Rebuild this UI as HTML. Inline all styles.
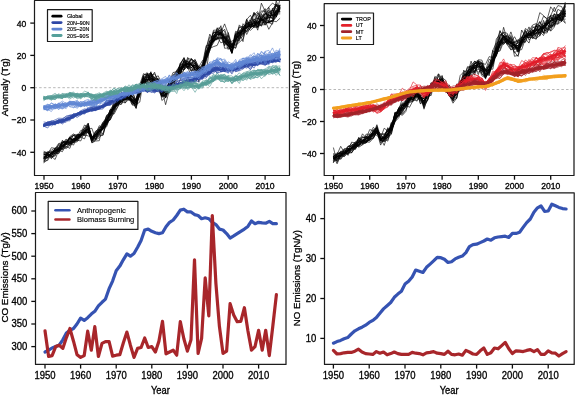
<!DOCTYPE html>
<html><head><meta charset="utf-8"><style>
html,body{margin:0;padding:0;background:#fff;width:575px;height:399px;overflow:hidden}
svg{display:block}
text{font-family:"Liberation Sans", sans-serif}
</style></head><body>
<svg width="575" height="399" viewBox="0 0 575 399" font-family='"Liberation Sans", sans-serif'>
<rect width="575" height="399" fill="#fff"/>
<defs><filter id="bl" x="0" y="0" width="575" height="399" filterUnits="userSpaceOnUse"><feGaussianBlur stdDeviation="0.4"/></filter></defs>
<g filter="url(#bl)">
<line x1="34.5" y1="87.7" x2="289.5" y2="87.7" stroke="#b8b8b8" stroke-width="1" stroke-dasharray="2.5,2.15"/>
<path d="M44.0,157.5 L47.7,155.5 L51.4,153.3 L55.1,151.3 L58.7,149.1 L62.4,146.1 L66.1,143.7 L69.8,141.6 L73.5,139.7 L77.2,137.9 L80.8,135.7 L84.5,132.0 L88.2,129.1 L91.9,139.1 L95.6,136.2 L99.3,131.8 L103.0,128.0 L106.6,120.7 L110.3,114.0 L114.0,107.6 L117.7,103.2 L121.4,100.2 L125.1,97.5 L128.8,96.0 L132.4,99.7 L136.1,102.7 L139.8,90.6 L143.5,80.0 L147.2,79.5 L150.9,79.1 L154.6,79.9 L158.2,82.7 L161.9,92.8 L165.6,94.7 L169.3,86.0 L173.0,81.4 L176.7,76.7 L180.3,70.2 L184.0,66.0 L187.7,63.9 L191.4,65.2 L195.1,67.6 L198.8,70.3 L202.5,70.1 L206.1,57.5 L209.8,45.6 L213.5,38.9 L217.2,34.4 L220.9,34.4 L224.6,37.6 L228.2,42.6 L231.9,47.9 L235.6,40.0 L239.3,33.8 L243.0,30.5 L246.7,27.7 L250.4,25.0 L254.0,23.5 L257.7,22.0 L261.4,20.5 L265.1,19.0 L268.8,17.6 L272.5,15.1 L276.2,12.0 L279.8,9.0" fill="none" stroke="#000" stroke-width="1.0" stroke-linejoin="round" stroke-linecap="round" opacity="1.0"/>
<path d="M44.0,158.3 L47.7,157.6 L51.4,154.0 L55.1,150.7 L58.7,149.2 L62.4,148.8 L66.1,142.7 L69.8,141.8 L73.5,142.4 L77.2,134.6 L80.8,134.6 L84.5,134.2 L88.2,127.4 L91.9,136.7 L95.6,133.9 L99.3,125.7 L103.0,129.0 L106.6,125.5 L110.3,118.0 L114.0,107.0 L117.7,100.6 L121.4,95.7 L125.1,99.6 L128.8,99.8 L132.4,100.5 L136.1,104.2 L139.8,88.5 L143.5,76.7 L147.2,77.5 L150.9,78.1 L154.6,80.3 L158.2,83.5 L161.9,90.0 L165.6,97.9 L169.3,86.2 L173.0,86.3 L176.7,78.4 L180.3,66.9 L184.0,70.0 L187.7,65.9 L191.4,67.6 L195.1,72.5 L198.8,69.5 L202.5,71.4 L206.1,56.6 L209.8,49.0 L213.5,38.5 L217.2,39.4 L220.9,32.3 L224.6,36.6 L228.2,41.1 L231.9,52.3 L235.6,34.7 L239.3,31.9 L243.0,33.5 L246.7,31.5 L250.4,28.1 L254.0,13.4 L257.7,15.6 L261.4,21.9 L265.1,21.1 L268.8,23.0 L272.5,20.4 L276.2,9.8 L279.8,8.7" fill="none" stroke="#000" stroke-width="0.7" stroke-linejoin="round" stroke-linecap="round" opacity="0.9"/>
<path d="M44.0,161.2 L47.7,160.5 L51.4,153.9 L55.1,150.7 L58.7,148.8 L62.4,148.2 L66.1,140.9 L69.8,143.4 L73.5,143.0 L77.2,136.9 L80.8,137.0 L84.5,134.5 L88.2,125.3 L91.9,139.4 L95.6,134.4 L99.3,129.9 L103.0,128.1 L106.6,122.0 L110.3,109.8 L114.0,108.5 L117.7,103.6 L121.4,91.8 L125.1,103.0 L128.8,99.4 L132.4,101.7 L136.1,102.5 L139.8,87.0 L143.5,77.1 L147.2,84.0 L150.9,72.7 L154.6,84.0 L158.2,83.7 L161.9,93.8 L165.6,98.1 L169.3,90.6 L173.0,78.7 L176.7,76.7 L180.3,73.2 L184.0,64.2 L187.7,64.3 L191.4,67.5 L195.1,65.0 L198.8,68.6 L202.5,72.6 L206.1,55.5 L209.8,48.4 L213.5,36.4 L217.2,34.3 L220.9,33.2 L224.6,37.7 L228.2,40.2 L231.9,48.6 L235.6,40.7 L239.3,26.8 L243.0,29.3 L246.7,28.1 L250.4,20.0 L254.0,27.0 L257.7,19.4 L261.4,13.9 L265.1,18.2 L268.8,7.3 L272.5,16.2 L276.2,14.8 L279.8,7.5" fill="none" stroke="#000" stroke-width="0.7" stroke-linejoin="round" stroke-linecap="round" opacity="0.9"/>
<path d="M44.0,156.8 L47.7,155.0 L51.4,158.6 L55.1,152.6 L58.7,148.6 L62.4,149.3 L66.1,147.7 L69.8,144.1 L73.5,139.3 L77.2,138.9 L80.8,134.7 L84.5,131.4 L88.2,130.8 L91.9,142.6 L95.6,140.1 L99.3,130.3 L103.0,134.8 L106.6,122.0 L110.3,119.9 L114.0,107.8 L117.7,105.0 L121.4,101.4 L125.1,95.9 L128.8,87.5 L132.4,98.2 L136.1,100.1 L139.8,89.2 L143.5,82.6 L147.2,77.3 L150.9,81.6 L154.6,79.2 L158.2,83.2 L161.9,89.1 L165.6,92.4 L169.3,83.5 L173.0,80.6 L176.7,74.8 L180.3,71.2 L184.0,66.6 L187.7,61.8 L191.4,65.4 L195.1,65.1 L198.8,66.6 L202.5,73.5 L206.1,57.4 L209.8,48.4 L213.5,46.6 L217.2,45.4 L220.9,36.8 L224.6,43.4 L228.2,45.1 L231.9,53.5 L235.6,38.6 L239.3,31.4 L243.0,32.0 L246.7,25.4 L250.4,24.7 L254.0,23.9 L257.7,22.7 L261.4,18.3 L265.1,24.4 L268.8,21.6 L272.5,20.1 L276.2,11.3 L279.8,8.2" fill="none" stroke="#000" stroke-width="0.7" stroke-linejoin="round" stroke-linecap="round" opacity="0.9"/>
<path d="M44.0,162.2 L47.7,153.6 L51.4,152.3 L55.1,151.8 L58.7,153.2 L62.4,146.6 L66.1,142.2 L69.8,137.7 L73.5,140.8 L77.2,139.3 L80.8,136.5 L84.5,131.8 L88.2,123.5 L91.9,139.7 L95.6,138.5 L99.3,130.6 L103.0,126.7 L106.6,126.9 L110.3,115.6 L114.0,106.6 L117.7,105.1 L121.4,101.7 L125.1,96.9 L128.8,98.1 L132.4,100.3 L136.1,108.3 L139.8,93.4 L143.5,79.4 L147.2,84.9 L150.9,83.0 L154.6,84.2 L158.2,86.1 L161.9,95.7 L165.6,95.6 L169.3,91.3 L173.0,80.5 L176.7,77.6 L180.3,75.7 L184.0,59.6 L187.7,67.8 L191.4,75.2 L195.1,72.1 L198.8,75.5 L202.5,73.8 L206.1,55.5 L209.8,48.4 L213.5,42.9 L217.2,34.8 L220.9,32.9 L224.6,38.2 L228.2,46.0 L231.9,47.9 L235.6,45.4 L239.3,42.3 L243.0,39.0 L246.7,26.6 L250.4,25.1 L254.0,27.4 L257.7,24.7 L261.4,25.6 L265.1,20.0 L268.8,21.3 L272.5,21.1 L276.2,16.6 L279.8,5.6" fill="none" stroke="#000" stroke-width="0.7" stroke-linejoin="round" stroke-linecap="round" opacity="0.9"/>
<path d="M44.0,157.8 L47.7,154.1 L51.4,147.7 L55.1,148.4 L58.7,148.5 L62.4,143.2 L66.1,140.3 L69.8,139.4 L73.5,140.4 L77.2,134.2 L80.8,134.7 L84.5,128.6 L88.2,126.9 L91.9,136.4 L95.6,136.8 L99.3,135.3 L103.0,126.9 L106.6,119.5 L110.3,114.3 L114.0,103.5 L117.7,100.1 L121.4,97.4 L125.1,90.3 L128.8,91.8 L132.4,98.8 L136.1,102.9 L139.8,90.9 L143.5,87.3 L147.2,76.7 L150.9,78.4 L154.6,78.9 L158.2,85.3 L161.9,88.8 L165.6,87.2 L169.3,84.9 L173.0,77.5 L176.7,72.3 L180.3,64.5 L184.0,57.4 L187.7,68.4 L191.4,67.6 L195.1,62.6 L198.8,74.2 L202.5,66.8 L206.1,54.9 L209.8,45.4 L213.5,37.2 L217.2,34.3 L220.9,33.2 L224.6,29.2 L228.2,40.4 L231.9,45.0 L235.6,37.7 L239.3,35.4 L243.0,29.8 L246.7,26.6 L250.4,26.6 L254.0,25.2 L257.7,22.9 L261.4,3.2 L265.1,11.3 L268.8,18.3 L272.5,13.4 L276.2,6.4 L279.8,8.1" fill="none" stroke="#000" stroke-width="0.7" stroke-linejoin="round" stroke-linecap="round" opacity="0.9"/>
<path d="M44.0,162.6 L47.7,159.2 L51.4,152.4 L55.1,153.9 L58.7,150.2 L62.4,145.0 L66.1,148.6 L69.8,145.6 L73.5,142.1 L77.2,140.3 L80.8,140.9 L84.5,131.8 L88.2,129.0 L91.9,141.1 L95.6,139.3 L99.3,135.8 L103.0,135.4 L106.6,121.8 L110.3,112.3 L114.0,114.2 L117.7,107.1 L121.4,97.3 L125.1,100.5 L128.8,98.5 L132.4,105.2 L136.1,105.3 L139.8,88.6 L143.5,76.3 L147.2,85.6 L150.9,77.4 L154.6,84.4 L158.2,86.6 L161.9,96.5 L165.6,88.4 L169.3,92.8 L173.0,86.1 L176.7,81.7 L180.3,66.8 L184.0,66.8 L187.7,65.5 L191.4,70.2 L195.1,69.7 L198.8,76.5 L202.5,70.9 L206.1,73.7 L209.8,45.4 L213.5,41.2 L217.2,38.6 L220.9,36.8 L224.6,46.1 L228.2,32.5 L231.9,45.1 L235.6,48.3 L239.3,38.1 L243.0,23.7 L246.7,28.4 L250.4,25.8 L254.0,27.1 L257.7,27.8 L261.4,23.5 L265.1,22.4 L268.8,21.8 L272.5,21.3 L276.2,13.4 L279.8,11.4" fill="none" stroke="#000" stroke-width="0.7" stroke-linejoin="round" stroke-linecap="round" opacity="0.9"/>
<path d="M44.0,153.0 L47.7,153.4 L51.4,158.4 L55.1,153.5 L58.7,148.9 L62.4,148.6 L66.1,142.8 L69.8,138.3 L73.5,139.8 L77.2,139.9 L80.8,135.2 L84.5,133.6 L88.2,127.9 L91.9,140.6 L95.6,136.6 L99.3,131.6 L103.0,128.1 L106.6,121.5 L110.3,114.4 L114.0,106.4 L117.7,102.9 L121.4,97.6 L125.1,95.9 L128.8,97.6 L132.4,95.7 L136.1,101.4 L139.8,86.8 L143.5,79.1 L147.2,76.0 L150.9,74.2 L154.6,77.7 L158.2,75.8 L161.9,84.1 L165.6,90.1 L169.3,86.4 L173.0,77.8 L176.7,72.4 L180.3,65.5 L184.0,69.7 L187.7,57.4 L191.4,64.7 L195.1,69.4 L198.8,67.9 L202.5,67.4 L206.1,54.5 L209.8,45.0 L213.5,42.1 L217.2,33.6 L220.9,32.4 L224.6,36.9 L228.2,41.7 L231.9,48.2 L235.6,31.3 L239.3,32.8 L243.0,35.5 L246.7,22.9 L250.4,27.6 L254.0,20.8 L257.7,30.2 L261.4,15.8 L265.1,14.5 L268.8,10.1 L272.5,16.0 L276.2,4.1 L279.8,11.8" fill="none" stroke="#000" stroke-width="0.7" stroke-linejoin="round" stroke-linecap="round" opacity="0.9"/>
<path d="M44.0,160.5 L47.7,154.8 L51.4,155.8 L55.1,153.1 L58.7,153.7 L62.4,146.4 L66.1,147.2 L69.8,143.0 L73.5,142.5 L77.2,141.8 L80.8,137.1 L84.5,138.9 L88.2,130.1 L91.9,140.8 L95.6,134.1 L99.3,132.0 L103.0,129.6 L106.6,124.4 L110.3,115.8 L114.0,107.1 L117.7,104.8 L121.4,99.0 L125.1,99.6 L128.8,97.4 L132.4,102.5 L136.1,104.5 L139.8,102.1 L143.5,78.9 L147.2,80.0 L150.9,79.2 L154.6,82.5 L158.2,89.6 L161.9,97.4 L165.6,94.4 L169.3,86.3 L173.0,85.5 L176.7,86.3 L180.3,79.5 L184.0,69.0 L187.7,66.6 L191.4,64.3 L195.1,70.6 L198.8,74.3 L202.5,70.7 L206.1,53.9 L209.8,44.9 L213.5,40.6 L217.2,37.0 L220.9,42.9 L224.6,41.2 L228.2,45.3 L231.9,50.7 L235.6,33.9 L239.3,39.6 L243.0,31.4 L246.7,26.9 L250.4,23.8 L254.0,19.2 L257.7,26.9 L261.4,17.8 L265.1,25.1 L268.8,21.6 L272.5,20.6 L276.2,21.8 L279.8,18.5" fill="none" stroke="#000" stroke-width="0.7" stroke-linejoin="round" stroke-linecap="round" opacity="0.9"/>
<path d="M44.0,154.2 L47.7,157.1 L51.4,153.5 L55.1,152.9 L58.7,143.8 L62.4,145.5 L66.1,143.1 L69.8,137.6 L73.5,135.4 L77.2,137.7 L80.8,135.2 L84.5,135.3 L88.2,135.8 L91.9,138.4 L95.6,131.6 L99.3,128.4 L103.0,122.1 L106.6,117.7 L110.3,113.4 L114.0,108.2 L117.7,101.9 L121.4,102.2 L125.1,96.3 L128.8,96.0 L132.4,101.6 L136.1,100.9 L139.8,96.4 L143.5,77.5 L147.2,74.7 L150.9,82.4 L154.6,81.1 L158.2,79.2 L161.9,89.2 L165.6,94.3 L169.3,81.8 L173.0,76.2 L176.7,77.1 L180.3,63.1 L184.0,58.4 L187.7,63.8 L191.4,59.2 L195.1,61.8 L198.8,70.1 L202.5,67.4 L206.1,53.3 L209.8,40.4 L213.5,32.7 L217.2,32.9 L220.9,25.7 L224.6,41.9 L228.2,39.9 L231.9,47.0 L235.6,48.0 L239.3,34.4 L243.0,28.6 L246.7,27.3 L250.4,25.1 L254.0,21.4 L257.7,22.1 L261.4,26.3 L265.1,14.1 L268.8,12.5 L272.5,9.7 L276.2,4.3 L279.8,11.1" fill="none" stroke="#000" stroke-width="0.7" stroke-linejoin="round" stroke-linecap="round" opacity="0.9"/>
<path d="M44.0,154.6 L47.7,154.6 L51.4,155.3 L55.1,148.6 L58.7,143.5 L62.4,142.7 L66.1,144.2 L69.8,137.1 L73.5,140.4 L77.2,135.8 L80.8,134.1 L84.5,127.7 L88.2,123.2 L91.9,142.2 L95.6,134.9 L99.3,130.1 L103.0,128.1 L106.6,119.7 L110.3,114.7 L114.0,109.8 L117.7,104.4 L121.4,100.2 L125.1,95.0 L128.8,94.2 L132.4,96.4 L136.1,103.0 L139.8,95.0 L143.5,74.9 L147.2,74.2 L150.9,76.0 L154.6,80.8 L158.2,88.7 L161.9,90.4 L165.6,93.7 L169.3,83.4 L173.0,76.0 L176.7,70.4 L180.3,64.8 L184.0,58.2 L187.7,67.5 L191.4,62.8 L195.1,59.3 L198.8,69.2 L202.5,63.8 L206.1,45.7 L209.8,45.4 L213.5,30.2 L217.2,30.1 L220.9,36.8 L224.6,38.6 L228.2,43.7 L231.9,46.8 L235.6,34.2 L239.3,33.0 L243.0,29.2 L246.7,23.8 L250.4,24.3 L254.0,25.1 L257.7,26.9 L261.4,13.5 L265.1,8.6 L268.8,16.9 L272.5,18.5 L276.2,1.0 L279.8,9.6" fill="none" stroke="#000" stroke-width="0.7" stroke-linejoin="round" stroke-linecap="round" opacity="0.9"/>
<path d="M44.0,158.7 L47.7,157.7 L51.4,154.2 L55.1,148.7 L58.7,152.0 L62.4,143.0 L66.1,142.5 L69.8,140.3 L73.5,138.6 L77.2,139.9 L80.8,134.8 L84.5,130.5 L88.2,129.7 L91.9,140.7 L95.6,134.4 L99.3,132.1 L103.0,126.2 L106.6,116.0 L110.3,112.4 L114.0,105.0 L117.7,105.1 L121.4,104.3 L125.1,96.9 L128.8,95.0 L132.4,102.1 L136.1,103.0 L139.8,89.9 L143.5,79.2 L147.2,74.3 L150.9,77.6 L154.6,80.8 L158.2,81.4 L161.9,88.8 L165.6,93.0 L169.3,83.0 L173.0,81.9 L176.7,77.6 L180.3,68.4 L184.0,63.3 L187.7,61.5 L191.4,64.3 L195.1,66.1 L198.8,73.8 L202.5,69.9 L206.1,59.2 L209.8,48.0 L213.5,35.4 L217.2,33.3 L220.9,32.7 L224.6,41.4 L228.2,44.9 L231.9,47.5 L235.6,40.4 L239.3,35.7 L243.0,28.4 L246.7,27.0 L250.4,30.3 L254.0,27.1 L257.7,20.3 L261.4,24.9 L265.1,24.7 L268.8,11.4 L272.5,15.3 L276.2,10.8 L279.8,9.5" fill="none" stroke="#000" stroke-width="0.7" stroke-linejoin="round" stroke-linecap="round" opacity="0.9"/>
<path d="M44.0,152.6 L47.7,152.2 L51.4,150.2 L55.1,148.1 L58.7,147.3 L62.4,145.4 L66.1,141.3 L69.8,139.9 L73.5,135.1 L77.2,134.8 L80.8,135.2 L84.5,130.8 L88.2,123.7 L91.9,138.3 L95.6,134.1 L99.3,131.4 L103.0,125.3 L106.6,118.6 L110.3,109.7 L114.0,104.2 L117.7,102.7 L121.4,98.1 L125.1,90.0 L128.8,100.4 L132.4,91.3 L136.1,101.2 L139.8,84.4 L143.5,73.6 L147.2,75.9 L150.9,77.5 L154.6,72.2 L158.2,82.9 L161.9,91.0 L165.6,91.5 L169.3,82.9 L173.0,79.0 L176.7,73.1 L180.3,70.2 L184.0,60.2 L187.7,61.7 L191.4,64.2 L195.1,61.5 L198.8,70.6 L202.5,67.5 L206.1,55.2 L209.8,46.4 L213.5,38.8 L217.2,28.3 L220.9,27.9 L224.6,37.6 L228.2,35.6 L231.9,51.9 L235.6,35.1 L239.3,27.3 L243.0,26.3 L246.7,25.2 L250.4,21.6 L254.0,12.1 L257.7,19.0 L261.4,10.9 L265.1,11.4 L268.8,7.1 L272.5,3.1 L276.2,5.8 L279.8,6.0" fill="none" stroke="#000" stroke-width="0.7" stroke-linejoin="round" stroke-linecap="round" opacity="0.9"/>
<path d="M44.0,158.1 L47.7,152.8 L51.4,157.0 L55.1,155.1 L58.7,150.3 L62.4,146.9 L66.1,143.7 L69.8,144.8 L73.5,138.4 L77.2,138.0 L80.8,134.6 L84.5,134.0 L88.2,131.2 L91.9,136.7 L95.6,139.3 L99.3,132.4 L103.0,127.1 L106.6,120.7 L110.3,109.4 L114.0,109.2 L117.7,103.6 L121.4,102.2 L125.1,99.4 L128.8,97.4 L132.4,102.7 L136.1,104.6 L139.8,95.2 L143.5,81.8 L147.2,82.6 L150.9,82.2 L154.6,85.6 L158.2,86.7 L161.9,96.5 L165.6,94.6 L169.3,88.5 L173.0,79.8 L176.7,77.8 L180.3,73.2 L184.0,69.9 L187.7,60.3 L191.4,65.0 L195.1,68.3 L198.8,73.7 L202.5,71.6 L206.1,59.4 L209.8,50.7 L213.5,40.4 L217.2,38.1 L220.9,38.7 L224.6,37.5 L228.2,43.2 L231.9,52.7 L235.6,32.8 L239.3,32.8 L243.0,41.6 L246.7,19.8 L250.4,26.3 L254.0,25.5 L257.7,18.7 L261.4,20.3 L265.1,18.9 L268.8,15.5 L272.5,15.0 L276.2,14.6 L279.8,6.2" fill="none" stroke="#000" stroke-width="0.7" stroke-linejoin="round" stroke-linecap="round" opacity="0.9"/>
<path d="M44.0,156.8 L47.7,157.8 L51.4,152.6 L55.1,150.9 L58.7,149.0 L62.4,146.5 L66.1,144.7 L69.8,142.6 L73.5,139.9 L77.2,141.1 L80.8,136.0 L84.5,131.6 L88.2,128.0 L91.9,140.4 L95.6,136.6 L99.3,131.6 L103.0,129.3 L106.6,116.3 L110.3,111.1 L114.0,107.6 L117.7,101.5 L121.4,97.9 L125.1,99.4 L128.8,90.5 L132.4,104.0 L136.1,102.9 L139.8,93.3 L143.5,82.3 L147.2,73.1 L150.9,82.6 L154.6,81.1 L158.2,82.7 L161.9,96.1 L165.6,93.5 L169.3,85.8 L173.0,83.2 L176.7,77.0 L180.3,74.6 L184.0,64.1 L187.7,64.6 L191.4,64.6 L195.1,66.4 L198.8,67.8 L202.5,68.1 L206.1,55.7 L209.8,48.4 L213.5,37.9 L217.2,38.0 L220.9,37.9 L224.6,37.1 L228.2,46.9 L231.9,49.4 L235.6,41.5 L239.3,38.2 L243.0,33.4 L246.7,22.5 L250.4,22.5 L254.0,18.6 L257.7,23.3 L261.4,19.4 L265.1,21.9 L268.8,14.4 L272.5,18.9 L276.2,10.3 L279.8,12.4" fill="none" stroke="#000" stroke-width="0.7" stroke-linejoin="round" stroke-linecap="round" opacity="0.9"/>
<path d="M44.0,154.6 L47.7,153.8 L51.4,155.9 L55.1,149.2 L58.7,152.1 L62.4,143.8 L66.1,139.0 L69.8,142.6 L73.5,141.0 L77.2,138.5 L80.8,134.8 L84.5,134.0 L88.2,129.1 L91.9,138.4 L95.6,133.8 L99.3,130.6 L103.0,127.7 L106.6,123.9 L110.3,118.4 L114.0,111.8 L117.7,106.7 L121.4,98.7 L125.1,99.7 L128.8,95.9 L132.4,99.6 L136.1,101.0 L139.8,92.4 L143.5,77.4 L147.2,80.7 L150.9,75.2 L154.6,87.2 L158.2,78.9 L161.9,100.5 L165.6,97.3 L169.3,86.5 L173.0,78.8 L176.7,76.2 L180.3,72.8 L184.0,61.2 L187.7,69.0 L191.4,63.5 L195.1,70.5 L198.8,72.4 L202.5,63.6 L206.1,54.3 L209.8,40.9 L213.5,40.9 L217.2,27.8 L220.9,33.2 L224.6,44.8 L228.2,41.8 L231.9,52.7 L235.6,36.5 L239.3,37.1 L243.0,28.0 L246.7,23.1 L250.4,24.8 L254.0,19.9 L257.7,18.1 L261.4,19.9 L265.1,18.2 L268.8,17.8 L272.5,17.3 L276.2,13.8 L279.8,13.9" fill="none" stroke="#000" stroke-width="0.7" stroke-linejoin="round" stroke-linecap="round" opacity="0.9"/>
<path d="M44.0,154.8 L47.7,152.8 L51.4,151.6 L55.1,150.7 L58.7,147.3 L62.4,141.2 L66.1,142.4 L69.8,141.1 L73.5,139.1 L77.2,136.6 L80.8,132.6 L84.5,135.5 L88.2,131.4 L91.9,139.4 L95.6,136.2 L99.3,127.6 L103.0,126.6 L106.6,123.8 L110.3,110.2 L114.0,109.8 L117.7,101.4 L121.4,95.8 L125.1,99.5 L128.8,97.4 L132.4,96.4 L136.1,103.1 L139.8,92.1 L143.5,78.0 L147.2,82.3 L150.9,73.2 L154.6,80.9 L158.2,78.7 L161.9,90.7 L165.6,89.8 L169.3,86.0 L173.0,81.7 L176.7,79.6 L180.3,63.2 L184.0,66.1 L187.7,63.5 L191.4,67.6 L195.1,65.3 L198.8,73.0 L202.5,65.0 L206.1,48.7 L209.8,34.1 L213.5,41.8 L217.2,31.3 L220.9,33.1 L224.6,42.6 L228.2,45.5 L231.9,52.7 L235.6,35.7 L239.3,33.0 L243.0,26.4 L246.7,34.5 L250.4,27.4 L254.0,25.2 L257.7,26.8 L261.4,18.3 L265.1,21.8 L268.8,22.4 L272.5,8.1 L276.2,17.0 L279.8,8.8" fill="none" stroke="#000" stroke-width="0.7" stroke-linejoin="round" stroke-linecap="round" opacity="0.9"/>
<path d="M44.0,158.0 L47.7,154.4 L51.4,156.3 L55.1,150.6 L58.7,148.9 L62.4,142.1 L66.1,141.8 L69.8,142.4 L73.5,141.6 L77.2,139.4 L80.8,133.2 L84.5,125.0 L88.2,127.0 L91.9,138.9 L95.6,134.3 L99.3,134.7 L103.0,123.4 L106.6,124.5 L110.3,111.9 L114.0,106.1 L117.7,100.5 L121.4,98.5 L125.1,93.3 L128.8,92.6 L132.4,101.1 L136.1,98.6 L139.8,86.5 L143.5,75.6 L147.2,72.6 L150.9,80.2 L154.6,85.3 L158.2,81.8 L161.9,92.7 L165.6,92.4 L169.3,92.6 L173.0,83.6 L176.7,77.5 L180.3,64.5 L184.0,65.2 L187.7,58.7 L191.4,59.1 L195.1,63.5 L198.8,67.0 L202.5,60.5 L206.1,59.5 L209.8,50.5 L213.5,35.9 L217.2,32.2 L220.9,33.6 L224.6,38.0 L228.2,42.7 L231.9,41.1 L235.6,39.6 L239.3,35.9 L243.0,29.6 L246.7,25.5 L250.4,19.2 L254.0,15.0 L257.7,11.6 L261.4,20.3 L265.1,20.3 L268.8,13.4 L272.5,10.1 L276.2,17.0 L279.8,7.9" fill="none" stroke="#000" stroke-width="0.7" stroke-linejoin="round" stroke-linecap="round" opacity="0.9"/>
<path d="M44.0,160.7 L47.7,157.1 L51.4,153.2 L55.1,151.8 L58.7,147.6 L62.4,145.7 L66.1,146.2 L69.8,148.4 L73.5,138.8 L77.2,135.6 L80.8,136.3 L84.5,131.7 L88.2,129.2 L91.9,128.3 L95.6,139.2 L99.3,133.8 L103.0,128.0 L106.6,119.2 L110.3,115.9 L114.0,111.0 L117.7,98.5 L121.4,97.5 L125.1,99.5 L128.8,98.9 L132.4,101.8 L136.1,108.4 L139.8,88.1 L143.5,80.4 L147.2,76.4 L150.9,72.9 L154.6,77.3 L158.2,82.6 L161.9,95.0 L165.6,95.2 L169.3,81.8 L173.0,74.8 L176.7,74.9 L180.3,68.5 L184.0,67.8 L187.7,66.4 L191.4,71.6 L195.1,67.1 L198.8,69.4 L202.5,71.5 L206.1,62.4 L209.8,45.7 L213.5,31.7 L217.2,32.5 L220.9,29.2 L224.6,31.3 L228.2,43.2 L231.9,53.4 L235.6,39.8 L239.3,24.9 L243.0,28.6 L246.7,32.0 L250.4,28.2 L254.0,25.7 L257.7,23.4 L261.4,19.5 L265.1,20.6 L268.8,29.3 L272.5,22.8 L276.2,12.5 L279.8,6.1" fill="none" stroke="#000" stroke-width="0.7" stroke-linejoin="round" stroke-linecap="round" opacity="0.9"/>
<path d="M44.0,155.5 L47.7,153.6 L51.4,156.3 L55.1,159.5 L58.7,150.4 L62.4,149.6 L66.1,142.7 L69.8,137.9 L73.5,141.8 L77.2,139.6 L80.8,136.4 L84.5,130.6 L88.2,129.0 L91.9,142.9 L95.6,141.0 L99.3,140.7 L103.0,122.6 L106.6,120.7 L110.3,119.8 L114.0,112.4 L117.7,102.9 L121.4,104.1 L125.1,97.3 L128.8,96.1 L132.4,101.9 L136.1,105.4 L139.8,87.0 L143.5,83.2 L147.2,79.2 L150.9,80.1 L154.6,83.0 L158.2,80.0 L161.9,89.7 L165.6,104.7 L169.3,90.7 L173.0,80.7 L176.7,76.6 L180.3,72.2 L184.0,65.9 L187.7,63.3 L191.4,65.4 L195.1,68.9 L198.8,81.9 L202.5,65.8 L206.1,58.1 L209.8,45.4 L213.5,40.5 L217.2,39.6 L220.9,35.0 L224.6,38.9 L228.2,49.5 L231.9,43.5 L235.6,45.0 L239.3,38.7 L243.0,36.4 L246.7,19.6 L250.4,15.3 L254.0,21.7 L257.7,26.7 L261.4,19.8 L265.1,10.7 L268.8,22.6 L272.5,24.2 L276.2,8.5 L279.8,7.8" fill="none" stroke="#000" stroke-width="0.7" stroke-linejoin="round" stroke-linecap="round" opacity="0.9"/>
<path d="M44.0,153.5 L47.7,155.1 L51.4,155.1 L55.1,153.3 L58.7,149.5 L62.4,145.4 L66.1,143.2 L69.8,136.6 L73.5,133.9 L77.2,136.2 L80.8,130.4 L84.5,129.8 L88.2,132.7 L91.9,139.9 L95.6,134.3 L99.3,132.2 L103.0,126.5 L106.6,115.2 L110.3,114.3 L114.0,107.6 L117.7,101.4 L121.4,96.5 L125.1,97.6 L128.8,95.1 L132.4,96.4 L136.1,101.2 L139.8,92.7 L143.5,82.2 L147.2,78.2 L150.9,75.8 L154.6,73.8 L158.2,80.1 L161.9,93.8 L165.6,90.2 L169.3,81.3 L173.0,77.9 L176.7,73.2 L180.3,68.3 L184.0,61.0 L187.7,67.2 L191.4,58.8 L195.1,62.0 L198.8,67.3 L202.5,69.1 L206.1,53.1 L209.8,41.1 L213.5,37.5 L217.2,29.5 L220.9,31.2 L224.6,43.0 L228.2,35.5 L231.9,45.2 L235.6,40.4 L239.3,33.0 L243.0,34.1 L246.7,27.7 L250.4,22.1 L254.0,26.0 L257.7,12.9 L261.4,19.1 L265.1,13.1 L268.8,16.6 L272.5,10.5 L276.2,3.7 L279.8,7.6" fill="none" stroke="#000" stroke-width="0.7" stroke-linejoin="round" stroke-linecap="round" opacity="0.9"/>
<path d="M44.0,156.8 L47.7,157.0 L51.4,152.9 L55.1,151.9 L58.7,150.2 L62.4,151.7 L66.1,144.7 L69.8,143.4 L73.5,145.1 L77.2,137.4 L80.8,134.3 L84.5,131.3 L88.2,126.0 L91.9,140.2 L95.6,140.1 L99.3,137.6 L103.0,133.0 L106.6,123.4 L110.3,114.9 L114.0,100.1 L117.7,101.5 L121.4,102.1 L125.1,98.1 L128.8,98.8 L132.4,100.3 L136.1,107.2 L139.8,91.1 L143.5,84.2 L147.2,81.3 L150.9,71.7 L154.6,86.1 L158.2,80.2 L161.9,95.6 L165.6,96.2 L169.3,80.3 L173.0,80.8 L176.7,75.9 L180.3,69.3 L184.0,61.8 L187.7,64.2 L191.4,62.6 L195.1,63.7 L198.8,69.5 L202.5,66.6 L206.1,60.0 L209.8,43.4 L213.5,40.6 L217.2,38.5 L220.9,29.6 L224.6,48.3 L228.2,47.9 L231.9,49.8 L235.6,39.9 L239.3,41.0 L243.0,28.6 L246.7,31.3 L250.4,23.4 L254.0,26.3 L257.7,23.3 L261.4,22.5 L265.1,22.8 L268.8,22.4 L272.5,21.5 L276.2,17.2 L279.8,5.4" fill="none" stroke="#000" stroke-width="0.7" stroke-linejoin="round" stroke-linecap="round" opacity="0.9"/>
<path d="M44.0,159.5 L47.7,151.5 L51.4,153.9 L55.1,148.7 L58.7,145.5 L62.4,144.5 L66.1,144.3 L69.8,137.7 L73.5,135.5 L77.2,137.8 L80.8,134.3 L84.5,128.4 L88.2,125.6 L91.9,137.6 L95.6,134.8 L99.3,129.2 L103.0,129.6 L106.6,118.9 L110.3,115.4 L114.0,107.3 L117.7,102.4 L121.4,99.8 L125.1,89.6 L128.8,99.0 L132.4,99.4 L136.1,99.3 L139.8,87.5 L143.5,81.2 L147.2,80.8 L150.9,76.3 L154.6,77.6 L158.2,83.9 L161.9,92.6 L165.6,97.2 L169.3,82.3 L173.0,72.5 L176.7,71.8 L180.3,73.3 L184.0,64.0 L187.7,64.3 L191.4,58.6 L195.1,70.8 L198.8,69.7 L202.5,68.3 L206.1,53.1 L209.8,48.7 L213.5,35.8 L217.2,31.1 L220.9,32.4 L224.6,23.9 L228.2,33.7 L231.9,47.9 L235.6,43.7 L239.3,34.9 L243.0,30.3 L246.7,18.9 L250.4,27.9 L254.0,21.3 L257.7,23.7 L261.4,17.4 L265.1,18.8 L268.8,20.8 L272.5,10.2 L276.2,13.2 L279.8,4.9" fill="none" stroke="#000" stroke-width="0.7" stroke-linejoin="round" stroke-linecap="round" opacity="0.9"/>
<path d="M44.0,151.4 L47.7,153.0 L51.4,151.7 L55.1,149.7 L58.7,151.6 L62.4,140.2 L66.1,144.4 L69.8,143.0 L73.5,134.9 L77.2,136.6 L80.8,134.8 L84.5,132.0 L88.2,129.7 L91.9,139.2 L95.6,132.3 L99.3,130.2 L103.0,123.9 L106.6,120.4 L110.3,113.5 L114.0,105.8 L117.7,99.2 L121.4,100.5 L125.1,95.8 L128.8,95.2 L132.4,92.7 L136.1,101.2 L139.8,87.0 L143.5,80.5 L147.2,85.6 L150.9,80.7 L154.6,78.3 L158.2,78.8 L161.9,87.5 L165.6,94.7 L169.3,88.3 L173.0,90.0 L176.7,70.4 L180.3,68.1 L184.0,67.8 L187.7,64.0 L191.4,63.3 L195.1,59.9 L198.8,66.5 L202.5,69.5 L206.1,48.4 L209.8,37.1 L213.5,36.7 L217.2,36.2 L220.9,34.1 L224.6,36.1 L228.2,38.8 L231.9,46.3 L235.6,40.7 L239.3,31.4 L243.0,26.8 L246.7,27.1 L250.4,22.2 L254.0,13.2 L257.7,25.2 L261.4,16.0 L265.1,17.8 L268.8,14.0 L272.5,13.1 L276.2,5.5 L279.8,6.3" fill="none" stroke="#000" stroke-width="0.7" stroke-linejoin="round" stroke-linecap="round" opacity="0.9"/>
<path d="M44.0,157.8 L47.7,155.2 L51.4,157.1 L55.1,156.0 L58.7,149.0 L62.4,142.4 L66.1,141.6 L69.8,145.8 L73.5,140.7 L77.2,136.2 L80.8,134.5 L84.5,131.5 L88.2,132.8 L91.9,138.9 L95.6,131.0 L99.3,129.5 L103.0,122.8 L106.6,118.9 L110.3,114.0 L114.0,105.3 L117.7,102.4 L121.4,101.3 L125.1,103.0 L128.8,95.5 L132.4,104.6 L136.1,102.1 L139.8,85.6 L143.5,85.8 L147.2,74.3 L150.9,73.0 L154.6,79.4 L158.2,86.0 L161.9,89.4 L165.6,91.0 L169.3,83.3 L173.0,82.6 L176.7,73.9 L180.3,70.9 L184.0,64.6 L187.7,63.0 L191.4,71.0 L195.1,64.3 L198.8,70.2 L202.5,67.0 L206.1,51.4 L209.8,46.2 L213.5,32.6 L217.2,32.2 L220.9,34.4 L224.6,34.0 L228.2,46.1 L231.9,46.2 L235.6,39.2 L239.3,30.1 L243.0,31.3 L246.7,30.2 L250.4,26.6 L254.0,21.7 L257.7,27.4 L261.4,20.3 L265.1,13.7 L268.8,15.3 L272.5,16.2 L276.2,14.6 L279.8,-0.2" fill="none" stroke="#000" stroke-width="0.7" stroke-linejoin="round" stroke-linecap="round" opacity="0.9"/>
<path d="M44.0,125.0 L47.7,124.3 L51.4,123.6 L55.1,122.8 L58.7,121.9 L62.4,121.0 L66.1,119.7 L69.8,118.0 L73.5,116.3 L77.2,114.5 L80.8,112.7 L84.5,111.6 L88.2,110.6 L91.9,109.8 L95.6,108.9 L99.3,107.8 L103.0,106.3 L106.6,104.3 L110.3,102.3 L114.0,100.6 L117.7,99.1 L121.4,97.6 L125.1,95.8 L128.8,93.8 L132.4,92.3 L136.1,91.0 L139.8,89.7 L143.5,89.1 L147.2,89.2 L150.9,89.3 L154.6,89.5 L158.2,89.6 L161.9,89.4 L165.6,88.5 L169.3,87.6 L173.0,86.7 L176.7,85.2 L180.3,83.8 L184.0,82.3 L187.7,81.1 L191.4,80.1 L195.1,79.1 L198.8,78.1 L202.5,76.1 L206.1,74.1 L209.8,72.1 L213.5,70.0 L217.2,68.6 L220.9,69.0 L224.6,69.3 L228.2,69.7 L231.9,69.8 L235.6,68.4 L239.3,67.1 L243.0,65.7 L246.7,64.7 L250.4,64.2 L254.0,63.6 L257.7,63.0 L261.4,62.4 L265.1,61.8 L268.8,61.2 L272.5,60.7 L276.2,60.1 L279.8,59.5" fill="none" stroke="#3049a6" stroke-width="2.2" stroke-linejoin="round" stroke-linecap="round" opacity="1.0"/>
<path d="M44.0,126.3 L47.7,122.2 L51.4,121.8 L55.1,124.2 L58.7,121.5 L62.4,119.0 L66.1,118.5 L69.8,119.1 L73.5,115.5 L77.2,115.1 L80.8,113.5 L84.5,110.0 L88.2,109.9 L91.9,108.5 L95.6,110.0 L99.3,107.3 L103.0,105.3 L106.6,103.6 L110.3,101.4 L114.0,100.8 L117.7,99.3 L121.4,97.9 L125.1,96.5 L128.8,92.9 L132.4,91.6 L136.1,91.4 L139.8,91.8 L143.5,89.1 L147.2,90.1 L150.9,90.0 L154.6,91.1 L158.2,88.2 L161.9,87.4 L165.6,87.3 L169.3,85.7 L173.0,87.0 L176.7,82.1 L180.3,80.0 L184.0,81.2 L187.7,82.9 L191.4,80.4 L195.1,76.8 L198.8,79.0 L202.5,73.1 L206.1,73.6 L209.8,70.6 L213.5,67.8 L217.2,66.9 L220.9,68.2 L224.6,66.8 L228.2,68.8 L231.9,70.1 L235.6,67.9 L239.3,67.9 L243.0,63.4 L246.7,62.4 L250.4,63.0 L254.0,62.7 L257.7,61.5 L261.4,58.9 L265.1,64.2 L268.8,62.3 L272.5,60.6 L276.2,56.3 L279.8,60.2" fill="none" stroke="#3049a6" stroke-width="0.7" stroke-linejoin="round" stroke-linecap="round" opacity="0.9"/>
<path d="M44.0,122.0 L47.7,122.7 L51.4,120.9 L55.1,121.7 L58.7,119.9 L62.4,119.6 L66.1,119.2 L69.8,115.3 L73.5,114.9 L77.2,113.1 L80.8,111.9 L84.5,111.5 L88.2,108.1 L91.9,107.8 L95.6,107.3 L99.3,106.9 L103.0,104.5 L106.6,100.5 L110.3,101.0 L114.0,100.1 L117.7,96.2 L121.4,95.8 L125.1,92.5 L128.8,94.0 L132.4,91.7 L136.1,89.2 L139.8,89.3 L143.5,90.0 L147.2,88.0 L150.9,84.2 L154.6,88.0 L158.2,89.9 L161.9,88.3 L165.6,86.1 L169.3,89.3 L173.0,85.4 L176.7,85.6 L180.3,84.1 L184.0,80.4 L187.7,80.9 L191.4,81.0 L195.1,77.9 L198.8,76.1 L202.5,73.6 L206.1,71.9 L209.8,71.8 L213.5,64.6 L217.2,68.6 L220.9,68.1 L224.6,66.6 L228.2,65.7 L231.9,68.7 L235.6,68.3 L239.3,65.2 L243.0,62.0 L246.7,62.7 L250.4,61.3 L254.0,60.4 L257.7,56.7 L261.4,63.1 L265.1,57.8 L268.8,60.7 L272.5,56.6 L276.2,55.8 L279.8,56.7" fill="none" stroke="#3049a6" stroke-width="0.7" stroke-linejoin="round" stroke-linecap="round" opacity="0.9"/>
<path d="M44.0,125.2 L47.7,125.3 L51.4,122.4 L55.1,123.2 L58.7,120.9 L62.4,121.7 L66.1,120.0 L69.8,119.9 L73.5,115.8 L77.2,113.5 L80.8,113.2 L84.5,111.8 L88.2,111.3 L91.9,109.8 L95.6,106.8 L99.3,107.0 L103.0,106.3 L106.6,103.8 L110.3,102.0 L114.0,102.2 L117.7,100.0 L121.4,99.5 L125.1,94.2 L128.8,91.4 L132.4,90.7 L136.1,90.3 L139.8,89.9 L143.5,89.3 L147.2,90.4 L150.9,87.0 L154.6,87.8 L158.2,87.8 L161.9,86.9 L165.6,85.4 L169.3,87.9 L173.0,85.0 L176.7,85.0 L180.3,83.6 L184.0,81.9 L187.7,81.3 L191.4,82.3 L195.1,79.8 L198.8,77.2 L202.5,76.8 L206.1,73.3 L209.8,69.5 L213.5,67.0 L217.2,71.0 L220.9,69.0 L224.6,68.8 L228.2,68.4 L231.9,68.7 L235.6,68.1 L239.3,66.9 L243.0,65.4 L246.7,65.3 L250.4,62.0 L254.0,64.4 L257.7,62.0 L261.4,61.0 L265.1,61.1 L268.8,61.5 L272.5,59.3 L276.2,57.3 L279.8,55.9" fill="none" stroke="#3049a6" stroke-width="0.7" stroke-linejoin="round" stroke-linecap="round" opacity="0.9"/>
<path d="M44.0,125.8 L47.7,125.1 L51.4,124.0 L55.1,122.9 L58.7,123.5 L62.4,120.6 L66.1,120.5 L69.8,117.2 L73.5,117.5 L77.2,114.7 L80.8,111.2 L84.5,112.0 L88.2,110.8 L91.9,108.1 L95.6,110.4 L99.3,106.6 L103.0,107.4 L106.6,104.5 L110.3,103.7 L114.0,100.3 L117.7,98.5 L121.4,98.1 L125.1,94.5 L128.8,93.1 L132.4,90.7 L136.1,92.0 L139.8,88.7 L143.5,88.9 L147.2,91.5 L150.9,90.7 L154.6,89.9 L158.2,87.0 L161.9,89.2 L165.6,87.3 L169.3,84.7 L173.0,89.0 L176.7,84.3 L180.3,86.3 L184.0,82.2 L187.7,82.9 L191.4,80.3 L195.1,80.4 L198.8,78.5 L202.5,75.1 L206.1,73.2 L209.8,73.2 L213.5,69.9 L217.2,69.8 L220.9,69.9 L224.6,68.8 L228.2,68.8 L231.9,67.1 L235.6,70.2 L239.3,67.4 L243.0,65.4 L246.7,66.6 L250.4,63.4 L254.0,62.0 L257.7,65.7 L261.4,62.2 L265.1,63.8 L268.8,62.7 L272.5,61.7 L276.2,60.5 L279.8,61.6" fill="none" stroke="#3049a6" stroke-width="0.7" stroke-linejoin="round" stroke-linecap="round" opacity="0.9"/>
<path d="M44.0,125.3 L47.7,121.8 L51.4,123.3 L55.1,121.5 L58.7,121.0 L62.4,119.9 L66.1,119.4 L69.8,117.8 L73.5,115.2 L77.2,115.3 L80.8,112.3 L84.5,111.4 L88.2,109.2 L91.9,109.5 L95.6,108.1 L99.3,106.7 L103.0,106.8 L106.6,102.1 L110.3,101.0 L114.0,102.1 L117.7,96.9 L121.4,95.9 L125.1,96.0 L128.8,93.7 L132.4,91.8 L136.1,92.4 L139.8,86.4 L143.5,89.7 L147.2,87.7 L150.9,89.9 L154.6,87.8 L158.2,88.8 L161.9,87.7 L165.6,88.4 L169.3,88.2 L173.0,85.7 L176.7,84.4 L180.3,84.4 L184.0,81.5 L187.7,80.3 L191.4,80.8 L195.1,79.7 L198.8,79.2 L202.5,76.0 L206.1,71.8 L209.8,71.3 L213.5,69.3 L217.2,66.5 L220.9,72.1 L224.6,66.4 L228.2,70.0 L231.9,66.7 L235.6,67.6 L239.3,68.2 L243.0,64.4 L246.7,65.6 L250.4,69.4 L254.0,63.9 L257.7,61.4 L261.4,61.0 L265.1,60.3 L268.8,60.0 L272.5,59.4 L276.2,56.6 L279.8,58.9" fill="none" stroke="#3049a6" stroke-width="0.7" stroke-linejoin="round" stroke-linecap="round" opacity="0.9"/>
<path d="M44.0,125.5 L47.7,124.6 L51.4,124.1 L55.1,123.1 L58.7,121.7 L62.4,120.1 L66.1,119.1 L69.8,116.9 L73.5,114.5 L77.2,113.6 L80.8,112.3 L84.5,113.4 L88.2,111.5 L91.9,110.8 L95.6,109.4 L99.3,107.4 L103.0,104.8 L106.6,102.5 L110.3,102.0 L114.0,99.4 L117.7,98.7 L121.4,95.8 L125.1,97.5 L128.8,91.1 L132.4,94.0 L136.1,90.9 L139.8,89.3 L143.5,87.7 L147.2,91.9 L150.9,89.6 L154.6,86.1 L158.2,88.0 L161.9,91.7 L165.6,87.9 L169.3,88.0 L173.0,86.3 L176.7,83.9 L180.3,85.9 L184.0,82.3 L187.7,78.1 L191.4,80.0 L195.1,77.5 L198.8,78.4 L202.5,74.7 L206.1,76.3 L209.8,71.3 L213.5,67.8 L217.2,70.3 L220.9,70.5 L224.6,69.7 L228.2,70.9 L231.9,67.6 L235.6,70.8 L239.3,68.8 L243.0,66.5 L246.7,68.2 L250.4,65.2 L254.0,63.2 L257.7,62.9 L261.4,63.6 L265.1,62.5 L268.8,63.8 L272.5,57.0 L276.2,61.1 L279.8,59.3" fill="none" stroke="#3049a6" stroke-width="0.7" stroke-linejoin="round" stroke-linecap="round" opacity="0.9"/>
<path d="M44.0,125.6 L47.7,123.5 L51.4,122.3 L55.1,122.3 L58.7,123.4 L62.4,120.1 L66.1,119.4 L69.8,118.3 L73.5,116.2 L77.2,114.0 L80.8,111.6 L84.5,112.6 L88.2,111.1 L91.9,110.1 L95.6,107.8 L99.3,108.0 L103.0,106.6 L106.6,103.4 L110.3,101.3 L114.0,97.9 L117.7,98.4 L121.4,96.0 L125.1,93.9 L128.8,93.7 L132.4,93.0 L136.1,91.1 L139.8,90.2 L143.5,88.0 L147.2,85.5 L150.9,88.3 L154.6,90.8 L158.2,91.8 L161.9,87.8 L165.6,89.3 L169.3,88.3 L173.0,85.9 L176.7,83.1 L180.3,84.6 L184.0,82.5 L187.7,80.2 L191.4,78.8 L195.1,78.0 L198.8,75.1 L202.5,78.9 L206.1,72.0 L209.8,69.5 L213.5,70.1 L217.2,68.0 L220.9,68.1 L224.6,68.1 L228.2,68.0 L231.9,68.4 L235.6,64.4 L239.3,66.2 L243.0,63.9 L246.7,63.2 L250.4,64.4 L254.0,62.6 L257.7,60.9 L261.4,61.2 L265.1,61.1 L268.8,60.4 L272.5,58.4 L276.2,60.7 L279.8,56.1" fill="none" stroke="#3049a6" stroke-width="0.7" stroke-linejoin="round" stroke-linecap="round" opacity="0.9"/>
<path d="M44.0,123.7 L47.7,122.5 L51.4,124.0 L55.1,124.2 L58.7,122.4 L62.4,122.7 L66.1,119.8 L69.8,119.2 L73.5,113.5 L77.2,114.6 L80.8,112.9 L84.5,114.2 L88.2,109.2 L91.9,110.4 L95.6,108.4 L99.3,107.4 L103.0,107.5 L106.6,105.6 L110.3,101.9 L114.0,100.9 L117.7,98.5 L121.4,100.0 L125.1,95.9 L128.8,94.1 L132.4,94.5 L136.1,92.4 L139.8,91.3 L143.5,87.9 L147.2,91.7 L150.9,91.7 L154.6,92.3 L158.2,89.7 L161.9,89.4 L165.6,87.6 L169.3,88.3 L173.0,87.7 L176.7,84.8 L180.3,84.7 L184.0,82.4 L187.7,84.3 L191.4,81.5 L195.1,78.0 L198.8,78.7 L202.5,75.3 L206.1,73.8 L209.8,72.3 L213.5,69.0 L217.2,73.2 L220.9,69.3 L224.6,69.2 L228.2,69.1 L231.9,72.6 L235.6,68.2 L239.3,69.7 L243.0,66.6 L246.7,64.5 L250.4,64.9 L254.0,64.4 L257.7,61.8 L261.4,63.2 L265.1,61.1 L268.8,60.1 L272.5,61.8 L276.2,61.0 L279.8,61.4" fill="none" stroke="#3049a6" stroke-width="0.7" stroke-linejoin="round" stroke-linecap="round" opacity="0.9"/>
<path d="M44.0,126.4 L47.7,124.3 L51.4,123.4 L55.1,121.4 L58.7,121.5 L62.4,119.7 L66.1,119.5 L69.8,118.0 L73.5,116.3 L77.2,114.3 L80.8,112.8 L84.5,110.6 L88.2,111.7 L91.9,108.9 L95.6,108.3 L99.3,108.8 L103.0,106.3 L106.6,104.9 L110.3,104.9 L114.0,103.3 L117.7,97.1 L121.4,96.4 L125.1,96.6 L128.8,92.8 L132.4,91.6 L136.1,92.8 L139.8,89.1 L143.5,89.9 L147.2,90.4 L150.9,88.9 L154.6,85.4 L158.2,89.1 L161.9,91.0 L165.6,88.2 L169.3,88.3 L173.0,86.7 L176.7,87.1 L180.3,82.8 L184.0,81.8 L187.7,79.9 L191.4,80.9 L195.1,78.0 L198.8,79.8 L202.5,75.2 L206.1,76.5 L209.8,74.6 L213.5,69.0 L217.2,70.5 L220.9,68.7 L224.6,67.6 L228.2,69.4 L231.9,71.2 L235.6,70.2 L239.3,65.5 L243.0,64.9 L246.7,63.6 L250.4,64.2 L254.0,68.2 L257.7,61.7 L261.4,63.9 L265.1,64.5 L268.8,60.9 L272.5,62.8 L276.2,60.5 L279.8,61.8" fill="none" stroke="#3049a6" stroke-width="0.7" stroke-linejoin="round" stroke-linecap="round" opacity="0.9"/>
<path d="M44.0,125.0 L47.7,124.1 L51.4,125.9 L55.1,123.8 L58.7,122.7 L62.4,122.5 L66.1,120.7 L69.8,120.9 L73.5,115.6 L77.2,117.4 L80.8,114.8 L84.5,112.4 L88.2,108.0 L91.9,110.8 L95.6,109.7 L99.3,108.4 L103.0,106.4 L106.6,105.5 L110.3,104.2 L114.0,103.2 L117.7,101.7 L121.4,96.8 L125.1,97.1 L128.8,95.1 L132.4,91.4 L136.1,89.9 L139.8,88.7 L143.5,90.1 L147.2,91.3 L150.9,88.5 L154.6,90.4 L158.2,91.7 L161.9,92.0 L165.6,88.5 L169.3,85.3 L173.0,87.4 L176.7,85.3 L180.3,83.9 L184.0,84.8 L187.7,83.8 L191.4,83.9 L195.1,80.7 L198.8,81.9 L202.5,77.2 L206.1,73.9 L209.8,74.3 L213.5,69.7 L217.2,72.9 L220.9,71.9 L224.6,70.6 L228.2,68.7 L231.9,67.2 L235.6,71.3 L239.3,70.8 L243.0,69.1 L246.7,65.8 L250.4,69.8 L254.0,64.6 L257.7,64.8 L261.4,64.2 L265.1,65.1 L268.8,62.8 L272.5,59.1 L276.2,60.3 L279.8,59.5" fill="none" stroke="#3049a6" stroke-width="0.7" stroke-linejoin="round" stroke-linecap="round" opacity="0.9"/>
<path d="M44.0,125.1 L47.7,124.8 L51.4,123.0 L55.1,122.8 L58.7,119.7 L62.4,121.7 L66.1,119.3 L69.8,118.6 L73.5,116.5 L77.2,115.0 L80.8,115.1 L84.5,112.5 L88.2,110.5 L91.9,110.5 L95.6,109.6 L99.3,109.4 L103.0,108.9 L106.6,104.5 L110.3,105.2 L114.0,98.4 L117.7,97.2 L121.4,95.5 L125.1,97.1 L128.8,93.1 L132.4,90.6 L136.1,92.7 L139.8,87.0 L143.5,88.6 L147.2,87.9 L150.9,90.6 L154.6,90.9 L158.2,88.7 L161.9,91.0 L165.6,90.3 L169.3,90.4 L173.0,87.7 L176.7,85.4 L180.3,82.6 L184.0,82.9 L187.7,83.0 L191.4,80.0 L195.1,81.5 L198.8,77.5 L202.5,77.7 L206.1,78.1 L209.8,72.7 L213.5,71.3 L217.2,68.4 L220.9,67.2 L224.6,71.4 L228.2,70.9 L231.9,70.1 L235.6,69.5 L239.3,68.2 L243.0,68.1 L246.7,65.8 L250.4,64.4 L254.0,63.2 L257.7,61.4 L261.4,61.7 L265.1,61.9 L268.8,62.6 L272.5,60.3 L276.2,57.9 L279.8,58.3" fill="none" stroke="#3049a6" stroke-width="0.7" stroke-linejoin="round" stroke-linecap="round" opacity="0.9"/>
<path d="M44.0,125.8 L47.7,122.8 L51.4,121.3 L55.1,119.9 L58.7,118.2 L62.4,118.4 L66.1,117.0 L69.8,115.4 L73.5,114.3 L77.2,113.2 L80.8,111.6 L84.5,110.2 L88.2,108.3 L91.9,106.9 L95.6,106.2 L99.3,108.2 L103.0,107.8 L106.6,100.3 L110.3,101.1 L114.0,100.2 L117.7,94.9 L121.4,95.9 L125.1,92.7 L128.8,90.0 L132.4,91.0 L136.1,89.6 L139.8,87.5 L143.5,85.7 L147.2,86.3 L150.9,87.2 L154.6,84.9 L158.2,87.9 L161.9,87.4 L165.6,86.9 L169.3,86.8 L173.0,84.4 L176.7,84.6 L180.3,80.9 L184.0,78.0 L187.7,77.7 L191.4,77.6 L195.1,77.5 L198.8,74.6 L202.5,74.1 L206.1,72.2 L209.8,70.3 L213.5,67.3 L217.2,67.0 L220.9,68.8 L224.6,65.9 L228.2,70.9 L231.9,68.5 L235.6,67.4 L239.3,63.8 L243.0,60.9 L246.7,61.9 L250.4,62.1 L254.0,59.4 L257.7,62.6 L261.4,58.9 L265.1,62.9 L268.8,57.4 L272.5,58.5 L276.2,57.3 L279.8,57.7" fill="none" stroke="#3049a6" stroke-width="0.7" stroke-linejoin="round" stroke-linecap="round" opacity="0.9"/>
<path d="M44.0,125.8 L47.7,125.7 L51.4,124.2 L55.1,124.3 L58.7,121.5 L62.4,122.9 L66.1,119.9 L69.8,117.6 L73.5,117.0 L77.2,114.5 L80.8,112.9 L84.5,111.1 L88.2,111.2 L91.9,109.5 L95.6,109.4 L99.3,108.8 L103.0,105.6 L106.6,103.8 L110.3,102.9 L114.0,100.7 L117.7,97.6 L121.4,98.7 L125.1,97.8 L128.8,93.1 L132.4,94.7 L136.1,92.0 L139.8,92.8 L143.5,88.5 L147.2,89.2 L150.9,88.4 L154.6,91.0 L158.2,89.6 L161.9,92.6 L165.6,88.9 L169.3,86.1 L173.0,86.7 L176.7,89.0 L180.3,85.7 L184.0,82.0 L187.7,82.9 L191.4,80.8 L195.1,82.6 L198.8,77.5 L202.5,78.3 L206.1,73.9 L209.8,72.4 L213.5,71.5 L217.2,67.8 L220.9,71.6 L224.6,70.8 L228.2,68.0 L231.9,71.0 L235.6,69.7 L239.3,66.1 L243.0,65.2 L246.7,63.8 L250.4,65.0 L254.0,65.0 L257.7,63.4 L261.4,58.3 L265.1,64.7 L268.8,63.6 L272.5,61.6 L276.2,60.2 L279.8,59.6" fill="none" stroke="#3049a6" stroke-width="0.7" stroke-linejoin="round" stroke-linecap="round" opacity="0.9"/>
<path d="M44.0,124.5 L47.7,121.9 L51.4,121.3 L55.1,121.4 L58.7,119.8 L62.4,119.2 L66.1,116.0 L69.8,115.2 L73.5,115.9 L77.2,113.6 L80.8,110.7 L84.5,108.9 L88.2,109.4 L91.9,107.1 L95.6,106.6 L99.3,105.8 L103.0,105.2 L106.6,101.1 L110.3,99.7 L114.0,97.8 L117.7,94.4 L121.4,94.8 L125.1,92.8 L128.8,91.5 L132.4,90.1 L136.1,93.3 L139.8,87.4 L143.5,85.9 L147.2,87.5 L150.9,88.3 L154.6,90.0 L158.2,89.0 L161.9,86.2 L165.6,84.9 L169.3,85.1 L173.0,83.6 L176.7,81.4 L180.3,80.3 L184.0,78.9 L187.7,77.6 L191.4,77.0 L195.1,77.1 L198.8,76.2 L202.5,71.2 L206.1,69.3 L209.8,66.3 L213.5,68.1 L217.2,64.4 L220.9,67.3 L224.6,65.8 L228.2,65.5 L231.9,67.3 L235.6,64.4 L239.3,67.4 L243.0,62.9 L246.7,60.7 L250.4,59.0 L254.0,62.3 L257.7,58.8 L261.4,63.2 L265.1,58.9 L268.8,57.8 L272.5,56.5 L276.2,52.8 L279.8,51.7" fill="none" stroke="#3049a6" stroke-width="0.7" stroke-linejoin="round" stroke-linecap="round" opacity="0.9"/>
<path d="M44.0,125.5 L47.7,123.0 L51.4,123.2 L55.1,122.5 L58.7,120.9 L62.4,121.9 L66.1,122.3 L69.8,118.4 L73.5,115.6 L77.2,114.7 L80.8,113.5 L84.5,111.2 L88.2,110.6 L91.9,107.3 L95.6,109.0 L99.3,108.0 L103.0,105.1 L106.6,105.1 L110.3,105.2 L114.0,98.3 L117.7,98.0 L121.4,98.4 L125.1,96.5 L128.8,92.9 L132.4,94.5 L136.1,91.2 L139.8,89.1 L143.5,90.8 L147.2,88.0 L150.9,92.4 L154.6,91.6 L158.2,90.8 L161.9,87.5 L165.6,89.0 L169.3,88.4 L173.0,85.8 L176.7,83.7 L180.3,83.0 L184.0,81.8 L187.7,84.6 L191.4,82.6 L195.1,80.8 L198.8,76.7 L202.5,78.8 L206.1,70.5 L209.8,73.0 L213.5,69.7 L217.2,70.2 L220.9,64.8 L224.6,69.3 L228.2,72.4 L231.9,70.2 L235.6,69.7 L239.3,67.2 L243.0,65.8 L246.7,65.0 L250.4,67.7 L254.0,64.2 L257.7,62.4 L261.4,62.1 L265.1,61.9 L268.8,60.6 L272.5,62.4 L276.2,60.5 L279.8,61.4" fill="none" stroke="#3049a6" stroke-width="0.7" stroke-linejoin="round" stroke-linecap="round" opacity="0.9"/>
<path d="M44.0,123.5 L47.7,122.6 L51.4,123.3 L55.1,124.3 L58.7,119.9 L62.4,120.3 L66.1,119.3 L69.8,118.9 L73.5,116.8 L77.2,116.0 L80.8,112.8 L84.5,111.0 L88.2,110.7 L91.9,109.7 L95.6,108.1 L99.3,107.7 L103.0,106.1 L106.6,103.4 L110.3,101.7 L114.0,100.1 L117.7,101.2 L121.4,97.8 L125.1,95.2 L128.8,93.6 L132.4,91.0 L136.1,89.6 L139.8,89.7 L143.5,88.0 L147.2,92.5 L150.9,89.8 L154.6,93.0 L158.2,90.3 L161.9,88.2 L165.6,88.8 L169.3,87.8 L173.0,87.1 L176.7,86.7 L180.3,84.8 L184.0,83.7 L187.7,82.0 L191.4,79.4 L195.1,80.7 L198.8,78.4 L202.5,73.2 L206.1,72.8 L209.8,73.2 L213.5,67.4 L217.2,68.9 L220.9,69.1 L224.6,70.1 L228.2,69.4 L231.9,68.7 L235.6,69.0 L239.3,70.3 L243.0,66.3 L246.7,67.1 L250.4,65.2 L254.0,63.2 L257.7,65.0 L261.4,61.9 L265.1,64.1 L268.8,60.7 L272.5,60.0 L276.2,60.2 L279.8,60.4" fill="none" stroke="#3049a6" stroke-width="0.7" stroke-linejoin="round" stroke-linecap="round" opacity="0.9"/>
<path d="M44.0,124.0 L47.7,124.8 L51.4,123.0 L55.1,125.1 L58.7,121.6 L62.4,120.4 L66.1,119.1 L69.8,117.6 L73.5,114.8 L77.2,115.4 L80.8,112.1 L84.5,110.9 L88.2,112.4 L91.9,108.5 L95.6,108.5 L99.3,106.3 L103.0,107.3 L106.6,101.1 L110.3,100.9 L114.0,99.5 L117.7,99.7 L121.4,96.3 L125.1,95.0 L128.8,93.5 L132.4,90.1 L136.1,91.6 L139.8,88.9 L143.5,88.4 L147.2,90.2 L150.9,90.3 L154.6,87.6 L158.2,88.6 L161.9,88.8 L165.6,89.6 L169.3,89.3 L173.0,85.2 L176.7,87.5 L180.3,83.4 L184.0,82.3 L187.7,83.9 L191.4,79.4 L195.1,79.0 L198.8,79.9 L202.5,75.6 L206.1,73.3 L209.8,72.3 L213.5,70.6 L217.2,66.9 L220.9,67.2 L224.6,70.1 L228.2,70.8 L231.9,70.2 L235.6,69.0 L239.3,67.7 L243.0,63.5 L246.7,64.0 L250.4,64.5 L254.0,65.6 L257.7,61.7 L261.4,62.5 L265.1,59.7 L268.8,60.7 L272.5,61.2 L276.2,59.9 L279.8,62.0" fill="none" stroke="#3049a6" stroke-width="0.7" stroke-linejoin="round" stroke-linecap="round" opacity="0.9"/>
<path d="M44.0,126.3 L47.7,128.0 L51.4,123.0 L55.1,122.9 L58.7,121.9 L62.4,124.0 L66.1,120.8 L69.8,119.2 L73.5,117.7 L77.2,114.6 L80.8,114.5 L84.5,111.2 L88.2,111.1 L91.9,109.0 L95.6,110.5 L99.3,109.2 L103.0,105.8 L106.6,105.8 L110.3,103.6 L114.0,100.3 L117.7,98.8 L121.4,96.7 L125.1,96.3 L128.8,94.1 L132.4,92.9 L136.1,91.9 L139.8,87.9 L143.5,88.1 L147.2,92.5 L150.9,90.0 L154.6,91.9 L158.2,90.4 L161.9,88.2 L165.6,90.8 L169.3,87.5 L173.0,87.7 L176.7,85.9 L180.3,83.9 L184.0,79.2 L187.7,80.7 L191.4,79.5 L195.1,81.2 L198.8,78.9 L202.5,75.2 L206.1,72.6 L209.8,73.2 L213.5,73.3 L217.2,68.4 L220.9,71.7 L224.6,71.3 L228.2,70.1 L231.9,68.9 L235.6,71.7 L239.3,70.1 L243.0,62.3 L246.7,66.5 L250.4,63.5 L254.0,65.8 L257.7,64.5 L261.4,62.4 L265.1,65.3 L268.8,62.8 L272.5,59.5 L276.2,61.5 L279.8,59.2" fill="none" stroke="#3049a6" stroke-width="0.7" stroke-linejoin="round" stroke-linecap="round" opacity="0.9"/>
<path d="M44.0,125.0 L47.7,124.5 L51.4,123.2 L55.1,121.5 L58.7,120.5 L62.4,122.2 L66.1,117.7 L69.8,117.2 L73.5,114.3 L77.2,114.5 L80.8,114.1 L84.5,112.3 L88.2,110.1 L91.9,111.2 L95.6,110.3 L99.3,108.6 L103.0,106.9 L106.6,104.6 L110.3,101.6 L114.0,101.0 L117.7,98.6 L121.4,98.5 L125.1,96.2 L128.8,93.0 L132.4,93.0 L136.1,89.9 L139.8,90.2 L143.5,91.2 L147.2,87.0 L150.9,89.6 L154.6,90.7 L158.2,88.6 L161.9,88.2 L165.6,89.9 L169.3,87.0 L173.0,86.6 L176.7,86.4 L180.3,83.9 L184.0,81.4 L187.7,79.7 L191.4,80.3 L195.1,78.5 L198.8,78.6 L202.5,78.1 L206.1,73.0 L209.8,71.7 L213.5,71.7 L217.2,71.6 L220.9,66.9 L224.6,71.7 L228.2,72.5 L231.9,66.2 L235.6,71.1 L239.3,67.7 L243.0,68.5 L246.7,65.7 L250.4,66.4 L254.0,64.1 L257.7,64.6 L261.4,60.6 L265.1,62.4 L268.8,60.9 L272.5,61.5 L276.2,62.5 L279.8,58.5" fill="none" stroke="#3049a6" stroke-width="0.7" stroke-linejoin="round" stroke-linecap="round" opacity="0.9"/>
<path d="M44.0,126.4 L47.7,125.2 L51.4,123.6 L55.1,122.8 L58.7,121.7 L62.4,121.6 L66.1,118.1 L69.8,118.2 L73.5,118.2 L77.2,112.9 L80.8,112.7 L84.5,113.5 L88.2,111.0 L91.9,109.9 L95.6,110.6 L99.3,107.6 L103.0,107.6 L106.6,105.3 L110.3,104.4 L114.0,99.4 L117.7,101.0 L121.4,96.4 L125.1,96.8 L128.8,93.1 L132.4,90.9 L136.1,90.6 L139.8,92.0 L143.5,87.4 L147.2,90.1 L150.9,88.5 L154.6,89.1 L158.2,88.2 L161.9,88.9 L165.6,89.1 L169.3,87.4 L173.0,86.8 L176.7,83.4 L180.3,82.8 L184.0,81.0 L187.7,80.4 L191.4,79.6 L195.1,80.2 L198.8,77.3 L202.5,75.6 L206.1,76.5 L209.8,72.8 L213.5,68.0 L217.2,67.7 L220.9,69.1 L224.6,69.1 L228.2,70.0 L231.9,70.2 L235.6,69.4 L239.3,65.6 L243.0,67.4 L246.7,64.9 L250.4,62.5 L254.0,66.0 L257.7,61.2 L261.4,61.1 L265.1,64.1 L268.8,61.6 L272.5,62.0 L276.2,60.0 L279.8,61.3" fill="none" stroke="#3049a6" stroke-width="0.7" stroke-linejoin="round" stroke-linecap="round" opacity="0.9"/>
<path d="M44.0,126.0 L47.7,124.8 L51.4,124.2 L55.1,122.6 L58.7,121.7 L62.4,120.8 L66.1,119.3 L69.8,116.7 L73.5,115.6 L77.2,113.7 L80.8,111.3 L84.5,110.9 L88.2,109.2 L91.9,111.2 L95.6,109.3 L99.3,107.3 L103.0,106.4 L106.6,105.0 L110.3,103.3 L114.0,101.8 L117.7,99.9 L121.4,97.9 L125.1,97.7 L128.8,92.9 L132.4,93.2 L136.1,93.5 L139.8,89.0 L143.5,89.5 L147.2,88.7 L150.9,88.9 L154.6,87.4 L158.2,89.2 L161.9,88.0 L165.6,88.3 L169.3,86.9 L173.0,87.0 L176.7,83.4 L180.3,83.2 L184.0,83.3 L187.7,77.3 L191.4,81.7 L195.1,80.9 L198.8,79.0 L202.5,79.4 L206.1,74.2 L209.8,73.4 L213.5,68.6 L217.2,67.3 L220.9,69.0 L224.6,71.3 L228.2,69.8 L231.9,68.0 L235.6,68.3 L239.3,66.2 L243.0,63.6 L246.7,61.6 L250.4,62.2 L254.0,65.3 L257.7,65.0 L261.4,59.2 L265.1,63.6 L268.8,60.8 L272.5,61.1 L276.2,59.3 L279.8,59.8" fill="none" stroke="#3049a6" stroke-width="0.7" stroke-linejoin="round" stroke-linecap="round" opacity="0.9"/>
<path d="M44.0,126.4 L47.7,125.2 L51.4,124.2 L55.1,124.1 L58.7,121.7 L62.4,121.1 L66.1,118.3 L69.8,118.7 L73.5,117.9 L77.2,115.3 L80.8,114.0 L84.5,112.6 L88.2,110.9 L91.9,109.8 L95.6,107.4 L99.3,106.7 L103.0,106.5 L106.6,103.8 L110.3,101.3 L114.0,100.4 L117.7,99.2 L121.4,96.6 L125.1,96.8 L128.8,93.1 L132.4,92.6 L136.1,92.6 L139.8,91.2 L143.5,91.2 L147.2,91.8 L150.9,88.4 L154.6,87.2 L158.2,89.3 L161.9,88.5 L165.6,90.2 L169.3,87.1 L173.0,88.0 L176.7,83.3 L180.3,85.2 L184.0,80.6 L187.7,83.2 L191.4,80.3 L195.1,77.7 L198.8,79.2 L202.5,76.7 L206.1,74.3 L209.8,74.8 L213.5,69.4 L217.2,68.0 L220.9,71.2 L224.6,70.2 L228.2,69.3 L231.9,74.1 L235.6,67.6 L239.3,68.9 L243.0,67.4 L246.7,65.0 L250.4,65.1 L254.0,64.8 L257.7,64.8 L261.4,61.6 L265.1,62.3 L268.8,62.0 L272.5,60.2 L276.2,61.6 L279.8,59.5" fill="none" stroke="#3049a6" stroke-width="0.7" stroke-linejoin="round" stroke-linecap="round" opacity="0.9"/>
<path d="M44.0,107.5 L47.7,107.0 L51.4,106.6 L55.1,106.2 L58.7,105.8 L62.4,105.5 L66.1,104.7 L69.8,103.6 L73.5,103.8 L77.2,104.0 L80.8,104.2 L84.5,103.7 L88.2,103.1 L91.9,102.7 L95.6,102.2 L99.3,101.0 L103.0,99.8 L106.6,98.3 L110.3,96.9 L114.0,95.9 L117.7,95.1 L121.4,94.4 L125.1,93.4 L128.8,92.4 L132.4,91.2 L136.1,90.0 L139.8,88.7 L143.5,87.5 L147.2,86.4 L150.9,85.3 L154.6,84.2 L158.2,83.1 L161.9,81.9 L165.6,80.8 L169.3,79.7 L173.0,78.6 L176.7,77.5 L180.3,76.4 L184.0,75.9 L187.7,75.3 L191.4,74.7 L195.1,74.1 L198.8,73.5 L202.5,71.2 L206.1,68.8 L209.8,66.3 L213.5,63.9 L217.2,62.3 L220.9,63.5 L224.6,64.8 L228.2,66.0 L231.9,66.7 L235.6,65.1 L239.3,63.5 L243.0,61.9 L246.7,60.7 L250.4,59.9 L254.0,59.2 L257.7,58.5 L261.4,57.9 L265.1,57.3 L268.8,56.7 L272.5,56.0 L276.2,55.3 L279.8,54.5" fill="none" stroke="#6288d4" stroke-width="1.8" stroke-linejoin="round" stroke-linecap="round" opacity="1.0"/>
<path d="M44.0,108.8 L47.7,107.3 L51.4,105.5 L55.1,106.8 L58.7,103.2 L62.4,105.6 L66.1,108.7 L69.8,103.0 L73.5,104.7 L77.2,102.8 L80.8,106.1 L84.5,104.1 L88.2,104.2 L91.9,102.8 L95.6,102.4 L99.3,102.3 L103.0,100.5 L106.6,97.2 L110.3,96.7 L114.0,95.8 L117.7,96.8 L121.4,93.5 L125.1,90.4 L128.8,93.5 L132.4,91.7 L136.1,91.2 L139.8,86.9 L143.5,90.6 L147.2,87.0 L150.9,86.0 L154.6,83.7 L158.2,84.4 L161.9,81.2 L165.6,82.8 L169.3,75.2 L173.0,78.4 L176.7,79.2 L180.3,74.2 L184.0,74.9 L187.7,72.8 L191.4,72.2 L195.1,73.7 L198.8,76.3 L202.5,73.3 L206.1,69.4 L209.8,68.6 L213.5,63.5 L217.2,62.0 L220.9,64.4 L224.6,65.8 L228.2,66.4 L231.9,68.8 L235.6,61.5 L239.3,66.3 L243.0,66.0 L246.7,60.6 L250.4,61.6 L254.0,60.3 L257.7,60.5 L261.4,58.3 L265.1,59.8 L268.8,55.0 L272.5,53.3 L276.2,54.5 L279.8,54.0" fill="none" stroke="#6288d4" stroke-width="0.7" stroke-linejoin="round" stroke-linecap="round" opacity="0.9"/>
<path d="M44.0,107.9 L47.7,108.7 L51.4,106.5 L55.1,108.6 L58.7,107.0 L62.4,104.8 L66.1,106.7 L69.8,103.8 L73.5,103.9 L77.2,107.1 L80.8,105.4 L84.5,102.3 L88.2,102.9 L91.9,105.9 L95.6,103.9 L99.3,102.0 L103.0,98.9 L106.6,96.9 L110.3,98.4 L114.0,95.3 L117.7,93.6 L121.4,93.4 L125.1,93.7 L128.8,90.4 L132.4,94.1 L136.1,92.2 L139.8,87.0 L143.5,88.1 L147.2,86.8 L150.9,84.9 L154.6,86.8 L158.2,85.5 L161.9,82.9 L165.6,83.1 L169.3,82.1 L173.0,77.5 L176.7,75.7 L180.3,76.5 L184.0,75.7 L187.7,71.6 L191.4,78.6 L195.1,76.4 L198.8,75.2 L202.5,70.5 L206.1,67.6 L209.8,69.3 L213.5,63.4 L217.2,58.9 L220.9,64.5 L224.6,63.4 L228.2,67.5 L231.9,62.8 L235.6,64.5 L239.3,64.3 L243.0,64.1 L246.7,61.2 L250.4,61.0 L254.0,60.4 L257.7,57.0 L261.4,55.7 L265.1,56.5 L268.8,59.3 L272.5,54.9 L276.2,59.2 L279.8,52.0" fill="none" stroke="#6288d4" stroke-width="0.7" stroke-linejoin="round" stroke-linecap="round" opacity="0.9"/>
<path d="M44.0,108.7 L47.7,110.3 L51.4,106.8 L55.1,106.5 L58.7,102.9 L62.4,105.3 L66.1,102.6 L69.8,106.6 L73.5,104.5 L77.2,105.5 L80.8,104.4 L84.5,105.0 L88.2,103.5 L91.9,103.9 L95.6,104.2 L99.3,103.1 L103.0,101.0 L106.6,95.7 L110.3,95.7 L114.0,96.1 L117.7,95.7 L121.4,94.3 L125.1,91.5 L128.8,93.3 L132.4,92.3 L136.1,91.5 L139.8,91.6 L143.5,86.3 L147.2,89.5 L150.9,85.7 L154.6,87.1 L158.2,87.8 L161.9,84.9 L165.6,84.3 L169.3,81.3 L173.0,76.0 L176.7,79.9 L180.3,75.4 L184.0,73.1 L187.7,73.3 L191.4,76.1 L195.1,74.1 L198.8,69.1 L202.5,66.9 L206.1,66.0 L209.8,67.2 L213.5,66.5 L217.2,61.9 L220.9,66.2 L224.6,64.7 L228.2,64.7 L231.9,69.6 L235.6,67.4 L239.3,66.8 L243.0,64.6 L246.7,63.3 L250.4,62.7 L254.0,56.4 L257.7,59.6 L261.4,59.4 L265.1,60.2 L268.8,60.2 L272.5,56.5 L276.2,53.2 L279.8,52.3" fill="none" stroke="#6288d4" stroke-width="0.7" stroke-linejoin="round" stroke-linecap="round" opacity="0.9"/>
<path d="M44.0,108.3 L47.7,106.2 L51.4,108.2 L55.1,105.2 L58.7,109.9 L62.4,102.9 L66.1,106.5 L69.8,103.0 L73.5,105.8 L77.2,108.3 L80.8,104.8 L84.5,103.9 L88.2,105.2 L91.9,104.9 L95.6,106.4 L99.3,105.6 L103.0,99.4 L106.6,101.4 L110.3,98.7 L114.0,99.9 L117.7,95.7 L121.4,95.6 L125.1,94.2 L128.8,91.4 L132.4,93.0 L136.1,90.7 L139.8,88.0 L143.5,90.0 L147.2,86.1 L150.9,91.5 L154.6,87.8 L158.2,84.7 L161.9,80.5 L165.6,79.2 L169.3,83.3 L173.0,81.6 L176.7,78.2 L180.3,75.5 L184.0,75.3 L187.7,79.0 L191.4,75.5 L195.1,71.7 L198.8,72.8 L202.5,71.7 L206.1,73.4 L209.8,63.9 L213.5,65.2 L217.2,65.0 L220.9,65.0 L224.6,61.5 L228.2,70.7 L231.9,66.2 L235.6,65.3 L239.3,62.5 L243.0,62.2 L246.7,61.4 L250.4,57.3 L254.0,58.6 L257.7,59.1 L261.4,61.5 L265.1,56.4 L268.8,58.5 L272.5,60.3 L276.2,55.2 L279.8,60.9" fill="none" stroke="#6288d4" stroke-width="0.7" stroke-linejoin="round" stroke-linecap="round" opacity="0.9"/>
<path d="M44.0,106.2 L47.7,107.2 L51.4,103.4 L55.1,104.9 L58.7,104.1 L62.4,104.5 L66.1,104.7 L69.8,104.7 L73.5,102.1 L77.2,104.2 L80.8,105.8 L84.5,103.3 L88.2,105.3 L91.9,104.5 L95.6,103.3 L99.3,100.5 L103.0,100.2 L106.6,98.8 L110.3,97.2 L114.0,97.0 L117.7,97.5 L121.4,94.1 L125.1,92.8 L128.8,91.7 L132.4,94.9 L136.1,91.9 L139.8,90.5 L143.5,89.3 L147.2,86.6 L150.9,87.0 L154.6,85.8 L158.2,81.5 L161.9,83.3 L165.6,82.8 L169.3,82.3 L173.0,77.1 L176.7,72.4 L180.3,77.2 L184.0,77.4 L187.7,75.1 L191.4,73.5 L195.1,77.2 L198.8,75.7 L202.5,71.7 L206.1,68.2 L209.8,62.2 L213.5,66.8 L217.2,60.3 L220.9,62.9 L224.6,66.9 L228.2,69.1 L231.9,67.7 L235.6,65.3 L239.3,65.1 L243.0,64.2 L246.7,58.7 L250.4,61.1 L254.0,57.8 L257.7,64.5 L261.4,57.3 L265.1,54.3 L268.8,59.7 L272.5,56.9 L276.2,56.8 L279.8,56.6" fill="none" stroke="#6288d4" stroke-width="0.7" stroke-linejoin="round" stroke-linecap="round" opacity="0.9"/>
<path d="M44.0,107.0 L47.7,105.3 L51.4,105.6 L55.1,104.8 L58.7,106.1 L62.4,104.8 L66.1,103.9 L69.8,101.9 L73.5,104.1 L77.2,101.5 L80.8,104.1 L84.5,100.7 L88.2,99.5 L91.9,101.5 L95.6,101.1 L99.3,99.5 L103.0,98.0 L106.6,97.0 L110.3,99.3 L114.0,90.6 L117.7,94.6 L121.4,93.7 L125.1,91.9 L128.8,90.8 L132.4,87.4 L136.1,87.1 L139.8,90.3 L143.5,85.3 L147.2,85.7 L150.9,85.4 L154.6,83.6 L158.2,82.8 L161.9,80.2 L165.6,81.0 L169.3,79.6 L173.0,75.1 L176.7,76.4 L180.3,74.9 L184.0,74.5 L187.7,74.3 L191.4,74.7 L195.1,70.9 L198.8,73.0 L202.5,68.5 L206.1,67.3 L209.8,71.0 L213.5,60.0 L217.2,62.0 L220.9,58.3 L224.6,65.1 L228.2,64.6 L231.9,64.9 L235.6,65.7 L239.3,65.4 L243.0,65.2 L246.7,58.1 L250.4,58.8 L254.0,56.2 L257.7,58.0 L261.4,55.7 L265.1,56.0 L268.8,57.4 L272.5,56.7 L276.2,54.5 L279.8,52.6" fill="none" stroke="#6288d4" stroke-width="0.7" stroke-linejoin="round" stroke-linecap="round" opacity="0.9"/>
<path d="M44.0,108.4 L47.7,111.0 L51.4,106.6 L55.1,107.4 L58.7,104.3 L62.4,105.6 L66.1,105.0 L69.8,102.8 L73.5,103.0 L77.2,105.5 L80.8,106.6 L84.5,105.5 L88.2,104.6 L91.9,103.9 L95.6,102.1 L99.3,101.4 L103.0,100.5 L106.6,101.5 L110.3,98.4 L114.0,95.5 L117.7,96.8 L121.4,94.6 L125.1,94.4 L128.8,91.5 L132.4,95.0 L136.1,91.7 L139.8,89.6 L143.5,86.4 L147.2,86.8 L150.9,86.9 L154.6,84.6 L158.2,84.4 L161.9,81.6 L165.6,80.9 L169.3,83.2 L173.0,78.2 L176.7,77.1 L180.3,76.9 L184.0,75.8 L187.7,75.2 L191.4,73.3 L195.1,75.1 L198.8,75.0 L202.5,74.4 L206.1,68.6 L209.8,65.7 L213.5,64.7 L217.2,63.2 L220.9,64.6 L224.6,64.0 L228.2,65.3 L231.9,69.3 L235.6,65.3 L239.3,64.0 L243.0,62.9 L246.7,61.2 L250.4,60.6 L254.0,59.0 L257.7,59.2 L261.4,61.2 L265.1,58.4 L268.8,54.9 L272.5,59.0 L276.2,55.7 L279.8,56.6" fill="none" stroke="#6288d4" stroke-width="0.7" stroke-linejoin="round" stroke-linecap="round" opacity="0.9"/>
<path d="M44.0,106.3 L47.7,106.3 L51.4,106.0 L55.1,108.0 L58.7,104.7 L62.4,105.8 L66.1,105.6 L69.8,102.6 L73.5,103.3 L77.2,102.8 L80.8,107.2 L84.5,103.7 L88.2,102.5 L91.9,102.6 L95.6,103.4 L99.3,100.6 L103.0,101.7 L106.6,97.5 L110.3,98.2 L114.0,99.0 L117.7,96.5 L121.4,95.3 L125.1,94.1 L128.8,96.6 L132.4,91.4 L136.1,91.1 L139.8,91.1 L143.5,89.1 L147.2,84.8 L150.9,83.8 L154.6,85.4 L158.2,83.6 L161.9,84.3 L165.6,80.4 L169.3,83.2 L173.0,78.7 L176.7,76.3 L180.3,76.8 L184.0,72.5 L187.7,75.0 L191.4,75.5 L195.1,71.9 L198.8,74.1 L202.5,71.9 L206.1,69.6 L209.8,67.5 L213.5,63.4 L217.2,61.7 L220.9,65.0 L224.6,63.9 L228.2,67.3 L231.9,69.9 L235.6,64.4 L239.3,61.7 L243.0,60.5 L246.7,60.8 L250.4,60.5 L254.0,60.2 L257.7,58.0 L261.4,61.1 L265.1,57.8 L268.8,54.2 L272.5,56.0 L276.2,51.9 L279.8,58.7" fill="none" stroke="#6288d4" stroke-width="0.7" stroke-linejoin="round" stroke-linecap="round" opacity="0.9"/>
<path d="M44.0,109.2 L47.7,109.6 L51.4,106.5 L55.1,107.9 L58.7,106.8 L62.4,105.0 L66.1,104.4 L69.8,101.9 L73.5,106.0 L77.2,102.9 L80.8,105.2 L84.5,102.5 L88.2,103.3 L91.9,100.5 L95.6,100.4 L99.3,100.3 L103.0,96.1 L106.6,98.0 L110.3,97.3 L114.0,95.0 L117.7,96.3 L121.4,95.5 L125.1,90.2 L128.8,91.1 L132.4,94.2 L136.1,91.5 L139.8,88.6 L143.5,89.6 L147.2,85.7 L150.9,86.2 L154.6,87.0 L158.2,85.4 L161.9,82.1 L165.6,79.9 L169.3,82.3 L173.0,79.5 L176.7,81.6 L180.3,74.1 L184.0,77.1 L187.7,76.5 L191.4,75.6 L195.1,74.9 L198.8,71.6 L202.5,67.2 L206.1,72.0 L209.8,68.2 L213.5,63.0 L217.2,62.9 L220.9,65.5 L224.6,60.1 L228.2,66.3 L231.9,70.6 L235.6,64.3 L239.3,63.7 L243.0,64.2 L246.7,58.5 L250.4,59.0 L254.0,59.4 L257.7,61.4 L261.4,59.5 L265.1,55.0 L268.8,57.8 L272.5,56.0 L276.2,54.6 L279.8,53.3" fill="none" stroke="#6288d4" stroke-width="0.7" stroke-linejoin="round" stroke-linecap="round" opacity="0.9"/>
<path d="M44.0,108.3 L47.7,104.0 L51.4,106.9 L55.1,105.6 L58.7,106.3 L62.4,108.1 L66.1,105.8 L69.8,101.6 L73.5,101.7 L77.2,103.5 L80.8,101.5 L84.5,107.0 L88.2,100.3 L91.9,103.9 L95.6,101.9 L99.3,100.2 L103.0,99.8 L106.6,99.8 L110.3,94.5 L114.0,97.2 L117.7,95.6 L121.4,94.0 L125.1,93.2 L128.8,91.2 L132.4,90.2 L136.1,90.0 L139.8,87.9 L143.5,88.5 L147.2,84.9 L150.9,90.3 L154.6,84.1 L158.2,82.4 L161.9,79.6 L165.6,79.1 L169.3,82.5 L173.0,81.3 L176.7,78.0 L180.3,77.6 L184.0,79.0 L187.7,75.3 L191.4,73.8 L195.1,77.2 L198.8,73.7 L202.5,69.5 L206.1,71.3 L209.8,70.3 L213.5,63.3 L217.2,64.0 L220.9,65.0 L224.6,66.6 L228.2,65.9 L231.9,63.5 L235.6,66.6 L239.3,61.0 L243.0,62.5 L246.7,63.1 L250.4,59.3 L254.0,56.7 L257.7,59.8 L261.4,58.5 L265.1,58.3 L268.8,52.2 L272.5,54.5 L276.2,57.2 L279.8,55.1" fill="none" stroke="#6288d4" stroke-width="0.7" stroke-linejoin="round" stroke-linecap="round" opacity="0.9"/>
<path d="M44.0,107.6 L47.7,109.4 L51.4,111.5 L55.1,106.3 L58.7,107.8 L62.4,103.5 L66.1,104.5 L69.8,102.8 L73.5,104.3 L77.2,104.4 L80.8,106.5 L84.5,104.3 L88.2,101.4 L91.9,102.3 L95.6,104.2 L99.3,103.2 L103.0,103.1 L106.6,101.7 L110.3,94.0 L114.0,100.5 L117.7,96.5 L121.4,95.2 L125.1,94.0 L128.8,94.8 L132.4,93.0 L136.1,86.5 L139.8,89.8 L143.5,91.6 L147.2,85.5 L150.9,86.9 L154.6,86.4 L158.2,82.8 L161.9,81.8 L165.6,82.1 L169.3,80.0 L173.0,78.6 L176.7,77.4 L180.3,77.0 L184.0,74.4 L187.7,76.3 L191.4,75.3 L195.1,74.7 L198.8,72.8 L202.5,72.2 L206.1,69.0 L209.8,66.0 L213.5,64.1 L217.2,64.9 L220.9,63.4 L224.6,63.8 L228.2,69.7 L231.9,64.3 L235.6,66.9 L239.3,63.4 L243.0,63.4 L246.7,61.7 L250.4,62.8 L254.0,61.4 L257.7,56.4 L261.4,61.4 L265.1,51.6 L268.8,57.6 L272.5,53.8 L276.2,54.8 L279.8,55.6" fill="none" stroke="#6288d4" stroke-width="0.7" stroke-linejoin="round" stroke-linecap="round" opacity="0.9"/>
<path d="M44.0,106.6 L47.7,106.1 L51.4,108.0 L55.1,106.5 L58.7,107.1 L62.4,108.6 L66.1,106.0 L69.8,104.3 L73.5,107.8 L77.2,106.5 L80.8,104.5 L84.5,105.7 L88.2,104.0 L91.9,103.6 L95.6,106.8 L99.3,101.6 L103.0,97.4 L106.6,97.1 L110.3,96.6 L114.0,95.6 L117.7,98.4 L121.4,95.1 L125.1,96.2 L128.8,93.0 L132.4,94.9 L136.1,92.7 L139.8,88.8 L143.5,87.4 L147.2,86.6 L150.9,89.2 L154.6,81.4 L158.2,86.1 L161.9,84.9 L165.6,85.3 L169.3,79.9 L173.0,79.4 L176.7,76.9 L180.3,79.3 L184.0,75.3 L187.7,78.8 L191.4,78.4 L195.1,74.4 L198.8,78.8 L202.5,73.8 L206.1,72.7 L209.8,67.2 L213.5,65.8 L217.2,65.1 L220.9,64.9 L224.6,66.6 L228.2,66.4 L231.9,71.0 L235.6,63.1 L239.3,63.2 L243.0,63.2 L246.7,59.9 L250.4,62.7 L254.0,63.3 L257.7,62.7 L261.4,55.6 L265.1,60.5 L268.8,55.7 L272.5,57.6 L276.2,60.0 L279.8,55.7" fill="none" stroke="#6288d4" stroke-width="0.7" stroke-linejoin="round" stroke-linecap="round" opacity="0.9"/>
<path d="M44.0,108.4 L47.7,106.9 L51.4,107.7 L55.1,105.5 L58.7,106.1 L62.4,103.3 L66.1,105.3 L69.8,100.8 L73.5,104.9 L77.2,100.9 L80.8,103.3 L84.5,102.9 L88.2,103.7 L91.9,100.6 L95.6,106.5 L99.3,99.2 L103.0,95.7 L106.6,99.0 L110.3,95.7 L114.0,94.7 L117.7,95.2 L121.4,92.5 L125.1,94.1 L128.8,94.0 L132.4,89.0 L136.1,90.3 L139.8,88.0 L143.5,85.8 L147.2,85.7 L150.9,84.5 L154.6,84.1 L158.2,83.3 L161.9,80.0 L165.6,82.8 L169.3,82.6 L173.0,79.2 L176.7,77.1 L180.3,75.2 L184.0,77.0 L187.7,74.4 L191.4,72.0 L195.1,73.5 L198.8,69.7 L202.5,70.8 L206.1,68.7 L209.8,68.2 L213.5,65.0 L217.2,59.7 L220.9,63.1 L224.6,64.3 L228.2,66.6 L231.9,65.4 L235.6,64.7 L239.3,63.9 L243.0,63.2 L246.7,59.7 L250.4,56.3 L254.0,52.7 L257.7,60.5 L261.4,62.6 L265.1,55.9 L268.8,58.7 L272.5,58.9 L276.2,53.4 L279.8,50.0" fill="none" stroke="#6288d4" stroke-width="0.7" stroke-linejoin="round" stroke-linecap="round" opacity="0.9"/>
<path d="M44.0,106.4 L47.7,108.9 L51.4,106.3 L55.1,107.6 L58.7,107.1 L62.4,104.5 L66.1,102.9 L69.8,106.8 L73.5,107.5 L77.2,104.4 L80.8,105.0 L84.5,103.3 L88.2,102.3 L91.9,100.8 L95.6,99.8 L99.3,100.6 L103.0,99.8 L106.6,98.9 L110.3,96.6 L114.0,98.5 L117.7,97.6 L121.4,94.8 L125.1,94.5 L128.8,91.5 L132.4,87.6 L136.1,88.1 L139.8,90.1 L143.5,88.8 L147.2,86.2 L150.9,84.9 L154.6,85.6 L158.2,83.5 L161.9,82.7 L165.6,82.0 L169.3,74.9 L173.0,80.6 L176.7,79.2 L180.3,76.0 L184.0,73.6 L187.7,73.7 L191.4,75.0 L195.1,77.2 L198.8,76.0 L202.5,70.6 L206.1,69.2 L209.8,61.9 L213.5,62.0 L217.2,65.7 L220.9,69.0 L224.6,62.0 L228.2,63.6 L231.9,67.3 L235.6,64.9 L239.3,65.5 L243.0,60.9 L246.7,62.2 L250.4,62.8 L254.0,61.9 L257.7,53.6 L261.4,56.0 L265.1,60.8 L268.8,59.3 L272.5,55.1 L276.2,54.5 L279.8,50.5" fill="none" stroke="#6288d4" stroke-width="0.7" stroke-linejoin="round" stroke-linecap="round" opacity="0.9"/>
<path d="M44.0,107.4 L47.7,107.7 L51.4,109.0 L55.1,105.9 L58.7,107.9 L62.4,104.0 L66.1,104.4 L69.8,104.2 L73.5,102.6 L77.2,102.7 L80.8,106.2 L84.5,104.6 L88.2,103.3 L91.9,105.5 L95.6,103.9 L99.3,101.8 L103.0,98.5 L106.6,97.3 L110.3,96.2 L114.0,93.0 L117.7,94.2 L121.4,93.0 L125.1,95.5 L128.8,93.4 L132.4,94.3 L136.1,90.0 L139.8,90.1 L143.5,88.8 L147.2,85.2 L150.9,87.0 L154.6,85.7 L158.2,82.3 L161.9,81.6 L165.6,78.7 L169.3,78.0 L173.0,78.2 L176.7,79.1 L180.3,76.6 L184.0,74.1 L187.7,76.0 L191.4,74.5 L195.1,74.8 L198.8,75.8 L202.5,72.1 L206.1,65.4 L209.8,64.2 L213.5,64.5 L217.2,63.1 L220.9,64.0 L224.6,64.8 L228.2,65.4 L231.9,64.6 L235.6,59.4 L239.3,67.3 L243.0,60.2 L246.7,59.3 L250.4,59.9 L254.0,60.8 L257.7,55.5 L261.4,52.7 L265.1,53.7 L268.8,59.0 L272.5,59.0 L276.2,52.1 L279.8,51.9" fill="none" stroke="#6288d4" stroke-width="0.7" stroke-linejoin="round" stroke-linecap="round" opacity="0.9"/>
<path d="M44.0,109.7 L47.7,109.4 L51.4,109.0 L55.1,108.8 L58.7,105.8 L62.4,105.4 L66.1,106.6 L69.8,105.4 L73.5,102.3 L77.2,105.4 L80.8,105.7 L84.5,102.8 L88.2,108.7 L91.9,104.4 L95.6,100.8 L99.3,101.4 L103.0,101.7 L106.6,97.5 L110.3,98.2 L114.0,99.5 L117.7,96.7 L121.4,94.8 L125.1,94.9 L128.8,93.3 L132.4,93.8 L136.1,93.4 L139.8,92.7 L143.5,90.2 L147.2,89.0 L150.9,84.1 L154.6,81.4 L158.2,83.5 L161.9,85.7 L165.6,80.9 L169.3,77.9 L173.0,76.9 L176.7,79.7 L180.3,76.1 L184.0,79.4 L187.7,74.0 L191.4,78.1 L195.1,76.7 L198.8,74.0 L202.5,72.8 L206.1,71.4 L209.8,69.1 L213.5,67.0 L217.2,63.5 L220.9,67.2 L224.6,65.7 L228.2,66.1 L231.9,68.0 L235.6,70.8 L239.3,69.6 L243.0,64.1 L246.7,60.7 L250.4,62.1 L254.0,60.8 L257.7,60.1 L261.4,59.7 L265.1,61.4 L268.8,65.1 L272.5,56.1 L276.2,58.7 L279.8,59.0" fill="none" stroke="#6288d4" stroke-width="0.7" stroke-linejoin="round" stroke-linecap="round" opacity="0.9"/>
<path d="M44.0,106.3 L47.7,106.6 L51.4,106.9 L55.1,104.7 L58.7,104.1 L62.4,106.8 L66.1,105.1 L69.8,104.3 L73.5,104.1 L77.2,104.1 L80.8,105.1 L84.5,104.4 L88.2,104.5 L91.9,104.5 L95.6,98.8 L99.3,102.9 L103.0,100.0 L106.6,97.9 L110.3,92.8 L114.0,94.8 L117.7,96.4 L121.4,94.8 L125.1,91.2 L128.8,94.6 L132.4,91.8 L136.1,95.6 L139.8,89.1 L143.5,89.5 L147.2,86.9 L150.9,86.6 L154.6,82.7 L158.2,82.0 L161.9,83.0 L165.6,82.8 L169.3,78.8 L173.0,76.6 L176.7,74.7 L180.3,76.8 L184.0,74.8 L187.7,75.1 L191.4,72.0 L195.1,77.3 L198.8,76.5 L202.5,72.1 L206.1,71.4 L209.8,64.5 L213.5,64.4 L217.2,67.1 L220.9,63.3 L224.6,63.1 L228.2,68.3 L231.9,66.1 L235.6,68.6 L239.3,60.8 L243.0,62.4 L246.7,65.7 L250.4,60.5 L254.0,61.9 L257.7,54.8 L261.4,55.5 L265.1,60.1 L268.8,55.2 L272.5,57.5 L276.2,56.2 L279.8,54.3" fill="none" stroke="#6288d4" stroke-width="0.7" stroke-linejoin="round" stroke-linecap="round" opacity="0.9"/>
<path d="M44.0,105.7 L47.7,106.1 L51.4,102.8 L55.1,105.2 L58.7,105.6 L62.4,102.5 L66.1,105.9 L69.8,103.8 L73.5,103.0 L77.2,103.6 L80.8,102.6 L84.5,101.9 L88.2,101.5 L91.9,101.7 L95.6,98.6 L99.3,98.0 L103.0,99.4 L106.6,96.1 L110.3,96.0 L114.0,97.2 L117.7,93.6 L121.4,93.2 L125.1,93.0 L128.8,90.4 L132.4,91.1 L136.1,88.8 L139.8,87.4 L143.5,86.3 L147.2,85.3 L150.9,84.1 L154.6,81.3 L158.2,80.3 L161.9,81.9 L165.6,83.4 L169.3,79.0 L173.0,76.1 L176.7,77.9 L180.3,77.8 L184.0,72.7 L187.7,71.9 L191.4,72.6 L195.1,73.0 L198.8,71.3 L202.5,68.6 L206.1,65.8 L209.8,64.6 L213.5,64.9 L217.2,57.8 L220.9,58.7 L224.6,67.6 L228.2,61.8 L231.9,63.9 L235.6,68.1 L239.3,59.8 L243.0,58.2 L246.7,59.0 L250.4,54.6 L254.0,58.4 L257.7,59.4 L261.4,51.1 L265.1,55.3 L268.8,54.2 L272.5,47.9 L276.2,56.7 L279.8,48.6" fill="none" stroke="#6288d4" stroke-width="0.7" stroke-linejoin="round" stroke-linecap="round" opacity="0.9"/>
<path d="M44.0,109.3 L47.7,110.1 L51.4,107.0 L55.1,108.7 L58.7,108.0 L62.4,108.9 L66.1,107.3 L69.8,103.3 L73.5,103.7 L77.2,105.4 L80.8,104.8 L84.5,105.6 L88.2,105.0 L91.9,106.9 L95.6,104.9 L99.3,102.3 L103.0,100.3 L106.6,99.0 L110.3,99.4 L114.0,97.2 L117.7,97.3 L121.4,98.6 L125.1,94.7 L128.8,96.0 L132.4,92.4 L136.1,93.3 L139.8,92.6 L143.5,91.2 L147.2,87.6 L150.9,87.2 L154.6,88.6 L158.2,84.5 L161.9,83.8 L165.6,83.7 L169.3,80.5 L173.0,79.4 L176.7,77.1 L180.3,76.8 L184.0,81.9 L187.7,76.7 L191.4,75.4 L195.1,74.9 L198.8,78.8 L202.5,68.4 L206.1,68.7 L209.8,66.8 L213.5,64.3 L217.2,63.5 L220.9,66.1 L224.6,67.3 L228.2,73.5 L231.9,66.6 L235.6,67.9 L239.3,62.9 L243.0,60.5 L246.7,62.9 L250.4,60.7 L254.0,62.1 L257.7,61.0 L261.4,61.4 L265.1,58.4 L268.8,60.4 L272.5,57.1 L276.2,52.0 L279.8,54.0" fill="none" stroke="#6288d4" stroke-width="0.7" stroke-linejoin="round" stroke-linecap="round" opacity="0.9"/>
<path d="M44.0,107.2 L47.7,106.4 L51.4,105.8 L55.1,104.1 L58.7,107.2 L62.4,103.6 L66.1,105.0 L69.8,102.9 L73.5,101.4 L77.2,102.2 L80.8,105.7 L84.5,105.7 L88.2,105.7 L91.9,103.1 L95.6,100.9 L99.3,98.8 L103.0,100.5 L106.6,98.4 L110.3,97.0 L114.0,93.7 L117.7,96.5 L121.4,95.8 L125.1,94.5 L128.8,90.6 L132.4,89.4 L136.1,86.5 L139.8,88.9 L143.5,86.8 L147.2,89.2 L150.9,89.0 L154.6,83.6 L158.2,82.3 L161.9,79.8 L165.6,81.9 L169.3,78.2 L173.0,79.2 L176.7,78.3 L180.3,74.9 L184.0,75.3 L187.7,75.6 L191.4,71.8 L195.1,71.2 L198.8,75.2 L202.5,70.6 L206.1,69.6 L209.8,66.7 L213.5,63.5 L217.2,61.5 L220.9,63.9 L224.6,64.3 L228.2,66.8 L231.9,65.8 L235.6,62.7 L239.3,68.6 L243.0,58.5 L246.7,57.7 L250.4,60.9 L254.0,59.2 L257.7,53.2 L261.4,56.9 L265.1,56.4 L268.8,59.0 L272.5,53.0 L276.2,55.4 L279.8,53.3" fill="none" stroke="#6288d4" stroke-width="0.7" stroke-linejoin="round" stroke-linecap="round" opacity="0.9"/>
<path d="M44.0,106.3 L47.7,106.5 L51.4,109.1 L55.1,103.6 L58.7,106.7 L62.4,107.5 L66.1,104.6 L69.8,101.9 L73.5,101.8 L77.2,100.3 L80.8,104.4 L84.5,102.9 L88.2,103.3 L91.9,98.2 L95.6,102.1 L99.3,100.7 L103.0,98.1 L106.6,98.3 L110.3,95.9 L114.0,94.1 L117.7,93.8 L121.4,93.6 L125.1,91.2 L128.8,92.2 L132.4,90.9 L136.1,90.2 L139.8,87.2 L143.5,88.1 L147.2,85.9 L150.9,87.3 L154.6,81.9 L158.2,81.6 L161.9,80.9 L165.6,79.6 L169.3,76.2 L173.0,78.6 L176.7,79.3 L180.3,76.9 L184.0,75.6 L187.7,74.6 L191.4,75.6 L195.1,74.8 L198.8,76.4 L202.5,72.2 L206.1,66.6 L209.8,64.8 L213.5,60.9 L217.2,60.0 L220.9,65.6 L224.6,64.4 L228.2,64.5 L231.9,65.6 L235.6,62.9 L239.3,62.4 L243.0,57.9 L246.7,63.7 L250.4,61.0 L254.0,56.2 L257.7,58.1 L261.4,54.3 L265.1,64.4 L268.8,54.3 L272.5,54.7 L276.2,55.9 L279.8,54.2" fill="none" stroke="#6288d4" stroke-width="0.7" stroke-linejoin="round" stroke-linecap="round" opacity="0.9"/>
<path d="M44.0,105.9 L47.7,104.4 L51.4,105.7 L55.1,106.1 L58.7,103.6 L62.4,101.1 L66.1,103.4 L69.8,101.3 L73.5,101.5 L77.2,104.3 L80.8,101.6 L84.5,101.6 L88.2,103.9 L91.9,101.5 L95.6,99.9 L99.3,99.6 L103.0,96.9 L106.6,95.5 L110.3,96.1 L114.0,95.5 L117.7,93.3 L121.4,93.6 L125.1,90.4 L128.8,89.3 L132.4,89.0 L136.1,90.2 L139.8,86.2 L143.5,88.1 L147.2,83.4 L150.9,82.7 L154.6,81.6 L158.2,80.2 L161.9,78.7 L165.6,76.4 L169.3,82.8 L173.0,78.1 L176.7,73.0 L180.3,76.7 L184.0,72.2 L187.7,77.0 L191.4,73.7 L195.1,71.0 L198.8,72.1 L202.5,67.8 L206.1,65.4 L209.8,65.1 L213.5,61.6 L217.2,58.9 L220.9,60.0 L224.6,59.0 L228.2,64.1 L231.9,66.8 L235.6,63.7 L239.3,61.3 L243.0,61.8 L246.7,56.8 L250.4,58.2 L254.0,55.3 L257.7,63.6 L261.4,57.1 L265.1,51.4 L268.8,50.4 L272.5,55.4 L276.2,50.1 L279.8,52.0" fill="none" stroke="#6288d4" stroke-width="0.7" stroke-linejoin="round" stroke-linecap="round" opacity="0.9"/>
<path d="M44.0,98.5 L47.7,98.0 L51.4,97.6 L55.1,97.1 L58.7,96.5 L62.4,96.0 L66.1,95.5 L69.8,95.0 L73.5,94.7 L77.2,95.5 L80.8,96.2 L84.5,95.1 L88.2,94.2 L91.9,96.1 L95.6,97.2 L99.3,96.0 L103.0,94.8 L106.6,93.7 L110.3,92.9 L114.0,92.2 L117.7,91.4 L121.4,90.4 L125.1,89.3 L128.8,88.5 L132.4,87.7 L136.1,87.0 L139.8,86.2 L143.5,85.9 L147.2,86.1 L150.9,86.3 L154.6,86.4 L158.2,86.7 L161.9,87.5 L165.6,88.3 L169.3,88.8 L173.0,87.9 L176.7,87.0 L180.3,86.1 L184.0,85.2 L187.7,85.3 L191.4,85.7 L195.1,86.1 L198.8,86.5 L202.5,84.8 L206.1,83.0 L209.8,81.2 L213.5,79.4 L217.2,77.8 L220.9,77.2 L224.6,77.8 L228.2,79.0 L231.9,79.8 L235.6,78.6 L239.3,77.5 L243.0,76.3 L246.7,75.4 L250.4,74.6 L254.0,73.9 L257.7,73.2 L261.4,72.6 L265.1,72.1 L268.8,71.5 L272.5,70.8 L276.2,70.1 L279.8,69.4" fill="none" stroke="#589e98" stroke-width="1.8" stroke-linejoin="round" stroke-linecap="round" opacity="1.0"/>
<path d="M44.0,98.6 L47.7,96.4 L51.4,98.7 L55.1,97.0 L58.7,97.4 L62.4,96.8 L66.1,95.8 L69.8,95.3 L73.5,95.3 L77.2,97.1 L80.8,94.6 L84.5,97.2 L88.2,94.3 L91.9,98.5 L95.6,100.3 L99.3,97.1 L103.0,96.1 L106.6,93.5 L110.3,94.0 L114.0,92.2 L117.7,91.4 L121.4,90.6 L125.1,90.3 L128.8,90.3 L132.4,88.0 L136.1,87.9 L139.8,84.3 L143.5,86.7 L147.2,90.4 L150.9,88.1 L154.6,88.8 L158.2,87.8 L161.9,87.1 L165.6,88.5 L169.3,92.8 L173.0,88.5 L176.7,89.7 L180.3,88.9 L184.0,82.3 L187.7,88.1 L191.4,86.9 L195.1,92.3 L198.8,86.0 L202.5,85.1 L206.1,84.3 L209.8,81.6 L213.5,81.4 L217.2,78.2 L220.9,77.4 L224.6,79.5 L228.2,78.0 L231.9,80.1 L235.6,81.7 L239.3,75.6 L243.0,76.6 L246.7,72.9 L250.4,77.5 L254.0,72.0 L257.7,72.7 L261.4,73.7 L265.1,74.5 L268.8,72.3 L272.5,71.1 L276.2,75.4 L279.8,71.6" fill="none" stroke="#589e98" stroke-width="0.7" stroke-linejoin="round" stroke-linecap="round" opacity="0.9"/>
<path d="M44.0,98.1 L47.7,96.7 L51.4,98.9 L55.1,99.6 L58.7,96.9 L62.4,94.8 L66.1,96.1 L69.8,97.2 L73.5,95.1 L77.2,93.2 L80.8,95.6 L84.5,95.6 L88.2,96.9 L91.9,96.7 L95.6,97.4 L99.3,96.7 L103.0,96.7 L106.6,94.5 L110.3,94.1 L114.0,90.7 L117.7,93.5 L121.4,90.3 L125.1,89.5 L128.8,89.3 L132.4,90.7 L136.1,84.2 L139.8,85.8 L143.5,86.3 L147.2,84.5 L150.9,87.1 L154.6,84.6 L158.2,89.0 L161.9,87.3 L165.6,88.4 L169.3,90.5 L173.0,89.5 L176.7,87.8 L180.3,86.5 L184.0,84.6 L187.7,89.7 L191.4,86.8 L195.1,88.5 L198.8,86.5 L202.5,82.3 L206.1,85.8 L209.8,82.2 L213.5,79.5 L217.2,78.3 L220.9,77.7 L224.6,78.9 L228.2,78.6 L231.9,78.6 L235.6,80.3 L239.3,77.7 L243.0,75.3 L246.7,76.1 L250.4,76.7 L254.0,77.2 L257.7,77.6 L261.4,75.0 L265.1,76.3 L268.8,71.5 L272.5,72.1 L276.2,70.0 L279.8,75.0" fill="none" stroke="#589e98" stroke-width="0.7" stroke-linejoin="round" stroke-linecap="round" opacity="0.9"/>
<path d="M44.0,100.0 L47.7,97.7 L51.4,99.0 L55.1,97.1 L58.7,96.5 L62.4,95.9 L66.1,96.3 L69.8,97.2 L73.5,96.5 L77.2,96.1 L80.8,99.0 L84.5,94.9 L88.2,94.3 L91.9,96.0 L95.6,98.7 L99.3,97.9 L103.0,93.6 L106.6,94.0 L110.3,94.8 L114.0,94.3 L117.7,93.4 L121.4,90.9 L125.1,91.3 L128.8,91.9 L132.4,90.7 L136.1,89.1 L139.8,86.7 L143.5,85.3 L147.2,85.6 L150.9,84.9 L154.6,88.1 L158.2,86.8 L161.9,89.6 L165.6,90.4 L169.3,88.4 L173.0,88.7 L176.7,86.1 L180.3,86.6 L184.0,84.4 L187.7,82.4 L191.4,84.1 L195.1,85.4 L198.8,86.4 L202.5,85.2 L206.1,83.9 L209.8,86.5 L213.5,80.2 L217.2,77.9 L220.9,79.4 L224.6,77.4 L228.2,78.2 L231.9,83.2 L235.6,80.5 L239.3,80.0 L243.0,76.2 L246.7,75.7 L250.4,79.1 L254.0,72.0 L257.7,76.4 L261.4,71.4 L265.1,73.9 L268.8,73.6 L272.5,70.6 L276.2,67.9 L279.8,69.6" fill="none" stroke="#589e98" stroke-width="0.7" stroke-linejoin="round" stroke-linecap="round" opacity="0.9"/>
<path d="M44.0,98.7 L47.7,99.1 L51.4,96.5 L55.1,97.1 L58.7,95.4 L62.4,97.5 L66.1,96.6 L69.8,97.6 L73.5,93.4 L77.2,96.0 L80.8,94.5 L84.5,94.3 L88.2,95.1 L91.9,98.0 L95.6,93.9 L99.3,97.3 L103.0,94.5 L106.6,93.8 L110.3,92.0 L114.0,87.8 L117.7,92.1 L121.4,89.5 L125.1,86.8 L128.8,88.2 L132.4,89.6 L136.1,88.5 L139.8,85.6 L143.5,84.7 L147.2,88.2 L150.9,86.3 L154.6,87.2 L158.2,86.4 L161.9,88.9 L165.6,90.4 L169.3,88.4 L173.0,84.8 L176.7,86.0 L180.3,85.4 L184.0,86.2 L187.7,84.5 L191.4,85.4 L195.1,86.2 L198.8,86.4 L202.5,83.3 L206.1,82.5 L209.8,81.2 L213.5,79.8 L217.2,78.5 L220.9,81.7 L224.6,77.3 L228.2,77.5 L231.9,80.0 L235.6,80.4 L239.3,78.2 L243.0,77.2 L246.7,76.0 L250.4,72.5 L254.0,73.2 L257.7,69.3 L261.4,70.1 L265.1,72.2 L268.8,70.4 L272.5,68.7 L276.2,65.2 L279.8,70.6" fill="none" stroke="#589e98" stroke-width="0.7" stroke-linejoin="round" stroke-linecap="round" opacity="0.9"/>
<path d="M44.0,96.9 L47.7,96.8 L51.4,95.7 L55.1,93.3 L58.7,96.2 L62.4,95.2 L66.1,95.7 L69.8,93.6 L73.5,94.6 L77.2,96.5 L80.8,96.9 L84.5,94.6 L88.2,94.0 L91.9,94.0 L95.6,95.6 L99.3,94.2 L103.0,93.8 L106.6,92.2 L110.3,93.9 L114.0,91.0 L117.7,92.0 L121.4,90.9 L125.1,88.8 L128.8,89.3 L132.4,87.9 L136.1,84.0 L139.8,87.3 L143.5,86.2 L147.2,85.7 L150.9,86.0 L154.6,88.2 L158.2,84.1 L161.9,86.4 L165.6,88.0 L169.3,90.9 L173.0,88.1 L176.7,87.7 L180.3,83.2 L184.0,80.2 L187.7,86.0 L191.4,80.8 L195.1,84.6 L198.8,87.3 L202.5,88.2 L206.1,82.1 L209.8,82.2 L213.5,77.5 L217.2,76.7 L220.9,78.3 L224.6,77.0 L228.2,79.6 L231.9,82.8 L235.6,77.8 L239.3,75.9 L243.0,73.5 L246.7,74.7 L250.4,75.8 L254.0,73.2 L257.7,73.9 L261.4,75.2 L265.1,69.7 L268.8,72.7 L272.5,66.6 L276.2,69.0 L279.8,68.4" fill="none" stroke="#589e98" stroke-width="0.7" stroke-linejoin="round" stroke-linecap="round" opacity="0.9"/>
<path d="M44.0,97.0 L47.7,98.5 L51.4,97.0 L55.1,96.9 L58.7,93.7 L62.4,95.9 L66.1,94.9 L69.8,93.1 L73.5,92.1 L77.2,95.1 L80.8,97.2 L84.5,93.8 L88.2,94.8 L91.9,94.9 L95.6,96.5 L99.3,93.8 L103.0,94.8 L106.6,93.7 L110.3,91.8 L114.0,92.7 L117.7,91.5 L121.4,90.4 L125.1,87.2 L128.8,87.9 L132.4,87.7 L136.1,86.0 L139.8,86.0 L143.5,84.9 L147.2,88.1 L150.9,84.6 L154.6,85.1 L158.2,88.1 L161.9,86.5 L165.6,86.6 L169.3,87.1 L173.0,88.7 L176.7,89.8 L180.3,85.9 L184.0,86.6 L187.7,83.2 L191.4,84.0 L195.1,86.1 L198.8,88.6 L202.5,82.6 L206.1,83.7 L209.8,76.3 L213.5,81.6 L217.2,76.0 L220.9,77.3 L224.6,76.5 L228.2,77.6 L231.9,77.6 L235.6,76.8 L239.3,72.8 L243.0,76.7 L246.7,72.7 L250.4,71.9 L254.0,70.4 L257.7,73.9 L261.4,74.2 L265.1,70.7 L268.8,70.4 L272.5,70.2 L276.2,72.2 L279.8,70.2" fill="none" stroke="#589e98" stroke-width="0.7" stroke-linejoin="round" stroke-linecap="round" opacity="0.9"/>
<path d="M44.0,97.7 L47.7,97.8 L51.4,96.3 L55.1,94.8 L58.7,95.1 L62.4,97.3 L66.1,94.8 L69.8,95.3 L73.5,95.1 L77.2,96.7 L80.8,93.5 L84.5,94.2 L88.2,92.3 L91.9,96.0 L95.6,95.5 L99.3,97.2 L103.0,93.1 L106.6,91.2 L110.3,92.7 L114.0,90.5 L117.7,91.2 L121.4,87.6 L125.1,89.3 L128.8,89.3 L132.4,89.6 L136.1,84.2 L139.8,89.1 L143.5,85.9 L147.2,84.1 L150.9,82.6 L154.6,88.0 L158.2,84.6 L161.9,86.3 L165.6,87.0 L169.3,88.6 L173.0,87.9 L176.7,85.6 L180.3,84.1 L184.0,85.6 L187.7,79.5 L191.4,85.9 L195.1,79.9 L198.8,87.5 L202.5,82.9 L206.1,82.4 L209.8,78.1 L213.5,77.0 L217.2,75.5 L220.9,76.7 L224.6,79.3 L228.2,75.8 L231.9,75.9 L235.6,79.3 L239.3,77.9 L243.0,74.1 L246.7,73.0 L250.4,76.0 L254.0,70.7 L257.7,70.4 L261.4,69.7 L265.1,72.3 L268.8,72.3 L272.5,65.4 L276.2,66.4 L279.8,66.0" fill="none" stroke="#589e98" stroke-width="0.7" stroke-linejoin="round" stroke-linecap="round" opacity="0.9"/>
<path d="M44.0,99.1 L47.7,97.1 L51.4,97.3 L55.1,97.2 L58.7,96.8 L62.4,98.4 L66.1,95.7 L69.8,93.6 L73.5,94.3 L77.2,94.3 L80.8,96.3 L84.5,96.8 L88.2,96.5 L91.9,99.0 L95.6,98.7 L99.3,94.6 L103.0,96.1 L106.6,93.8 L110.3,92.7 L114.0,93.1 L117.7,93.3 L121.4,89.3 L125.1,91.2 L128.8,90.1 L132.4,90.0 L136.1,87.8 L139.8,86.0 L143.5,87.8 L147.2,89.4 L150.9,90.4 L154.6,88.3 L158.2,89.0 L161.9,88.0 L165.6,92.6 L169.3,91.5 L173.0,91.4 L176.7,90.8 L180.3,88.0 L184.0,88.1 L187.7,88.5 L191.4,86.4 L195.1,86.9 L198.8,85.0 L202.5,82.5 L206.1,84.9 L209.8,83.8 L213.5,79.4 L217.2,75.9 L220.9,79.1 L224.6,78.4 L228.2,79.1 L231.9,82.8 L235.6,79.8 L239.3,77.1 L243.0,80.3 L246.7,78.6 L250.4,77.3 L254.0,76.6 L257.7,77.7 L261.4,72.9 L265.1,70.4 L268.8,71.9 L272.5,74.2 L276.2,72.7 L279.8,70.2" fill="none" stroke="#589e98" stroke-width="0.7" stroke-linejoin="round" stroke-linecap="round" opacity="0.9"/>
<path d="M44.0,96.5 L47.7,98.4 L51.4,97.6 L55.1,96.8 L58.7,97.1 L62.4,98.7 L66.1,94.9 L69.8,96.8 L73.5,94.8 L77.2,96.2 L80.8,97.4 L84.5,96.4 L88.2,96.7 L91.9,98.8 L95.6,96.2 L99.3,94.2 L103.0,95.3 L106.6,94.9 L110.3,91.9 L114.0,91.2 L117.7,90.6 L121.4,90.8 L125.1,89.7 L128.8,89.3 L132.4,88.8 L136.1,84.7 L139.8,87.9 L143.5,85.1 L147.2,85.8 L150.9,86.2 L154.6,86.8 L158.2,85.0 L161.9,84.8 L165.6,88.7 L169.3,87.3 L173.0,84.9 L176.7,84.9 L180.3,86.9 L184.0,84.0 L187.7,84.2 L191.4,88.0 L195.1,88.4 L198.8,85.0 L202.5,83.5 L206.1,80.4 L209.8,83.4 L213.5,77.9 L217.2,73.4 L220.9,77.5 L224.6,77.7 L228.2,75.7 L231.9,79.5 L235.6,76.2 L239.3,79.5 L243.0,76.2 L246.7,80.3 L250.4,72.8 L254.0,75.0 L257.7,72.5 L261.4,75.6 L265.1,70.7 L268.8,72.2 L272.5,71.1 L276.2,70.6 L279.8,69.4" fill="none" stroke="#589e98" stroke-width="0.7" stroke-linejoin="round" stroke-linecap="round" opacity="0.9"/>
<path d="M44.0,97.8 L47.7,96.5 L51.4,98.6 L55.1,95.0 L58.7,97.9 L62.4,94.7 L66.1,94.4 L69.8,96.2 L73.5,94.6 L77.2,94.6 L80.8,93.6 L84.5,93.5 L88.2,94.4 L91.9,94.9 L95.6,95.9 L99.3,97.6 L103.0,94.0 L106.6,95.0 L110.3,91.4 L114.0,88.6 L117.7,90.1 L121.4,90.2 L125.1,87.5 L128.8,87.1 L132.4,86.3 L136.1,84.2 L139.8,86.9 L143.5,85.8 L147.2,86.5 L150.9,85.0 L154.6,82.9 L158.2,87.7 L161.9,87.0 L165.6,88.1 L169.3,87.1 L173.0,87.8 L176.7,88.6 L180.3,86.2 L184.0,87.3 L187.7,82.8 L191.4,83.8 L195.1,86.2 L198.8,86.3 L202.5,80.9 L206.1,80.9 L209.8,81.1 L213.5,77.6 L217.2,78.4 L220.9,75.6 L224.6,75.0 L228.2,78.8 L231.9,77.8 L235.6,79.2 L239.3,76.2 L243.0,76.6 L246.7,75.1 L250.4,73.6 L254.0,72.9 L257.7,74.9 L261.4,73.5 L265.1,72.8 L268.8,66.9 L272.5,69.1 L276.2,72.8 L279.8,66.9" fill="none" stroke="#589e98" stroke-width="0.7" stroke-linejoin="round" stroke-linecap="round" opacity="0.9"/>
<path d="M44.0,97.8 L47.7,96.1 L51.4,95.7 L55.1,95.8 L58.7,96.2 L62.4,97.9 L66.1,96.6 L69.8,92.6 L73.5,94.2 L77.2,93.3 L80.8,96.0 L84.5,95.7 L88.2,93.2 L91.9,94.3 L95.6,96.6 L99.3,94.9 L103.0,96.3 L106.6,92.4 L110.3,92.6 L114.0,90.6 L117.7,88.4 L121.4,90.6 L125.1,85.9 L128.8,87.7 L132.4,87.5 L136.1,87.3 L139.8,83.0 L143.5,86.2 L147.2,85.1 L150.9,85.3 L154.6,85.4 L158.2,86.2 L161.9,87.8 L165.6,89.6 L169.3,86.5 L173.0,86.7 L176.7,88.2 L180.3,83.8 L184.0,84.2 L187.7,87.3 L191.4,82.5 L195.1,88.3 L198.8,85.8 L202.5,84.2 L206.1,82.3 L209.8,78.8 L213.5,78.5 L217.2,76.4 L220.9,75.3 L224.6,75.8 L228.2,79.5 L231.9,79.1 L235.6,76.3 L239.3,76.6 L243.0,72.9 L246.7,71.7 L250.4,70.6 L254.0,75.7 L257.7,70.8 L261.4,69.8 L265.1,74.8 L268.8,67.9 L272.5,70.2 L276.2,69.2 L279.8,69.0" fill="none" stroke="#589e98" stroke-width="0.7" stroke-linejoin="round" stroke-linecap="round" opacity="0.9"/>
<path d="M44.0,99.5 L47.7,98.4 L51.4,97.8 L55.1,99.0 L58.7,94.7 L62.4,97.2 L66.1,94.7 L69.8,94.0 L73.5,95.4 L77.2,95.1 L80.8,93.7 L84.5,95.9 L88.2,94.0 L91.9,96.8 L95.6,94.4 L99.3,92.8 L103.0,95.0 L106.6,94.7 L110.3,90.1 L114.0,92.2 L117.7,92.6 L121.4,90.4 L125.1,88.8 L128.8,87.4 L132.4,87.8 L136.1,86.2 L139.8,90.9 L143.5,86.1 L147.2,87.5 L150.9,85.4 L154.6,86.5 L158.2,84.8 L161.9,87.3 L165.6,87.2 L169.3,88.5 L173.0,87.3 L176.7,87.4 L180.3,85.3 L184.0,81.3 L187.7,82.5 L191.4,83.5 L195.1,83.2 L198.8,85.2 L202.5,84.2 L206.1,82.7 L209.8,79.1 L213.5,76.1 L217.2,76.7 L220.9,77.3 L224.6,76.7 L228.2,79.3 L231.9,78.8 L235.6,78.2 L239.3,78.8 L243.0,80.6 L246.7,77.2 L250.4,71.6 L254.0,70.0 L257.7,71.4 L261.4,70.5 L265.1,69.0 L268.8,70.5 L272.5,73.3 L276.2,67.6 L279.8,68.7" fill="none" stroke="#589e98" stroke-width="0.7" stroke-linejoin="round" stroke-linecap="round" opacity="0.9"/>
<path d="M44.0,96.6 L47.7,98.7 L51.4,98.8 L55.1,97.3 L58.7,97.4 L62.4,95.4 L66.1,97.5 L69.8,93.2 L73.5,94.7 L77.2,95.5 L80.8,98.4 L84.5,94.7 L88.2,92.9 L91.9,95.9 L95.6,99.0 L99.3,96.5 L103.0,93.9 L106.6,93.3 L110.3,94.0 L114.0,92.6 L117.7,94.2 L121.4,89.4 L125.1,89.1 L128.8,90.8 L132.4,85.1 L136.1,87.9 L139.8,86.9 L143.5,87.8 L147.2,85.0 L150.9,87.1 L154.6,87.6 L158.2,87.4 L161.9,88.8 L165.6,87.2 L169.3,88.0 L173.0,90.5 L176.7,87.3 L180.3,86.6 L184.0,85.4 L187.7,83.0 L191.4,87.0 L195.1,84.5 L198.8,82.8 L202.5,83.4 L206.1,79.5 L209.8,82.2 L213.5,74.7 L217.2,78.2 L220.9,78.2 L224.6,77.4 L228.2,80.7 L231.9,80.0 L235.6,76.1 L239.3,77.7 L243.0,74.6 L246.7,77.6 L250.4,73.0 L254.0,71.4 L257.7,74.2 L261.4,74.0 L265.1,71.7 L268.8,70.0 L272.5,70.4 L276.2,68.3 L279.8,75.2" fill="none" stroke="#589e98" stroke-width="0.7" stroke-linejoin="round" stroke-linecap="round" opacity="0.9"/>
<path d="M44.0,98.2 L47.7,96.7 L51.4,97.3 L55.1,96.2 L58.7,96.7 L62.4,95.8 L66.1,97.4 L69.8,94.6 L73.5,95.1 L77.2,98.1 L80.8,95.5 L84.5,95.5 L88.2,93.2 L91.9,100.3 L95.6,98.7 L99.3,96.9 L103.0,96.7 L106.6,94.3 L110.3,93.2 L114.0,93.5 L117.7,93.5 L121.4,88.5 L125.1,88.8 L128.8,88.3 L132.4,88.9 L136.1,88.0 L139.8,86.0 L143.5,86.8 L147.2,87.0 L150.9,84.5 L154.6,83.5 L158.2,85.7 L161.9,90.6 L165.6,87.0 L169.3,91.7 L173.0,88.6 L176.7,93.6 L180.3,84.5 L184.0,85.2 L187.7,82.2 L191.4,87.7 L195.1,85.2 L198.8,87.2 L202.5,84.9 L206.1,83.4 L209.8,82.7 L213.5,79.9 L217.2,78.0 L220.9,78.2 L224.6,80.4 L228.2,81.1 L231.9,80.1 L235.6,78.7 L239.3,80.4 L243.0,74.8 L246.7,76.4 L250.4,78.8 L254.0,74.9 L257.7,73.3 L261.4,69.4 L265.1,71.5 L268.8,72.5 L272.5,71.3 L276.2,69.6 L279.8,70.4" fill="none" stroke="#589e98" stroke-width="0.7" stroke-linejoin="round" stroke-linecap="round" opacity="0.9"/>
<path d="M44.0,98.1 L47.7,98.5 L51.4,99.6 L55.1,96.5 L58.7,95.8 L62.4,96.0 L66.1,96.0 L69.8,93.4 L73.5,93.9 L77.2,94.5 L80.8,95.9 L84.5,94.5 L88.2,95.3 L91.9,94.5 L95.6,94.9 L99.3,94.5 L103.0,95.2 L106.6,93.9 L110.3,90.9 L114.0,94.8 L117.7,94.0 L121.4,90.8 L125.1,89.9 L128.8,88.7 L132.4,88.9 L136.1,89.5 L139.8,86.4 L143.5,83.6 L147.2,91.4 L150.9,89.1 L154.6,86.1 L158.2,87.3 L161.9,86.4 L165.6,91.1 L169.3,89.9 L173.0,88.9 L176.7,85.1 L180.3,88.1 L184.0,83.9 L187.7,82.2 L191.4,85.1 L195.1,86.9 L198.8,84.2 L202.5,85.3 L206.1,84.9 L209.8,82.7 L213.5,79.3 L217.2,77.6 L220.9,78.7 L224.6,79.0 L228.2,81.3 L231.9,78.9 L235.6,79.5 L239.3,83.5 L243.0,75.8 L246.7,76.8 L250.4,72.4 L254.0,73.5 L257.7,75.8 L261.4,72.0 L265.1,71.0 L268.8,70.5 L272.5,69.2 L276.2,70.1 L279.8,67.7" fill="none" stroke="#589e98" stroke-width="0.7" stroke-linejoin="round" stroke-linecap="round" opacity="0.9"/>
<path d="M44.0,98.4 L47.7,95.9 L51.4,95.8 L55.1,97.0 L58.7,97.6 L62.4,96.9 L66.1,94.0 L69.8,94.5 L73.5,92.8 L77.2,96.7 L80.8,94.3 L84.5,95.9 L88.2,92.3 L91.9,96.8 L95.6,97.6 L99.3,95.8 L103.0,97.1 L106.6,91.8 L110.3,91.6 L114.0,92.5 L117.7,91.4 L121.4,88.3 L125.1,88.3 L128.8,88.7 L132.4,84.8 L136.1,86.0 L139.8,85.7 L143.5,85.8 L147.2,87.6 L150.9,85.8 L154.6,84.0 L158.2,84.5 L161.9,85.6 L165.6,86.5 L169.3,88.3 L173.0,89.5 L176.7,86.0 L180.3,88.9 L184.0,82.7 L187.7,84.1 L191.4,84.1 L195.1,86.1 L198.8,85.8 L202.5,86.9 L206.1,80.8 L209.8,82.6 L213.5,78.9 L217.2,72.8 L220.9,76.8 L224.6,74.4 L228.2,78.5 L231.9,78.7 L235.6,75.2 L239.3,77.5 L243.0,79.2 L246.7,74.5 L250.4,75.3 L254.0,72.7 L257.7,75.5 L261.4,70.4 L265.1,69.3 L268.8,66.4 L272.5,67.1 L276.2,67.3 L279.8,68.6" fill="none" stroke="#589e98" stroke-width="0.7" stroke-linejoin="round" stroke-linecap="round" opacity="0.9"/>
<path d="M44.0,97.4 L47.7,97.0 L51.4,96.7 L55.1,98.3 L58.7,94.8 L62.4,97.2 L66.1,97.5 L69.8,92.5 L73.5,95.4 L77.2,94.6 L80.8,96.1 L84.5,94.9 L88.2,93.1 L91.9,95.7 L95.6,94.6 L99.3,98.4 L103.0,93.9 L106.6,94.2 L110.3,92.2 L114.0,90.8 L117.7,92.1 L121.4,89.0 L125.1,86.9 L128.8,89.4 L132.4,91.5 L136.1,88.4 L139.8,86.2 L143.5,87.3 L147.2,85.7 L150.9,88.1 L154.6,84.5 L158.2,86.7 L161.9,90.7 L165.6,84.6 L169.3,88.5 L173.0,86.5 L176.7,87.0 L180.3,85.3 L184.0,84.7 L187.7,84.5 L191.4,84.0 L195.1,82.4 L198.8,86.7 L202.5,85.2 L206.1,81.4 L209.8,78.2 L213.5,76.8 L217.2,76.1 L220.9,78.5 L224.6,77.4 L228.2,78.2 L231.9,80.9 L235.6,80.7 L239.3,78.9 L243.0,77.1 L246.7,71.8 L250.4,72.8 L254.0,72.6 L257.7,70.1 L261.4,74.6 L265.1,73.8 L268.8,72.6 L272.5,68.5 L276.2,66.7 L279.8,70.2" fill="none" stroke="#589e98" stroke-width="0.7" stroke-linejoin="round" stroke-linecap="round" opacity="0.9"/>
<path d="M44.0,97.0 L47.7,98.8 L51.4,98.1 L55.1,97.4 L58.7,96.7 L62.4,97.0 L66.1,96.3 L69.8,99.1 L73.5,96.3 L77.2,97.6 L80.8,93.6 L84.5,96.6 L88.2,94.9 L91.9,97.7 L95.6,97.7 L99.3,96.0 L103.0,97.3 L106.6,97.8 L110.3,95.5 L114.0,93.9 L117.7,90.0 L121.4,90.1 L125.1,91.1 L128.8,91.2 L132.4,89.8 L136.1,86.2 L139.8,87.2 L143.5,84.1 L147.2,88.5 L150.9,86.3 L154.6,86.5 L158.2,88.8 L161.9,88.5 L165.6,86.5 L169.3,86.8 L173.0,87.2 L176.7,87.5 L180.3,86.8 L184.0,90.7 L187.7,85.6 L191.4,86.9 L195.1,87.0 L198.8,87.8 L202.5,81.7 L206.1,84.1 L209.8,82.4 L213.5,81.2 L217.2,77.7 L220.9,80.5 L224.6,82.5 L228.2,75.5 L231.9,84.0 L235.6,79.2 L239.3,80.1 L243.0,76.3 L246.7,77.3 L250.4,73.9 L254.0,78.7 L257.7,72.9 L261.4,78.8 L265.1,75.1 L268.8,72.0 L272.5,71.8 L276.2,71.6 L279.8,75.1" fill="none" stroke="#589e98" stroke-width="0.7" stroke-linejoin="round" stroke-linecap="round" opacity="0.9"/>
<path d="M44.0,98.8 L47.7,98.4 L51.4,96.9 L55.1,97.4 L58.7,96.3 L62.4,93.5 L66.1,93.7 L69.8,92.8 L73.5,93.6 L77.2,95.1 L80.8,94.7 L84.5,91.2 L88.2,92.5 L91.9,95.9 L95.6,96.3 L99.3,96.4 L103.0,95.1 L106.6,93.8 L110.3,90.3 L114.0,92.9 L117.7,91.0 L121.4,90.1 L125.1,91.8 L128.8,87.5 L132.4,89.5 L136.1,86.0 L139.8,86.0 L143.5,85.9 L147.2,85.3 L150.9,87.0 L154.6,84.2 L158.2,86.9 L161.9,89.4 L165.6,88.6 L169.3,87.2 L173.0,89.9 L176.7,87.2 L180.3,87.5 L184.0,84.4 L187.7,81.9 L191.4,86.3 L195.1,82.3 L198.8,89.1 L202.5,84.4 L206.1,83.0 L209.8,82.4 L213.5,80.4 L217.2,78.0 L220.9,74.3 L224.6,78.2 L228.2,79.9 L231.9,80.4 L235.6,79.8 L239.3,81.1 L243.0,77.4 L246.7,76.8 L250.4,74.5 L254.0,74.5 L257.7,75.1 L261.4,72.3 L265.1,75.5 L268.8,71.2 L272.5,70.1 L276.2,73.1 L279.8,69.7" fill="none" stroke="#589e98" stroke-width="0.7" stroke-linejoin="round" stroke-linecap="round" opacity="0.9"/>
<path d="M44.0,100.5 L47.7,97.8 L51.4,98.7 L55.1,99.4 L58.7,96.7 L62.4,93.5 L66.1,96.5 L69.8,95.1 L73.5,98.0 L77.2,96.1 L80.8,97.0 L84.5,95.6 L88.2,92.7 L91.9,97.0 L95.6,98.1 L99.3,94.3 L103.0,95.4 L106.6,97.1 L110.3,93.8 L114.0,94.2 L117.7,92.8 L121.4,91.6 L125.1,88.8 L128.8,88.0 L132.4,88.2 L136.1,87.0 L139.8,86.5 L143.5,84.9 L147.2,82.8 L150.9,85.9 L154.6,85.7 L158.2,87.8 L161.9,88.7 L165.6,90.5 L169.3,90.0 L173.0,88.5 L176.7,87.4 L180.3,87.1 L184.0,88.4 L187.7,85.6 L191.4,86.6 L195.1,85.7 L198.8,89.1 L202.5,86.3 L206.1,82.8 L209.8,81.9 L213.5,81.1 L217.2,79.5 L220.9,79.3 L224.6,82.3 L228.2,79.2 L231.9,79.4 L235.6,76.7 L239.3,76.5 L243.0,79.1 L246.7,76.4 L250.4,79.3 L254.0,78.0 L257.7,74.7 L261.4,72.7 L265.1,73.0 L268.8,70.8 L272.5,73.7 L276.2,71.5 L279.8,68.8" fill="none" stroke="#589e98" stroke-width="0.7" stroke-linejoin="round" stroke-linecap="round" opacity="0.9"/>
<path d="M44.0,97.0 L47.7,98.2 L51.4,98.6 L55.1,95.8 L58.7,95.1 L62.4,96.1 L66.1,95.8 L69.8,92.8 L73.5,95.0 L77.2,93.4 L80.8,94.2 L84.5,95.3 L88.2,93.9 L91.9,94.4 L95.6,97.6 L99.3,95.4 L103.0,95.8 L106.6,94.2 L110.3,94.7 L114.0,93.9 L117.7,88.3 L121.4,88.0 L125.1,90.7 L128.8,84.8 L132.4,87.7 L136.1,84.7 L139.8,83.6 L143.5,84.7 L147.2,82.2 L150.9,83.5 L154.6,83.0 L158.2,85.3 L161.9,85.9 L165.6,88.4 L169.3,88.0 L173.0,88.1 L176.7,86.5 L180.3,86.5 L184.0,85.7 L187.7,87.9 L191.4,84.8 L195.1,83.4 L198.8,84.2 L202.5,84.2 L206.1,84.9 L209.8,77.7 L213.5,74.4 L217.2,76.3 L220.9,74.9 L224.6,74.4 L228.2,77.4 L231.9,81.4 L235.6,75.9 L239.3,76.4 L243.0,76.5 L246.7,73.3 L250.4,73.6 L254.0,74.4 L257.7,69.8 L261.4,71.8 L265.1,71.1 L268.8,73.1 L272.5,69.6 L276.2,70.0 L279.8,69.5" fill="none" stroke="#589e98" stroke-width="0.7" stroke-linejoin="round" stroke-linecap="round" opacity="0.9"/>
<path d="M44.0,97.5 L47.7,97.7 L51.4,100.3 L55.1,97.4 L58.7,98.1 L62.4,98.6 L66.1,93.9 L69.8,96.1 L73.5,95.6 L77.2,98.9 L80.8,97.2 L84.5,93.1 L88.2,94.4 L91.9,94.6 L95.6,100.5 L99.3,98.1 L103.0,96.4 L106.6,93.4 L110.3,95.7 L114.0,94.8 L117.7,91.3 L121.4,88.3 L125.1,92.0 L128.8,91.4 L132.4,89.7 L136.1,86.5 L139.8,88.7 L143.5,83.9 L147.2,87.8 L150.9,85.6 L154.6,88.4 L158.2,90.5 L161.9,85.3 L165.6,90.5 L169.3,93.5 L173.0,87.8 L176.7,85.7 L180.3,86.7 L184.0,87.6 L187.7,87.5 L191.4,85.8 L195.1,86.2 L198.8,85.9 L202.5,84.6 L206.1,84.9 L209.8,83.6 L213.5,81.0 L217.2,76.1 L220.9,81.6 L224.6,81.1 L228.2,81.3 L231.9,77.7 L235.6,80.2 L239.3,79.5 L243.0,77.2 L246.7,74.2 L250.4,75.4 L254.0,75.5 L257.7,74.3 L261.4,73.3 L265.1,71.2 L268.8,74.6 L272.5,73.2 L276.2,71.7 L279.8,72.0" fill="none" stroke="#589e98" stroke-width="0.7" stroke-linejoin="round" stroke-linecap="round" opacity="0.9"/>
<rect x="34.5" y="0.5" width="255.0" height="175.0" fill="none" stroke="#1a1a1a" stroke-width="1.2" stroke-linejoin="round"/>
<line x1="44.0" y1="175.5" x2="44.0" y2="179.7" stroke="#111" stroke-width="1.3"/>
<text x="0" y="0" font-size="8.6" text-anchor="middle" fill="#000" stroke="#000" stroke-width="0.3" transform="translate(44.0 189.4) scale(1 1.12)">1950</text>
<line x1="80.8" y1="175.5" x2="80.8" y2="179.7" stroke="#111" stroke-width="1.3"/>
<text x="0" y="0" font-size="8.6" text-anchor="middle" fill="#000" stroke="#000" stroke-width="0.3" transform="translate(80.8 189.4) scale(1 1.12)">1960</text>
<line x1="117.7" y1="175.5" x2="117.7" y2="179.7" stroke="#111" stroke-width="1.3"/>
<text x="0" y="0" font-size="8.6" text-anchor="middle" fill="#000" stroke="#000" stroke-width="0.3" transform="translate(117.7 189.4) scale(1 1.12)">1970</text>
<line x1="154.6" y1="175.5" x2="154.6" y2="179.7" stroke="#111" stroke-width="1.3"/>
<text x="0" y="0" font-size="8.6" text-anchor="middle" fill="#000" stroke="#000" stroke-width="0.3" transform="translate(154.6 189.4) scale(1 1.12)">1980</text>
<line x1="191.4" y1="175.5" x2="191.4" y2="179.7" stroke="#111" stroke-width="1.3"/>
<text x="0" y="0" font-size="8.6" text-anchor="middle" fill="#000" stroke="#000" stroke-width="0.3" transform="translate(191.4 189.4) scale(1 1.12)">1990</text>
<line x1="228.2" y1="175.5" x2="228.2" y2="179.7" stroke="#111" stroke-width="1.3"/>
<text x="0" y="0" font-size="8.6" text-anchor="middle" fill="#000" stroke="#000" stroke-width="0.3" transform="translate(228.2 189.4) scale(1 1.12)">2000</text>
<line x1="265.1" y1="175.5" x2="265.1" y2="179.7" stroke="#111" stroke-width="1.3"/>
<text x="0" y="0" font-size="8.6" text-anchor="middle" fill="#000" stroke="#000" stroke-width="0.3" transform="translate(265.1 189.4) scale(1 1.12)">2010</text>
<line x1="30.3" y1="23.1" x2="34.5" y2="23.1" stroke="#111" stroke-width="1.3"/>
<text x="0" y="0" font-size="8.6" text-anchor="end" fill="#000" stroke="#000" stroke-width="0.3" transform="translate(26.2 26.5) scale(1 1.12)">40</text>
<line x1="30.3" y1="55.4" x2="34.5" y2="55.4" stroke="#111" stroke-width="1.3"/>
<text x="0" y="0" font-size="8.6" text-anchor="end" fill="#000" stroke="#000" stroke-width="0.3" transform="translate(26.2 58.8) scale(1 1.12)">20</text>
<line x1="30.3" y1="87.7" x2="34.5" y2="87.7" stroke="#111" stroke-width="1.3"/>
<text x="0" y="0" font-size="8.6" text-anchor="end" fill="#000" stroke="#000" stroke-width="0.3" transform="translate(26.2 91.1) scale(1 1.12)">0</text>
<line x1="30.3" y1="120.0" x2="34.5" y2="120.0" stroke="#111" stroke-width="1.3"/>
<text x="0" y="0" font-size="8.6" text-anchor="end" fill="#000" stroke="#000" stroke-width="0.3" transform="translate(26.2 123.4) scale(1 1.12)">−20</text>
<line x1="30.3" y1="152.3" x2="34.5" y2="152.3" stroke="#111" stroke-width="1.3"/>
<text x="0" y="0" font-size="8.6" text-anchor="end" fill="#000" stroke="#000" stroke-width="0.3" transform="translate(26.2 155.7) scale(1 1.12)">−40</text>
<text x="0" y="0" font-size="9.7" text-anchor="middle" fill="#000" stroke="#000" stroke-width="0.3" transform="translate(8.3 87.3) rotate(-90)">Anomaly (Tg)</text>
<rect x="47.5" y="9.7" width="44.7" height="31.8" fill="none" stroke="#1a1a1a" stroke-width="1.2" stroke-linejoin="round"/>
<line x1="52.8" y1="16.2" x2="61.1" y2="16.2" stroke="#000" stroke-width="2.8" stroke-linecap="round"/>
<text x="0" y="0" font-size="5.4" text-anchor="start" fill="#000" stroke="#000" stroke-width="0.15" transform="translate(66.9 18.2) scale(1 1.12)">Global</text>
<line x1="52.8" y1="22.6" x2="61.1" y2="22.6" stroke="#2e47a6" stroke-width="2.8" stroke-linecap="round"/>
<text x="0" y="0" font-size="5.4" text-anchor="start" fill="#000" stroke="#000" stroke-width="0.15" transform="translate(66.9 24.6) scale(1 1.12)">20N–90N</text>
<line x1="52.8" y1="29.1" x2="61.1" y2="29.1" stroke="#5d82d2" stroke-width="2.8" stroke-linecap="round"/>
<text x="0" y="0" font-size="5.4" text-anchor="start" fill="#000" stroke="#000" stroke-width="0.15" transform="translate(66.9 31.1) scale(1 1.12)">20S–20N</text>
<line x1="52.8" y1="35.5" x2="61.1" y2="35.5" stroke="#55a09a" stroke-width="2.8" stroke-linecap="round"/>
<text x="0" y="0" font-size="5.4" text-anchor="start" fill="#000" stroke="#000" stroke-width="0.15" transform="translate(66.9 37.5) scale(1 1.12)">20S–90S</text>
<line x1="324.2" y1="89.5" x2="574.0" y2="89.5" stroke="#b8b8b8" stroke-width="1" stroke-dasharray="2.5,2.15"/>
<path d="M333.5,157.9 L337.1,156.8 L340.7,154.9 L344.4,152.9 L348.0,150.8 L351.6,147.9 L355.2,145.0 L358.8,142.1 L362.5,140.7 L366.1,139.2 L369.7,137.8 L373.3,133.9 L376.9,129.8 L380.6,138.9 L384.2,137.9 L387.8,133.8 L391.4,128.0 L395.0,116.8 L398.7,111.2 L402.3,107.4 L405.9,104.1 L409.5,100.1 L413.1,95.7 L416.8,94.2 L420.4,97.5 L424.0,100.8 L427.6,94.1 L431.2,86.7 L434.9,82.9 L438.5,81.3 L442.1,82.4 L445.7,87.9 L449.3,92.7 L453.0,95.7 L456.6,90.3 L460.2,85.0 L463.8,79.5 L467.4,74.7 L471.1,70.3 L474.7,65.9 L478.3,65.7 L481.9,68.9 L485.5,72.1 L489.2,69.7 L492.8,60.1 L496.4,50.6 L500.0,41.6 L503.6,36.1 L507.3,39.8 L510.9,43.0 L514.5,46.0 L518.1,45.4 L521.7,40.7 L525.4,36.2 L529.0,34.4 L532.6,32.6 L536.2,30.8 L539.8,29.0 L543.5,26.5 L547.1,24.0 L550.7,21.4 L554.3,19.1 L557.9,17.0 L561.6,14.9 L565.2,12.8" fill="none" stroke="#000" stroke-width="1.0" stroke-linejoin="round" stroke-linecap="round" opacity="1.0"/>
<path d="M333.5,153.9 L337.1,154.3 L340.7,152.4 L344.4,150.4 L348.0,146.4 L351.6,146.2 L355.2,142.0 L358.8,139.2 L362.5,136.7 L366.1,138.5 L369.7,129.6 L373.3,130.7 L376.9,129.1 L380.6,134.6 L384.2,134.1 L387.8,134.9 L391.4,124.7 L395.0,117.1 L398.7,108.2 L402.3,102.9 L405.9,101.0 L409.5,97.2 L413.1,91.1 L416.8,88.9 L420.4,95.5 L424.0,90.4 L427.6,95.3 L431.2,85.7 L434.9,84.3 L438.5,79.4 L442.1,79.2 L445.7,84.3 L449.3,92.1 L453.0,90.2 L456.6,85.4 L460.2,83.3 L463.8,75.8 L467.4,71.9 L471.1,72.1 L474.7,63.6 L478.3,61.6 L481.9,66.7 L485.5,74.5 L489.2,68.1 L492.8,50.3 L496.4,42.9 L500.0,30.5 L503.6,38.0 L507.3,41.5 L510.9,43.2 L514.5,41.6 L518.1,39.8 L521.7,37.2 L525.4,31.5 L529.0,32.5 L532.6,27.8 L536.2,26.2 L539.8,12.6 L543.5,15.5 L547.1,19.4 L550.7,6.8 L554.3,11.7 L557.9,5.6 L561.6,6.5 L565.2,14.9" fill="none" stroke="#000" stroke-width="0.7" stroke-linejoin="round" stroke-linecap="round" opacity="0.9"/>
<path d="M333.5,159.9 L337.1,156.5 L340.7,151.0 L344.4,151.7 L348.0,153.1 L351.6,146.8 L355.2,147.3 L358.8,141.6 L362.5,141.0 L366.1,141.9 L369.7,135.2 L373.3,133.7 L376.9,131.8 L380.6,139.5 L384.2,136.2 L387.8,129.1 L391.4,130.8 L395.0,113.6 L398.7,113.4 L402.3,105.5 L405.9,103.5 L409.5,97.8 L413.1,99.1 L416.8,93.2 L420.4,97.9 L424.0,100.9 L427.6,96.5 L431.2,84.9 L434.9,79.0 L438.5,82.3 L442.1,83.4 L445.7,85.3 L449.3,90.5 L453.0,94.0 L456.6,92.5 L460.2,82.9 L463.8,72.9 L467.4,82.9 L471.1,70.4 L474.7,61.0 L478.3,66.4 L481.9,66.2 L485.5,69.7 L489.2,75.8 L492.8,56.1 L496.4,48.9 L500.0,41.1 L503.6,44.4 L507.3,39.9 L510.9,44.0 L514.5,44.3 L518.1,43.0 L521.7,42.8 L525.4,34.1 L529.0,33.9 L532.6,30.2 L536.2,30.3 L539.8,25.8 L543.5,28.3 L547.1,25.1 L550.7,20.9 L554.3,18.5 L557.9,14.6 L561.6,18.1 L565.2,4.6" fill="none" stroke="#000" stroke-width="0.7" stroke-linejoin="round" stroke-linecap="round" opacity="0.9"/>
<path d="M333.5,158.2 L337.1,157.2 L340.7,155.4 L344.4,156.5 L348.0,153.0 L351.6,147.7 L355.2,145.6 L358.8,145.7 L362.5,140.2 L366.1,140.1 L369.7,140.9 L373.3,135.6 L376.9,133.3 L380.6,139.8 L384.2,138.6 L387.8,137.3 L391.4,130.8 L395.0,119.9 L398.7,115.1 L402.3,113.4 L405.9,105.0 L409.5,107.3 L413.1,100.4 L416.8,94.6 L420.4,95.6 L424.0,108.0 L427.6,99.3 L431.2,89.8 L434.9,85.7 L438.5,81.8 L442.1,87.0 L445.7,91.5 L449.3,90.4 L453.0,93.8 L456.6,86.0 L460.2,87.9 L463.8,76.4 L467.4,72.5 L471.1,66.9 L474.7,70.8 L478.3,69.4 L481.9,70.9 L485.5,77.5 L489.2,71.5 L492.8,58.6 L496.4,54.1 L500.0,49.3 L503.6,39.0 L507.3,44.9 L510.9,50.0 L514.5,48.1 L518.1,51.8 L521.7,42.0 L525.4,38.6 L529.0,36.0 L532.6,32.6 L536.2,36.4 L539.8,30.3 L543.5,28.4 L547.1,24.7 L550.7,27.2 L554.3,23.7 L557.9,24.2 L561.6,21.1 L565.2,13.9" fill="none" stroke="#000" stroke-width="0.7" stroke-linejoin="round" stroke-linecap="round" opacity="0.9"/>
<path d="M333.5,156.5 L337.1,161.1 L340.7,153.9 L344.4,151.3 L348.0,148.4 L351.6,148.6 L355.2,147.9 L358.8,142.4 L362.5,133.8 L366.1,138.0 L369.7,137.1 L373.3,135.7 L376.9,127.5 L380.6,138.0 L384.2,137.4 L387.8,127.6 L391.4,133.7 L395.0,119.9 L398.7,115.1 L402.3,108.1 L405.9,100.1 L409.5,97.6 L413.1,92.7 L416.8,97.9 L420.4,99.1 L424.0,98.2 L427.6,92.6 L431.2,83.4 L434.9,85.3 L438.5,82.1 L442.1,78.7 L445.7,89.8 L449.3,84.9 L453.0,95.8 L456.6,90.4 L460.2,85.3 L463.8,75.3 L467.4,67.8 L471.1,66.3 L474.7,63.8 L478.3,61.3 L481.9,62.3 L485.5,72.3 L489.2,63.1 L492.8,57.7 L496.4,54.9 L500.0,45.6 L503.6,35.2 L507.3,40.1 L510.9,43.8 L514.5,42.4 L518.1,40.6 L521.7,38.6 L525.4,28.5 L529.0,31.1 L532.6,33.1 L536.2,25.3 L539.8,33.4 L543.5,28.4 L547.1,24.7 L550.7,18.3 L554.3,21.1 L557.9,14.4 L561.6,21.7 L565.2,13.4" fill="none" stroke="#000" stroke-width="0.7" stroke-linejoin="round" stroke-linecap="round" opacity="0.9"/>
<path d="M333.5,162.4 L337.1,153.8 L340.7,153.1 L344.4,154.0 L348.0,151.3 L351.6,148.5 L355.2,147.6 L358.8,140.1 L362.5,143.6 L366.1,142.1 L369.7,138.4 L373.3,132.1 L376.9,131.4 L380.6,145.1 L384.2,138.0 L387.8,141.2 L391.4,128.5 L395.0,118.4 L398.7,114.4 L402.3,112.1 L405.9,102.6 L409.5,100.3 L413.1,99.3 L416.8,96.1 L420.4,97.9 L424.0,104.7 L427.6,93.8 L431.2,84.7 L434.9,84.4 L438.5,84.6 L442.1,83.0 L445.7,91.8 L449.3,90.1 L453.0,98.8 L456.6,92.5 L460.2,90.8 L463.8,85.7 L467.4,71.9 L471.1,65.2 L474.7,75.2 L478.3,62.0 L481.9,70.5 L485.5,75.8 L489.2,74.6 L492.8,62.8 L496.4,55.0 L500.0,44.0 L503.6,42.7 L507.3,41.8 L510.9,42.0 L514.5,46.0 L518.1,48.2 L521.7,39.7 L525.4,36.3 L529.0,38.0 L532.6,30.9 L536.2,28.8 L539.8,34.6 L543.5,20.4 L547.1,29.6 L550.7,26.9 L554.3,18.4 L557.9,19.1 L561.6,21.2 L565.2,15.9" fill="none" stroke="#000" stroke-width="0.7" stroke-linejoin="round" stroke-linecap="round" opacity="0.9"/>
<path d="M333.5,156.9 L337.1,158.5 L340.7,156.1 L344.4,150.4 L348.0,151.3 L351.6,146.9 L355.2,146.2 L358.8,137.2 L362.5,142.9 L366.1,138.3 L369.7,136.9 L373.3,134.0 L376.9,130.7 L380.6,140.4 L384.2,140.2 L387.8,134.7 L391.4,129.4 L395.0,112.2 L398.7,113.4 L402.3,104.2 L405.9,102.2 L409.5,98.6 L413.1,99.3 L416.8,93.5 L420.4,94.9 L424.0,96.9 L427.6,95.9 L431.2,90.1 L434.9,85.2 L438.5,82.8 L442.1,83.3 L445.7,84.1 L449.3,86.9 L453.0,92.1 L456.6,88.1 L460.2,88.6 L463.8,83.7 L467.4,66.7 L471.1,67.1 L474.7,68.4 L478.3,63.1 L481.9,68.7 L485.5,73.5 L489.2,72.5 L492.8,62.0 L496.4,52.7 L500.0,45.3 L503.6,36.1 L507.3,36.7 L510.9,39.8 L514.5,46.9 L518.1,49.4 L521.7,30.0 L525.4,36.7 L529.0,35.6 L532.6,26.5 L536.2,29.1 L539.8,25.5 L543.5,33.2 L547.1,23.7 L550.7,31.2 L554.3,27.1 L557.9,17.9 L561.6,11.9 L565.2,16.4" fill="none" stroke="#000" stroke-width="0.7" stroke-linejoin="round" stroke-linecap="round" opacity="0.9"/>
<path d="M333.5,158.1 L337.1,155.2 L340.7,159.3 L344.4,152.6 L348.0,150.7 L351.6,147.9 L355.2,143.8 L358.8,145.7 L362.5,141.0 L366.1,142.0 L369.7,142.2 L373.3,138.2 L376.9,132.2 L380.6,138.4 L384.2,145.4 L387.8,134.3 L391.4,127.7 L395.0,117.9 L398.7,116.3 L402.3,110.7 L405.9,106.6 L409.5,99.0 L413.1,98.9 L416.8,94.2 L420.4,95.5 L424.0,109.2 L427.6,97.6 L431.2,90.6 L434.9,81.3 L438.5,81.8 L442.1,86.3 L445.7,89.2 L449.3,95.0 L453.0,95.7 L456.6,89.7 L460.2,87.1 L463.8,70.0 L467.4,79.2 L471.1,73.1 L474.7,65.1 L478.3,67.4 L481.9,75.8 L485.5,77.8 L489.2,69.4 L492.8,69.2 L496.4,50.7 L500.0,43.1 L503.6,41.9 L507.3,41.7 L510.9,49.6 L514.5,46.3 L518.1,49.7 L521.7,39.0 L525.4,35.6 L529.0,32.7 L532.6,39.0 L536.2,34.1 L539.8,26.8 L543.5,27.8 L547.1,29.7 L550.7,20.7 L554.3,13.6 L557.9,19.9 L561.6,20.5 L565.2,10.8" fill="none" stroke="#000" stroke-width="0.7" stroke-linejoin="round" stroke-linecap="round" opacity="0.9"/>
<path d="M333.5,158.9 L337.1,156.8 L340.7,156.1 L344.4,152.2 L348.0,150.5 L351.6,145.6 L355.2,149.6 L358.8,143.8 L362.5,141.7 L366.1,134.2 L369.7,134.2 L373.3,134.3 L376.9,130.8 L380.6,137.9 L384.2,128.2 L387.8,131.0 L391.4,127.1 L395.0,114.9 L398.7,110.2 L402.3,105.2 L405.9,106.9 L409.5,91.5 L413.1,94.0 L416.8,91.3 L420.4,97.4 L424.0,98.8 L427.6,94.4 L431.2,82.5 L434.9,86.1 L438.5,81.6 L442.1,87.7 L445.7,87.7 L449.3,95.9 L453.0,96.2 L456.6,84.0 L460.2,84.3 L463.8,82.0 L467.4,72.5 L471.1,67.7 L474.7,68.1 L478.3,72.2 L481.9,70.4 L485.5,70.1 L489.2,73.3 L492.8,60.4 L496.4,43.6 L500.0,41.3 L503.6,35.8 L507.3,41.3 L510.9,40.8 L514.5,46.6 L518.1,48.0 L521.7,40.6 L525.4,35.2 L529.0,32.5 L532.6,36.2 L536.2,32.9 L539.8,28.5 L543.5,22.9 L547.1,24.5 L550.7,20.0 L554.3,17.0 L557.9,18.7 L561.6,17.0 L565.2,16.6" fill="none" stroke="#000" stroke-width="0.7" stroke-linejoin="round" stroke-linecap="round" opacity="0.9"/>
<path d="M333.5,158.6 L337.1,160.6 L340.7,154.8 L344.4,155.3 L348.0,147.9 L351.6,152.8 L355.2,148.2 L358.8,144.6 L362.5,140.7 L366.1,138.3 L369.7,138.4 L373.3,133.7 L376.9,131.2 L380.6,140.4 L384.2,141.6 L387.8,139.5 L391.4,131.8 L395.0,121.7 L398.7,107.7 L402.3,109.4 L405.9,107.8 L409.5,100.4 L413.1,97.1 L416.8,88.8 L420.4,98.8 L424.0,105.4 L427.6,100.4 L431.2,89.1 L434.9,81.6 L438.5,81.6 L442.1,86.7 L445.7,87.1 L449.3,94.2 L453.0,94.3 L456.6,89.5 L460.2,85.8 L463.8,85.0 L467.4,77.4 L471.1,71.2 L474.7,65.4 L478.3,65.9 L481.9,73.4 L485.5,77.8 L489.2,69.4 L492.8,60.7 L496.4,56.4 L500.0,40.0 L503.6,38.6 L507.3,44.6 L510.9,37.8 L514.5,56.3 L518.1,55.3 L521.7,43.7 L525.4,38.4 L529.0,33.5 L532.6,37.3 L536.2,32.8 L539.8,29.2 L543.5,24.8 L547.1,29.1 L550.7,30.3 L554.3,21.2 L557.9,16.5 L561.6,20.4 L565.2,5.8" fill="none" stroke="#000" stroke-width="0.7" stroke-linejoin="round" stroke-linecap="round" opacity="0.9"/>
<path d="M333.5,160.3 L337.1,158.8 L340.7,159.0 L344.4,154.8 L348.0,151.4 L351.6,152.6 L355.2,147.2 L358.8,143.1 L362.5,140.8 L366.1,140.5 L369.7,140.2 L373.3,129.5 L376.9,130.8 L380.6,139.0 L384.2,137.7 L387.8,134.4 L391.4,124.7 L395.0,118.5 L398.7,108.7 L402.3,109.2 L405.9,100.5 L409.5,96.3 L413.1,100.3 L416.8,92.0 L420.4,103.8 L424.0,101.3 L427.6,94.5 L431.2,92.7 L434.9,77.4 L438.5,81.0 L442.1,86.9 L445.7,90.2 L449.3,91.0 L453.0,92.3 L456.6,94.4 L460.2,83.3 L463.8,78.8 L467.4,79.3 L471.1,72.4 L474.7,71.7 L478.3,63.2 L481.9,64.7 L485.5,76.1 L489.2,66.1 L492.8,64.1 L496.4,50.6 L500.0,44.2 L503.6,40.0 L507.3,38.4 L510.9,42.0 L514.5,49.8 L518.1,40.3 L521.7,41.3 L525.4,35.2 L529.0,35.2 L532.6,29.5 L536.2,33.6 L539.8,32.6 L543.5,25.4 L547.1,23.5 L550.7,20.9 L554.3,14.3 L557.9,19.4 L561.6,19.5 L565.2,13.7" fill="none" stroke="#000" stroke-width="0.7" stroke-linejoin="round" stroke-linecap="round" opacity="0.9"/>
<path d="M333.5,160.1 L337.1,154.7 L340.7,156.5 L344.4,152.7 L348.0,154.2 L351.6,147.4 L355.2,147.1 L358.8,140.1 L362.5,142.9 L366.1,141.2 L369.7,138.0 L373.3,138.1 L376.9,130.6 L380.6,141.3 L384.2,141.0 L387.8,133.0 L391.4,122.9 L395.0,119.5 L398.7,108.0 L402.3,114.4 L405.9,109.6 L409.5,102.2 L413.1,101.7 L416.8,96.3 L420.4,96.5 L424.0,103.8 L427.6,99.5 L431.2,93.0 L434.9,83.7 L438.5,81.1 L442.1,87.3 L445.7,91.5 L449.3,95.1 L453.0,103.2 L456.6,98.2 L460.2,80.5 L463.8,77.8 L467.4,76.8 L471.1,69.9 L474.7,63.6 L478.3,61.8 L481.9,74.3 L485.5,76.3 L489.2,72.3 L492.8,64.6 L496.4,51.3 L500.0,46.1 L503.6,37.9 L507.3,38.7 L510.9,43.9 L514.5,52.9 L518.1,49.8 L521.7,42.0 L525.4,35.6 L529.0,37.7 L532.6,31.3 L536.2,28.9 L539.8,30.2 L543.5,32.7 L547.1,33.0 L550.7,20.5 L554.3,17.7 L557.9,22.6 L561.6,13.9 L565.2,13.7" fill="none" stroke="#000" stroke-width="0.7" stroke-linejoin="round" stroke-linecap="round" opacity="0.9"/>
<path d="M333.5,161.8 L337.1,159.3 L340.7,157.6 L344.4,152.0 L348.0,152.9 L351.6,152.9 L355.2,144.9 L358.8,147.2 L362.5,144.8 L366.1,137.9 L369.7,137.0 L373.3,135.0 L376.9,131.4 L380.6,140.5 L384.2,135.9 L387.8,135.8 L391.4,124.4 L395.0,119.5 L398.7,110.3 L402.3,110.6 L405.9,102.9 L409.5,102.3 L413.1,100.3 L416.8,100.2 L420.4,96.6 L424.0,103.3 L427.6,95.3 L431.2,95.5 L434.9,79.5 L438.5,87.6 L442.1,80.4 L445.7,90.0 L449.3,96.3 L453.0,100.1 L456.6,88.6 L460.2,81.2 L463.8,77.3 L467.4,75.5 L471.1,68.0 L474.7,67.6 L478.3,64.1 L481.9,68.9 L485.5,71.0 L489.2,66.0 L492.8,61.7 L496.4,47.6 L500.0,31.3 L503.6,37.7 L507.3,44.0 L510.9,42.4 L514.5,42.4 L518.1,52.2 L521.7,43.5 L525.4,38.4 L529.0,31.5 L532.6,35.1 L536.2,29.9 L539.8,36.1 L543.5,25.4 L547.1,22.0 L550.7,23.3 L554.3,21.6 L557.9,23.9 L561.6,16.1 L565.2,2.5" fill="none" stroke="#000" stroke-width="0.7" stroke-linejoin="round" stroke-linecap="round" opacity="0.9"/>
<path d="M333.5,156.4 L337.1,155.1 L340.7,155.6 L344.4,148.7 L348.0,148.7 L351.6,148.8 L355.2,143.8 L358.8,138.6 L362.5,140.3 L366.1,141.9 L369.7,138.6 L373.3,130.6 L376.9,134.2 L380.6,134.4 L384.2,138.5 L387.8,133.0 L391.4,128.2 L395.0,118.1 L398.7,111.8 L402.3,104.6 L405.9,104.9 L409.5,100.6 L413.1,95.6 L416.8,96.3 L420.4,101.1 L424.0,98.0 L427.6,93.3 L431.2,83.6 L434.9,85.4 L438.5,80.5 L442.1,76.3 L445.7,90.3 L449.3,91.1 L453.0,92.5 L456.6,86.7 L460.2,85.4 L463.8,77.4 L467.4,74.1 L471.1,70.1 L474.7,62.8 L478.3,59.8 L481.9,60.1 L485.5,70.5 L489.2,59.2 L492.8,62.3 L496.4,48.3 L500.0,43.8 L503.6,35.3 L507.3,43.5 L510.9,35.4 L514.5,44.6 L518.1,47.8 L521.7,43.0 L525.4,42.3 L529.0,33.5 L532.6,36.0 L536.2,24.3 L539.8,32.9 L543.5,25.6 L547.1,19.0 L550.7,22.0 L554.3,17.6 L557.9,14.8 L561.6,13.6 L565.2,7.8" fill="none" stroke="#000" stroke-width="0.7" stroke-linejoin="round" stroke-linecap="round" opacity="0.9"/>
<path d="M333.5,154.2 L337.1,157.7 L340.7,152.1 L344.4,153.5 L348.0,146.9 L351.6,143.8 L355.2,147.0 L358.8,142.0 L362.5,141.0 L366.1,136.2 L369.7,137.2 L373.3,131.6 L376.9,127.2 L380.6,140.8 L384.2,136.1 L387.8,128.7 L391.4,130.7 L395.0,121.2 L398.7,113.7 L402.3,105.7 L405.9,103.7 L409.5,99.8 L413.1,95.2 L416.8,93.4 L420.4,96.8 L424.0,101.6 L427.6,93.8 L431.2,87.1 L434.9,82.0 L438.5,81.4 L442.1,78.9 L445.7,83.5 L449.3,92.7 L453.0,97.2 L456.6,94.9 L460.2,83.7 L463.8,79.6 L467.4,74.8 L471.1,77.6 L474.7,71.3 L478.3,66.0 L481.9,66.6 L485.5,74.3 L489.2,64.2 L492.8,60.7 L496.4,47.8 L500.0,36.7 L503.6,33.4 L507.3,37.0 L510.9,46.0 L514.5,45.1 L518.1,49.2 L521.7,46.2 L525.4,36.9 L529.0,35.2 L532.6,33.5 L536.2,32.9 L539.8,28.0 L543.5,25.8 L547.1,23.8 L550.7,16.1 L554.3,21.7 L557.9,20.1 L561.6,11.8 L565.2,13.2" fill="none" stroke="#000" stroke-width="0.7" stroke-linejoin="round" stroke-linecap="round" opacity="0.9"/>
<path d="M333.5,158.8 L337.1,157.2 L340.7,152.8 L344.4,148.8 L348.0,155.4 L351.6,148.1 L355.2,148.0 L358.8,141.9 L362.5,140.8 L366.1,139.3 L369.7,136.0 L373.3,131.3 L376.9,127.7 L380.6,138.4 L384.2,138.8 L387.8,131.0 L391.4,128.9 L395.0,116.1 L398.7,110.2 L402.3,105.7 L405.9,105.7 L409.5,100.4 L413.1,101.1 L416.8,90.7 L420.4,103.6 L424.0,100.2 L427.6,93.4 L431.2,86.9 L434.9,85.5 L438.5,81.7 L442.1,77.8 L445.7,80.3 L449.3,91.2 L453.0,94.1 L456.6,88.6 L460.2,82.8 L463.8,84.0 L467.4,74.9 L471.1,69.0 L474.7,67.9 L478.3,60.0 L481.9,63.7 L485.5,71.1 L489.2,66.2 L492.8,58.3 L496.4,45.4 L500.0,35.9 L503.6,32.2 L507.3,40.6 L510.9,42.9 L514.5,44.3 L518.1,49.9 L521.7,44.5 L525.4,32.7 L529.0,36.2 L532.6,35.2 L536.2,26.9 L539.8,21.3 L543.5,28.5 L547.1,21.6 L550.7,25.3 L554.3,20.8 L557.9,9.3 L561.6,11.5 L565.2,11.2" fill="none" stroke="#000" stroke-width="0.7" stroke-linejoin="round" stroke-linecap="round" opacity="0.9"/>
<path d="M333.5,155.7 L337.1,154.4 L340.7,151.8 L344.4,152.5 L348.0,150.8 L351.6,148.5 L355.2,145.0 L358.8,137.9 L362.5,143.5 L366.1,135.9 L369.7,139.8 L373.3,138.4 L376.9,131.6 L380.6,137.7 L384.2,141.6 L387.8,137.2 L391.4,122.2 L395.0,121.7 L398.7,117.8 L402.3,108.6 L405.9,102.2 L409.5,91.3 L413.1,96.9 L416.8,93.1 L420.4,99.0 L424.0,96.6 L427.6,93.9 L431.2,83.3 L434.9,84.4 L438.5,84.1 L442.1,79.4 L445.7,89.0 L449.3,94.6 L453.0,99.3 L456.6,87.6 L460.2,85.1 L463.8,74.7 L467.4,74.4 L471.1,61.1 L474.7,72.9 L478.3,61.6 L481.9,63.5 L485.5,70.4 L489.2,70.6 L492.8,50.3 L496.4,55.7 L500.0,35.5 L503.6,32.1 L507.3,33.4 L510.9,42.2 L514.5,45.5 L518.1,42.8 L521.7,36.9 L525.4,37.8 L529.0,33.8 L532.6,32.2 L536.2,34.6 L539.8,28.8 L543.5,30.0 L547.1,30.9 L550.7,25.4 L554.3,14.1 L557.9,15.1 L561.6,11.3 L565.2,4.6" fill="none" stroke="#000" stroke-width="0.7" stroke-linejoin="round" stroke-linecap="round" opacity="0.9"/>
<path d="M333.5,158.6 L337.1,157.3 L340.7,156.5 L344.4,154.5 L348.0,148.6 L351.6,150.7 L355.2,144.2 L358.8,146.7 L362.5,141.9 L366.1,143.0 L369.7,138.6 L373.3,131.7 L376.9,127.6 L380.6,141.0 L384.2,139.8 L387.8,133.1 L391.4,129.8 L395.0,121.8 L398.7,114.3 L402.3,110.2 L405.9,106.4 L409.5,98.9 L413.1,97.8 L416.8,95.8 L420.4,99.7 L424.0,103.9 L427.6,100.7 L431.2,86.4 L434.9,82.7 L438.5,84.9 L442.1,83.8 L445.7,90.9 L449.3,90.1 L453.0,101.5 L456.6,93.6 L460.2,85.1 L463.8,84.8 L467.4,72.2 L471.1,72.1 L474.7,68.6 L478.3,64.0 L481.9,68.3 L485.5,77.9 L489.2,68.6 L492.8,56.1 L496.4,51.2 L500.0,51.1 L503.6,41.7 L507.3,35.9 L510.9,38.4 L514.5,45.2 L518.1,52.2 L521.7,39.0 L525.4,29.8 L529.0,40.1 L532.6,36.1 L536.2,29.8 L539.8,29.5 L543.5,27.8 L547.1,19.9 L550.7,25.9 L554.3,23.5 L557.9,16.7 L561.6,15.9 L565.2,22.3" fill="none" stroke="#000" stroke-width="0.7" stroke-linejoin="round" stroke-linecap="round" opacity="0.9"/>
<path d="M333.5,156.1 L337.1,156.4 L340.7,153.5 L344.4,153.4 L348.0,153.9 L351.6,149.9 L355.2,143.5 L358.8,142.0 L362.5,143.5 L366.1,142.9 L369.7,134.9 L373.3,136.5 L376.9,125.8 L380.6,140.0 L384.2,136.9 L387.8,130.6 L391.4,126.6 L395.0,113.1 L398.7,112.4 L402.3,108.3 L405.9,104.6 L409.5,98.8 L413.1,99.7 L416.8,94.7 L420.4,95.3 L424.0,103.5 L427.6,94.0 L431.2,83.7 L434.9,84.8 L438.5,75.6 L442.1,86.0 L445.7,89.6 L449.3,95.5 L453.0,100.0 L456.6,91.4 L460.2,82.1 L463.8,84.9 L467.4,71.7 L471.1,69.0 L474.7,64.5 L478.3,61.3 L481.9,71.4 L485.5,69.4 L489.2,69.5 L492.8,59.4 L496.4,48.2 L500.0,43.8 L503.6,39.2 L507.3,34.6 L510.9,42.4 L514.5,36.7 L518.1,43.1 L521.7,41.7 L525.4,36.6 L529.0,34.9 L532.6,35.3 L536.2,30.4 L539.8,22.0 L543.5,28.0 L547.1,32.0 L550.7,27.6 L554.3,25.8 L557.9,16.5 L561.6,19.4 L565.2,11.0" fill="none" stroke="#000" stroke-width="0.7" stroke-linejoin="round" stroke-linecap="round" opacity="0.9"/>
<path d="M333.5,156.6 L337.1,159.0 L340.7,154.2 L344.4,154.8 L348.0,151.2 L351.6,148.0 L355.2,146.1 L358.8,145.6 L362.5,137.1 L366.1,138.0 L369.7,136.1 L373.3,131.6 L376.9,132.0 L380.6,135.5 L384.2,140.6 L387.8,136.6 L391.4,134.4 L395.0,112.3 L398.7,116.3 L402.3,108.2 L405.9,101.2 L409.5,101.5 L413.1,91.9 L416.8,91.8 L420.4,101.1 L424.0,101.0 L427.6,97.6 L431.2,89.8 L434.9,84.1 L438.5,82.6 L442.1,79.0 L445.7,86.2 L449.3,94.6 L453.0,100.9 L456.6,98.1 L460.2,82.3 L463.8,81.8 L467.4,70.8 L471.1,68.6 L474.7,66.0 L478.3,63.9 L481.9,63.0 L485.5,76.2 L489.2,72.9 L492.8,59.8 L496.4,47.5 L500.0,37.1 L503.6,44.3 L507.3,40.1 L510.9,36.9 L514.5,44.9 L518.1,47.3 L521.7,38.8 L525.4,31.5 L529.0,35.4 L532.6,34.0 L536.2,26.4 L539.8,25.8 L543.5,33.0 L547.1,21.3 L550.7,15.1 L554.3,16.2 L557.9,20.1 L561.6,17.1 L565.2,9.5" fill="none" stroke="#000" stroke-width="0.7" stroke-linejoin="round" stroke-linecap="round" opacity="0.9"/>
<path d="M333.5,156.8 L337.1,152.6 L340.7,153.7 L344.4,152.9 L348.0,146.1 L351.6,146.1 L355.2,143.6 L358.8,141.0 L362.5,137.6 L366.1,136.9 L369.7,134.3 L373.3,127.4 L376.9,130.4 L380.6,133.6 L384.2,134.1 L387.8,131.0 L391.4,127.7 L395.0,114.4 L398.7,109.8 L402.3,98.8 L405.9,98.6 L409.5,98.3 L413.1,91.7 L416.8,91.3 L420.4,92.5 L424.0,95.8 L427.6,95.2 L431.2,84.2 L434.9,79.7 L438.5,73.7 L442.1,78.6 L445.7,87.4 L449.3,88.5 L453.0,99.0 L456.6,93.2 L460.2,75.5 L463.8,71.8 L467.4,70.7 L471.1,65.3 L474.7,61.1 L478.3,63.6 L481.9,63.3 L485.5,64.4 L489.2,56.6 L492.8,57.7 L496.4,38.8 L500.0,34.5 L503.6,35.3 L507.3,41.2 L510.9,31.9 L514.5,42.6 L518.1,41.5 L521.7,40.8 L525.4,41.8 L529.0,30.9 L532.6,25.0 L536.2,23.6 L539.8,25.8 L543.5,16.2 L547.1,18.6 L550.7,15.9 L554.3,7.2 L557.9,16.1 L561.6,14.1 L565.2,6.3" fill="none" stroke="#000" stroke-width="0.7" stroke-linejoin="round" stroke-linecap="round" opacity="0.9"/>
<path d="M333.5,156.8 L337.1,163.8 L340.7,155.8 L344.4,156.3 L348.0,149.6 L351.6,147.9 L355.2,142.0 L358.8,144.8 L362.5,144.7 L366.1,142.5 L369.7,139.9 L373.3,134.4 L376.9,135.2 L380.6,140.0 L384.2,138.4 L387.8,138.1 L391.4,126.8 L395.0,114.1 L398.7,113.0 L402.3,115.4 L405.9,111.4 L409.5,97.9 L413.1,96.9 L416.8,101.3 L420.4,96.6 L424.0,107.0 L427.6,91.0 L431.2,89.5 L434.9,89.3 L438.5,81.4 L442.1,78.6 L445.7,88.6 L449.3,95.6 L453.0,95.6 L456.6,98.7 L460.2,83.8 L463.8,76.3 L467.4,72.3 L471.1,75.9 L474.7,67.1 L478.3,74.6 L481.9,65.6 L485.5,79.1 L489.2,69.0 L492.8,60.4 L496.4,54.7 L500.0,45.9 L503.6,42.3 L507.3,39.7 L510.9,44.6 L514.5,52.1 L518.1,56.5 L521.7,41.0 L525.4,35.5 L529.0,26.9 L532.6,37.8 L536.2,38.3 L539.8,35.7 L543.5,28.2 L547.1,25.0 L550.7,15.8 L554.3,24.3 L557.9,16.6 L561.6,19.1 L565.2,23.2" fill="none" stroke="#000" stroke-width="0.7" stroke-linejoin="round" stroke-linecap="round" opacity="0.9"/>
<path d="M333.5,157.5 L337.1,154.5 L340.7,146.3 L344.4,152.6 L348.0,150.6 L351.6,142.1 L355.2,143.1 L358.8,145.8 L362.5,141.6 L366.1,138.8 L369.7,135.6 L373.3,133.0 L376.9,128.3 L380.6,139.5 L384.2,134.4 L387.8,131.1 L391.4,126.0 L395.0,113.7 L398.7,109.5 L402.3,104.9 L405.9,103.0 L409.5,99.0 L413.1,96.6 L416.8,95.9 L420.4,95.6 L424.0,103.2 L427.6,91.8 L431.2,84.5 L434.9,85.0 L438.5,79.8 L442.1,75.4 L445.7,89.1 L449.3,93.3 L453.0,96.6 L456.6,94.7 L460.2,87.5 L463.8,80.0 L467.4,72.5 L471.1,66.9 L474.7,62.9 L478.3,66.0 L481.9,69.5 L485.5,68.7 L489.2,65.9 L492.8,61.5 L496.4,46.3 L500.0,42.6 L503.6,35.8 L507.3,42.7 L510.9,46.6 L514.5,47.4 L518.1,48.4 L521.7,37.1 L525.4,36.5 L529.0,33.5 L532.6,33.4 L536.2,26.7 L539.8,25.3 L543.5,33.4 L547.1,22.4 L550.7,17.9 L554.3,19.6 L557.9,17.4 L561.6,13.2 L565.2,15.6" fill="none" stroke="#000" stroke-width="0.7" stroke-linejoin="round" stroke-linecap="round" opacity="0.9"/>
<path d="M333.5,162.2 L337.1,154.2 L340.7,153.2 L344.4,153.7 L348.0,149.9 L351.6,145.1 L355.2,143.5 L358.8,140.3 L362.5,139.6 L366.1,140.5 L369.7,139.1 L373.3,134.0 L376.9,124.7 L380.6,136.7 L384.2,137.8 L387.8,135.8 L391.4,128.6 L395.0,116.7 L398.7,108.3 L402.3,103.7 L405.9,103.6 L409.5,97.0 L413.1,91.9 L416.8,95.4 L420.4,97.2 L424.0,98.6 L427.6,93.6 L431.2,90.4 L434.9,76.3 L438.5,79.9 L442.1,81.1 L445.7,87.7 L449.3,94.1 L453.0,89.4 L456.6,90.2 L460.2,82.1 L463.8,76.9 L467.4,76.9 L471.1,70.4 L474.7,72.3 L478.3,61.6 L481.9,66.1 L485.5,74.5 L489.2,71.8 L492.8,65.8 L496.4,51.4 L500.0,44.2 L503.6,27.3 L507.3,40.1 L510.9,47.5 L514.5,44.9 L518.1,47.2 L521.7,40.9 L525.4,35.3 L529.0,37.7 L532.6,37.0 L536.2,39.3 L539.8,29.2 L543.5,28.4 L547.1,20.0 L550.7,27.9 L554.3,23.4 L557.9,18.6 L561.6,10.0 L565.2,11.5" fill="none" stroke="#000" stroke-width="0.7" stroke-linejoin="round" stroke-linecap="round" opacity="0.9"/>
<path d="M333.5,147.9 L337.1,162.4 L340.7,155.7 L344.4,152.0 L348.0,149.4 L351.6,149.7 L355.2,149.0 L358.8,144.3 L362.5,142.0 L366.1,142.1 L369.7,139.7 L373.3,137.8 L376.9,130.8 L380.6,143.0 L384.2,140.0 L387.8,134.0 L391.4,131.3 L395.0,117.5 L398.7,114.6 L402.3,104.9 L405.9,106.2 L409.5,101.1 L413.1,97.2 L416.8,98.2 L420.4,96.1 L424.0,105.7 L427.6,91.3 L431.2,88.3 L434.9,89.7 L438.5,74.1 L442.1,82.7 L445.7,87.7 L449.3,90.3 L453.0,97.0 L456.6,90.8 L460.2,82.1 L463.8,84.3 L467.4,80.6 L471.1,69.1 L474.7,67.5 L478.3,67.9 L481.9,66.7 L485.5,75.7 L489.2,71.1 L492.8,63.6 L496.4,50.8 L500.0,43.0 L503.6,36.4 L507.3,42.3 L510.9,46.2 L514.5,47.6 L518.1,50.4 L521.7,49.6 L525.4,38.7 L529.0,43.1 L532.6,30.0 L536.2,37.6 L539.8,31.9 L543.5,35.6 L547.1,27.3 L550.7,25.7 L554.3,25.6 L557.9,15.0 L561.6,19.0 L565.2,19.1" fill="none" stroke="#000" stroke-width="0.7" stroke-linejoin="round" stroke-linecap="round" opacity="0.9"/>
<path d="M333.5,112.7 L337.1,112.4 L340.7,111.7 L344.4,111.1 L348.0,110.4 L351.6,109.9 L355.2,109.3 L358.8,108.8 L362.5,108.3 L366.1,107.7 L369.7,107.2 L373.3,107.7 L376.9,108.4 L380.6,109.1 L384.2,106.3 L387.8,102.4 L391.4,99.5 L395.0,98.2 L398.7,97.0 L402.3,95.7 L405.9,94.5 L409.5,92.5 L413.1,89.9 L416.8,88.0 L420.4,90.6 L424.0,93.2 L427.6,91.1 L431.2,87.2 L434.9,83.3 L438.5,83.5 L442.1,84.7 L445.7,85.9 L449.3,91.0 L453.0,90.8 L456.6,88.6 L460.2,85.3 L463.8,82.1 L467.4,80.2 L471.1,79.0 L474.7,78.8 L478.3,79.6 L481.9,81.5 L485.5,84.4 L489.2,81.2 L492.8,76.5 L496.4,71.9 L500.0,67.2 L503.6,64.4 L507.3,66.2 L510.9,68.1 L514.5,69.9 L518.1,69.0 L521.7,67.6 L525.4,66.1 L529.0,64.7 L532.6,63.2 L536.2,61.8 L539.8,60.3 L543.5,59.1 L547.1,57.8 L550.7,56.5 L554.3,55.3 L557.9,54.0 L561.6,52.7 L565.2,51.5" fill="none" stroke="#e3202b" stroke-width="2.0" stroke-linejoin="round" stroke-linecap="round" opacity="1.0"/>
<path d="M333.5,113.0 L337.1,113.1 L340.7,114.9 L344.4,111.6 L348.0,110.3 L351.6,111.3 L355.2,112.3 L358.8,111.4 L362.5,108.6 L366.1,109.4 L369.7,110.0 L373.3,107.6 L376.9,107.3 L380.6,112.0 L384.2,107.7 L387.8,103.9 L391.4,104.1 L395.0,99.0 L398.7,99.6 L402.3,100.3 L405.9,99.8 L409.5,92.1 L413.1,90.8 L416.8,92.0 L420.4,85.4 L424.0,91.8 L427.6,94.5 L431.2,89.0 L434.9,82.0 L438.5,86.7 L442.1,86.9 L445.7,86.5 L449.3,94.2 L453.0,92.1 L456.6,93.0 L460.2,88.5 L463.8,82.4 L467.4,84.7 L471.1,78.6 L474.7,85.1 L478.3,82.9 L481.9,83.6 L485.5,85.9 L489.2,81.1 L492.8,81.1 L496.4,76.3 L500.0,67.3 L503.6,67.0 L507.3,71.8 L510.9,70.9 L514.5,73.0 L518.1,77.1 L521.7,70.4 L525.4,68.6 L529.0,69.0 L532.6,62.1 L536.2,70.4 L539.8,62.1 L543.5,61.2 L547.1,58.6 L550.7,58.2 L554.3,58.0 L557.9,53.6 L561.6,49.2 L565.2,56.7" fill="none" stroke="#e3202b" stroke-width="0.7" stroke-linejoin="round" stroke-linecap="round" opacity="0.9"/>
<path d="M333.5,110.2 L337.1,111.8 L340.7,111.8 L344.4,108.8 L348.0,108.4 L351.6,107.4 L355.2,106.0 L358.8,107.7 L362.5,106.3 L366.1,104.0 L369.7,106.5 L373.3,105.0 L376.9,107.7 L380.6,107.9 L384.2,105.8 L387.8,100.6 L391.4,93.9 L395.0,96.8 L398.7,95.4 L402.3,88.2 L405.9,91.3 L409.5,88.2 L413.1,86.3 L416.8,85.2 L420.4,90.7 L424.0,90.2 L427.6,89.3 L431.2,83.9 L434.9,79.0 L438.5,79.5 L442.1,83.3 L445.7,82.2 L449.3,85.5 L453.0,88.7 L456.6,86.1 L460.2,81.5 L463.8,76.8 L467.4,77.3 L471.1,76.0 L474.7,74.1 L478.3,76.2 L481.9,82.1 L485.5,84.9 L489.2,78.0 L492.8,77.2 L496.4,73.2 L500.0,64.6 L503.6,58.9 L507.3,67.1 L510.9,64.8 L514.5,64.7 L518.1,68.0 L521.7,60.5 L525.4,62.8 L529.0,63.8 L532.6,61.2 L536.2,60.6 L539.8,58.0 L543.5,54.4 L547.1,52.5 L550.7,52.6 L554.3,50.2 L557.9,50.7 L561.6,48.1 L565.2,47.5" fill="none" stroke="#e3202b" stroke-width="0.7" stroke-linejoin="round" stroke-linecap="round" opacity="0.9"/>
<path d="M333.5,110.2 L337.1,113.1 L340.7,111.6 L344.4,112.0 L348.0,111.1 L351.6,109.2 L355.2,110.5 L358.8,109.2 L362.5,107.7 L366.1,107.9 L369.7,109.2 L373.3,109.8 L376.9,108.0 L380.6,107.7 L384.2,105.8 L387.8,102.8 L391.4,101.4 L395.0,100.1 L398.7,98.1 L402.3,96.8 L405.9,92.8 L409.5,89.6 L413.1,89.5 L416.8,88.9 L420.4,92.8 L424.0,93.5 L427.6,93.6 L431.2,86.7 L434.9,81.7 L438.5,82.6 L442.1,84.8 L445.7,85.1 L449.3,91.5 L453.0,92.7 L456.6,89.4 L460.2,84.9 L463.8,82.6 L467.4,82.4 L471.1,82.3 L474.7,81.3 L478.3,82.0 L481.9,81.7 L485.5,82.7 L489.2,79.5 L492.8,80.1 L496.4,70.2 L500.0,68.6 L503.6,61.5 L507.3,66.8 L510.9,68.9 L514.5,69.0 L518.1,69.0 L521.7,65.2 L525.4,62.7 L529.0,61.8 L532.6,59.3 L536.2,64.1 L539.8,57.3 L543.5,61.2 L547.1,58.8 L550.7,55.6 L554.3,56.1 L557.9,51.6 L561.6,54.2 L565.2,56.1" fill="none" stroke="#e3202b" stroke-width="0.7" stroke-linejoin="round" stroke-linecap="round" opacity="0.9"/>
<path d="M333.5,113.0 L337.1,113.3 L340.7,111.0 L344.4,109.4 L348.0,109.9 L351.6,110.6 L355.2,109.4 L358.8,108.4 L362.5,107.0 L366.1,107.9 L369.7,103.3 L373.3,107.4 L376.9,107.9 L380.6,108.4 L384.2,105.5 L387.8,100.2 L391.4,97.9 L395.0,100.3 L398.7,97.7 L402.3,95.6 L405.9,96.0 L409.5,91.1 L413.1,91.6 L416.8,88.4 L420.4,92.3 L424.0,92.4 L427.6,90.3 L431.2,86.8 L434.9,85.3 L438.5,84.2 L442.1,82.3 L445.7,86.6 L449.3,91.0 L453.0,90.3 L456.6,86.2 L460.2,85.1 L463.8,84.1 L467.4,79.3 L471.1,77.0 L474.7,79.0 L478.3,76.9 L481.9,81.6 L485.5,82.8 L489.2,79.4 L492.8,76.0 L496.4,69.3 L500.0,66.3 L503.6,66.1 L507.3,71.2 L510.9,67.7 L514.5,66.1 L518.1,66.6 L521.7,67.1 L525.4,71.1 L529.0,65.0 L532.6,62.5 L536.2,61.0 L539.8,60.7 L543.5,60.1 L547.1,59.4 L550.7,58.8 L554.3,51.9 L557.9,54.6 L561.6,56.0 L565.2,48.5" fill="none" stroke="#e3202b" stroke-width="0.7" stroke-linejoin="round" stroke-linecap="round" opacity="0.9"/>
<path d="M333.5,113.2 L337.1,115.2 L340.7,113.0 L344.4,106.9 L348.0,112.2 L351.6,109.0 L355.2,110.9 L358.8,110.4 L362.5,107.5 L366.1,109.0 L369.7,105.7 L373.3,109.9 L376.9,109.1 L380.6,111.2 L384.2,107.9 L387.8,102.0 L391.4,102.1 L395.0,97.6 L398.7,101.7 L402.3,96.3 L405.9,95.3 L409.5,92.7 L413.1,92.0 L416.8,87.5 L420.4,90.3 L424.0,92.3 L427.6,92.9 L431.2,91.8 L434.9,83.2 L438.5,83.2 L442.1,87.3 L445.7,87.1 L449.3,92.0 L453.0,91.9 L456.6,93.8 L460.2,86.5 L463.8,80.6 L467.4,80.8 L471.1,79.2 L474.7,81.0 L478.3,83.2 L481.9,83.8 L485.5,82.4 L489.2,80.3 L492.8,77.7 L496.4,70.7 L500.0,68.2 L503.6,67.0 L507.3,65.9 L510.9,70.1 L514.5,73.2 L518.1,71.7 L521.7,65.9 L525.4,64.5 L529.0,65.4 L532.6,63.3 L536.2,61.4 L539.8,62.6 L543.5,61.2 L547.1,56.8 L550.7,53.8 L554.3,59.3 L557.9,55.5 L561.6,49.8 L565.2,53.7" fill="none" stroke="#e3202b" stroke-width="0.7" stroke-linejoin="round" stroke-linecap="round" opacity="0.9"/>
<path d="M333.5,112.7 L337.1,111.3 L340.7,112.9 L344.4,109.1 L348.0,107.7 L351.6,106.1 L355.2,107.0 L358.8,107.1 L362.5,106.1 L366.1,105.4 L369.7,106.7 L373.3,104.4 L376.9,106.3 L380.6,106.9 L384.2,105.7 L387.8,101.4 L391.4,99.3 L395.0,99.4 L398.7,95.0 L402.3,94.2 L405.9,92.5 L409.5,92.9 L413.1,92.5 L416.8,85.2 L420.4,92.2 L424.0,92.4 L427.6,89.6 L431.2,89.1 L434.9,81.6 L438.5,84.4 L442.1,84.1 L445.7,82.9 L449.3,88.6 L453.0,92.0 L456.6,88.5 L460.2,85.3 L463.8,80.7 L467.4,79.4 L471.1,78.6 L474.7,80.5 L478.3,79.0 L481.9,80.8 L485.5,86.5 L489.2,78.7 L492.8,74.3 L496.4,71.8 L500.0,70.0 L503.6,63.8 L507.3,66.5 L510.9,64.0 L514.5,69.8 L518.1,68.4 L521.7,66.2 L525.4,67.6 L529.0,65.2 L532.6,61.4 L536.2,62.0 L539.8,61.4 L543.5,56.5 L547.1,59.0 L550.7,61.1 L554.3,54.1 L557.9,53.6 L561.6,54.5 L565.2,48.8" fill="none" stroke="#e3202b" stroke-width="0.7" stroke-linejoin="round" stroke-linecap="round" opacity="0.9"/>
<path d="M333.5,114.0 L337.1,110.6 L340.7,110.4 L344.4,112.6 L348.0,109.5 L351.6,110.5 L355.2,109.1 L358.8,107.2 L362.5,107.3 L366.1,107.5 L369.7,106.9 L373.3,106.5 L376.9,105.9 L380.6,109.7 L384.2,106.0 L387.8,102.2 L391.4,100.6 L395.0,96.8 L398.7,95.5 L402.3,92.9 L405.9,92.5 L409.5,91.7 L413.1,91.6 L416.8,87.2 L420.4,89.8 L424.0,96.1 L427.6,87.6 L431.2,85.4 L434.9,85.5 L438.5,83.8 L442.1,85.1 L445.7,84.2 L449.3,95.7 L453.0,94.3 L456.6,84.6 L460.2,87.0 L463.8,84.1 L467.4,79.9 L471.1,79.1 L474.7,81.8 L478.3,76.5 L481.9,80.9 L485.5,85.4 L489.2,81.0 L492.8,74.5 L496.4,71.5 L500.0,71.1 L503.6,62.0 L507.3,66.1 L510.9,70.9 L514.5,71.4 L518.1,68.3 L521.7,64.6 L525.4,63.7 L529.0,63.9 L532.6,65.1 L536.2,64.8 L539.8,63.9 L543.5,54.4 L547.1,55.1 L550.7,57.2 L554.3,59.6 L557.9,50.5 L561.6,52.7 L565.2,55.6" fill="none" stroke="#e3202b" stroke-width="0.7" stroke-linejoin="round" stroke-linecap="round" opacity="0.9"/>
<path d="M333.5,110.9 L337.1,110.2 L340.7,111.0 L344.4,110.1 L348.0,107.8 L351.6,107.7 L355.2,110.7 L358.8,108.8 L362.5,109.8 L366.1,106.0 L369.7,105.2 L373.3,108.0 L376.9,107.2 L380.6,106.7 L384.2,107.3 L387.8,101.9 L391.4,102.1 L395.0,98.8 L398.7,97.2 L402.3,95.4 L405.9,93.1 L409.5,94.1 L413.1,89.7 L416.8,87.6 L420.4,89.4 L424.0,92.2 L427.6,91.1 L431.2,88.6 L434.9,82.7 L438.5,84.0 L442.1,85.6 L445.7,85.4 L449.3,93.3 L453.0,90.1 L456.6,88.6 L460.2,85.7 L463.8,81.4 L467.4,78.9 L471.1,79.0 L474.7,78.3 L478.3,78.9 L481.9,81.8 L485.5,82.3 L489.2,79.1 L492.8,76.4 L496.4,72.7 L500.0,70.5 L503.6,63.4 L507.3,65.4 L510.9,69.5 L514.5,69.2 L518.1,66.8 L521.7,66.6 L525.4,66.2 L529.0,59.4 L532.6,64.6 L536.2,57.5 L539.8,60.2 L543.5,57.7 L547.1,57.9 L550.7,56.4 L554.3,61.2 L557.9,47.4 L561.6,48.5 L565.2,56.0" fill="none" stroke="#e3202b" stroke-width="0.7" stroke-linejoin="round" stroke-linecap="round" opacity="0.9"/>
<path d="M333.5,114.4 L337.1,114.4 L340.7,113.2 L344.4,113.1 L348.0,115.8 L351.6,110.5 L355.2,111.5 L358.8,110.9 L362.5,109.9 L366.1,111.7 L369.7,110.8 L373.3,110.0 L376.9,113.0 L380.6,108.9 L384.2,107.4 L387.8,107.0 L391.4,99.7 L395.0,98.4 L398.7,99.8 L402.3,94.8 L405.9,95.1 L409.5,93.5 L413.1,97.1 L416.8,91.0 L420.4,94.7 L424.0,97.9 L427.6,92.0 L431.2,91.0 L434.9,84.4 L438.5,86.0 L442.1,85.4 L445.7,88.4 L449.3,92.4 L453.0,94.0 L456.6,88.5 L460.2,87.9 L463.8,85.8 L467.4,81.5 L471.1,82.5 L474.7,81.6 L478.3,81.4 L481.9,81.3 L485.5,84.0 L489.2,83.3 L492.8,82.2 L496.4,76.5 L500.0,70.8 L503.6,68.7 L507.3,64.4 L510.9,71.8 L514.5,74.7 L518.1,70.4 L521.7,70.6 L525.4,73.5 L529.0,69.6 L532.6,63.3 L536.2,62.7 L539.8,59.3 L543.5,64.9 L547.1,62.0 L550.7,58.7 L554.3,57.5 L557.9,58.0 L561.6,52.4 L565.2,57.5" fill="none" stroke="#e3202b" stroke-width="0.7" stroke-linejoin="round" stroke-linecap="round" opacity="0.9"/>
<path d="M333.5,110.3 L337.1,111.8 L340.7,108.2 L344.4,111.6 L348.0,108.6 L351.6,109.6 L355.2,106.5 L358.8,107.1 L362.5,106.6 L366.1,107.5 L369.7,108.5 L373.3,105.7 L376.9,108.4 L380.6,106.5 L384.2,105.0 L387.8,104.3 L391.4,97.1 L395.0,98.5 L398.7,94.0 L402.3,96.5 L405.9,91.4 L409.5,90.2 L413.1,81.9 L416.8,84.9 L420.4,85.1 L424.0,92.0 L427.6,90.4 L431.2,84.0 L434.9,80.8 L438.5,80.6 L442.1,82.0 L445.7,85.7 L449.3,88.7 L453.0,90.0 L456.6,85.1 L460.2,82.5 L463.8,79.7 L467.4,78.6 L471.1,74.9 L474.7,80.5 L478.3,84.5 L481.9,78.1 L485.5,85.2 L489.2,80.1 L492.8,71.2 L496.4,71.9 L500.0,66.9 L503.6,64.7 L507.3,63.6 L510.9,69.4 L514.5,72.3 L518.1,69.6 L521.7,65.1 L525.4,67.4 L529.0,61.8 L532.6,57.6 L536.2,58.3 L539.8,58.2 L543.5,53.6 L547.1,52.7 L550.7,55.2 L554.3,56.2 L557.9,51.6 L561.6,50.6 L565.2,50.7" fill="none" stroke="#e3202b" stroke-width="0.7" stroke-linejoin="round" stroke-linecap="round" opacity="0.9"/>
<path d="M333.5,113.9 L337.1,113.9 L340.7,113.1 L344.4,111.4 L348.0,109.5 L351.6,108.5 L355.2,111.3 L358.8,109.4 L362.5,108.8 L366.1,109.2 L369.7,103.5 L373.3,110.5 L376.9,111.9 L380.6,111.9 L384.2,109.0 L387.8,106.9 L391.4,99.9 L395.0,97.5 L398.7,97.7 L402.3,100.6 L405.9,96.9 L409.5,92.1 L413.1,93.9 L416.8,88.3 L420.4,92.4 L424.0,96.2 L427.6,95.5 L431.2,87.9 L434.9,89.0 L438.5,85.0 L442.1,87.2 L445.7,88.8 L449.3,86.7 L453.0,89.5 L456.6,86.7 L460.2,86.5 L463.8,82.8 L467.4,80.1 L471.1,78.9 L474.7,77.8 L478.3,78.0 L481.9,82.5 L485.5,90.4 L489.2,83.5 L492.8,79.9 L496.4,72.6 L500.0,70.0 L503.6,66.8 L507.3,70.3 L510.9,70.7 L514.5,68.7 L518.1,71.2 L521.7,67.7 L525.4,65.4 L529.0,66.7 L532.6,65.5 L536.2,64.7 L539.8,65.3 L543.5,58.4 L547.1,56.7 L550.7,59.7 L554.3,59.8 L557.9,59.0 L561.6,52.9 L565.2,51.5" fill="none" stroke="#e3202b" stroke-width="0.7" stroke-linejoin="round" stroke-linecap="round" opacity="0.9"/>
<path d="M333.5,113.2 L337.1,113.0 L340.7,110.9 L344.4,113.1 L348.0,113.1 L351.6,111.5 L355.2,113.8 L358.8,109.9 L362.5,109.3 L366.1,107.7 L369.7,107.1 L373.3,111.2 L376.9,110.1 L380.6,108.3 L384.2,108.6 L387.8,104.4 L391.4,96.9 L395.0,99.3 L398.7,97.2 L402.3,94.8 L405.9,97.8 L409.5,92.3 L413.1,92.6 L416.8,90.2 L420.4,92.2 L424.0,97.9 L427.6,91.0 L431.2,88.5 L434.9,84.6 L438.5,83.8 L442.1,83.5 L445.7,88.4 L449.3,93.4 L453.0,87.7 L456.6,89.3 L460.2,85.9 L463.8,86.2 L467.4,76.2 L471.1,79.3 L474.7,85.1 L478.3,82.0 L481.9,78.3 L485.5,84.4 L489.2,79.4 L492.8,78.4 L496.4,70.8 L500.0,72.0 L503.6,62.8 L507.3,71.9 L510.9,69.1 L514.5,74.9 L518.1,75.9 L521.7,68.3 L525.4,67.5 L529.0,66.0 L532.6,65.7 L536.2,63.7 L539.8,60.8 L543.5,61.0 L547.1,59.2 L550.7,54.2 L554.3,56.3 L557.9,55.1 L561.6,56.8 L565.2,55.1" fill="none" stroke="#e3202b" stroke-width="0.7" stroke-linejoin="round" stroke-linecap="round" opacity="0.9"/>
<path d="M333.5,111.2 L337.1,113.3 L340.7,109.2 L344.4,110.7 L348.0,110.9 L351.6,109.2 L355.2,106.6 L358.8,110.4 L362.5,108.7 L366.1,106.6 L369.7,109.8 L373.3,109.2 L376.9,107.9 L380.6,110.5 L384.2,107.3 L387.8,99.9 L391.4,96.3 L395.0,98.5 L398.7,98.1 L402.3,95.3 L405.9,96.1 L409.5,90.2 L413.1,92.2 L416.8,86.9 L420.4,89.6 L424.0,93.1 L427.6,90.4 L431.2,88.7 L434.9,84.4 L438.5,85.6 L442.1,86.7 L445.7,82.9 L449.3,91.8 L453.0,90.8 L456.6,88.3 L460.2,86.3 L463.8,82.0 L467.4,82.2 L471.1,80.6 L474.7,80.9 L478.3,78.1 L481.9,80.2 L485.5,82.9 L489.2,84.0 L492.8,74.8 L496.4,69.7 L500.0,65.4 L503.6,62.0 L507.3,66.6 L510.9,66.3 L514.5,69.3 L518.1,67.4 L521.7,66.1 L525.4,67.2 L529.0,66.4 L532.6,62.8 L536.2,60.9 L539.8,58.8 L543.5,56.0 L547.1,58.8 L550.7,59.0 L554.3,53.8 L557.9,58.0 L561.6,51.5 L565.2,50.7" fill="none" stroke="#e3202b" stroke-width="0.7" stroke-linejoin="round" stroke-linecap="round" opacity="0.9"/>
<path d="M333.5,110.0 L337.1,110.0 L340.7,111.2 L344.4,109.8 L348.0,109.1 L351.6,109.2 L355.2,110.8 L358.8,108.4 L362.5,108.6 L366.1,107.3 L369.7,107.3 L373.3,105.6 L376.9,106.6 L380.6,110.4 L384.2,109.0 L387.8,100.7 L391.4,98.9 L395.0,97.7 L398.7,97.4 L402.3,92.1 L405.9,92.5 L409.5,93.0 L413.1,89.1 L416.8,87.1 L420.4,91.1 L424.0,91.2 L427.6,92.6 L431.2,90.6 L434.9,82.8 L438.5,82.8 L442.1,85.3 L445.7,86.2 L449.3,90.4 L453.0,87.0 L456.6,89.5 L460.2,85.0 L463.8,80.7 L467.4,77.0 L471.1,82.2 L474.7,78.3 L478.3,77.2 L481.9,78.3 L485.5,84.6 L489.2,81.5 L492.8,79.8 L496.4,72.6 L500.0,68.5 L503.6,68.4 L507.3,65.9 L510.9,68.3 L514.5,73.4 L518.1,68.9 L521.7,66.8 L525.4,66.7 L529.0,64.1 L532.6,62.8 L536.2,60.9 L539.8,61.2 L543.5,63.5 L547.1,58.3 L550.7,58.2 L554.3,56.6 L557.9,51.7 L561.6,53.4 L565.2,53.1" fill="none" stroke="#e3202b" stroke-width="0.7" stroke-linejoin="round" stroke-linecap="round" opacity="0.9"/>
<path d="M333.5,111.8 L337.1,109.4 L340.7,111.3 L344.4,110.0 L348.0,109.6 L351.6,110.3 L355.2,107.8 L358.8,109.2 L362.5,106.5 L366.1,106.0 L369.7,104.9 L373.3,104.9 L376.9,105.9 L380.6,108.0 L384.2,102.1 L387.8,102.0 L391.4,94.3 L395.0,94.0 L398.7,93.5 L402.3,92.1 L405.9,92.9 L409.5,90.2 L413.1,88.7 L416.8,88.6 L420.4,88.0 L424.0,90.6 L427.6,86.8 L431.2,87.5 L434.9,82.3 L438.5,83.6 L442.1,82.5 L445.7,80.7 L449.3,91.4 L453.0,91.0 L456.6,84.9 L460.2,83.1 L463.8,78.8 L467.4,82.5 L471.1,77.5 L474.7,76.3 L478.3,75.2 L481.9,81.9 L485.5,84.7 L489.2,79.3 L492.8,72.8 L496.4,71.4 L500.0,62.2 L503.6,63.4 L507.3,63.0 L510.9,65.2 L514.5,67.5 L518.1,67.4 L521.7,66.6 L525.4,60.0 L529.0,62.9 L532.6,60.9 L536.2,58.5 L539.8,59.1 L543.5,53.5 L547.1,54.3 L550.7,51.6 L554.3,50.7 L557.9,51.4 L561.6,50.3 L565.2,45.8" fill="none" stroke="#e3202b" stroke-width="0.7" stroke-linejoin="round" stroke-linecap="round" opacity="0.9"/>
<path d="M333.5,113.3 L337.1,112.8 L340.7,114.3 L344.4,110.9 L348.0,113.7 L351.6,111.0 L355.2,111.2 L358.8,109.9 L362.5,108.7 L366.1,105.1 L369.7,111.0 L373.3,105.7 L376.9,107.4 L380.6,110.4 L384.2,107.1 L387.8,101.6 L391.4,98.5 L395.0,101.9 L398.7,99.3 L402.3,98.5 L405.9,96.7 L409.5,94.9 L413.1,92.3 L416.8,88.5 L420.4,91.3 L424.0,95.4 L427.6,93.4 L431.2,92.6 L434.9,84.6 L438.5,85.2 L442.1,85.4 L445.7,86.4 L449.3,89.3 L453.0,91.4 L456.6,88.7 L460.2,85.5 L463.8,83.7 L467.4,82.6 L471.1,79.0 L474.7,80.4 L478.3,83.8 L481.9,82.2 L485.5,85.4 L489.2,83.7 L492.8,77.6 L496.4,70.4 L500.0,73.1 L503.6,67.3 L507.3,68.5 L510.9,67.1 L514.5,70.5 L518.1,75.4 L521.7,69.7 L525.4,69.1 L529.0,62.3 L532.6,61.7 L536.2,66.0 L539.8,65.1 L543.5,64.0 L547.1,63.7 L550.7,62.7 L554.3,55.3 L557.9,60.9 L561.6,55.2 L565.2,51.6" fill="none" stroke="#e3202b" stroke-width="0.7" stroke-linejoin="round" stroke-linecap="round" opacity="0.9"/>
<path d="M333.5,113.5 L337.1,114.4 L340.7,114.9 L344.4,112.3 L348.0,109.5 L351.6,112.0 L355.2,107.5 L358.8,110.0 L362.5,110.7 L366.1,109.7 L369.7,108.0 L373.3,112.2 L376.9,109.8 L380.6,108.9 L384.2,106.6 L387.8,104.0 L391.4,100.4 L395.0,98.1 L398.7,96.6 L402.3,96.8 L405.9,96.5 L409.5,94.1 L413.1,92.7 L416.8,87.0 L420.4,88.8 L424.0,94.9 L427.6,96.0 L431.2,90.3 L434.9,84.0 L438.5,86.4 L442.1,86.7 L445.7,89.0 L449.3,93.5 L453.0,91.4 L456.6,92.4 L460.2,85.0 L463.8,83.9 L467.4,79.2 L471.1,76.3 L474.7,80.0 L478.3,81.0 L481.9,79.0 L485.5,84.9 L489.2,87.3 L492.8,77.8 L496.4,74.8 L500.0,66.2 L503.6,64.6 L507.3,70.2 L510.9,70.0 L514.5,71.4 L518.1,69.7 L521.7,72.5 L525.4,66.0 L529.0,68.4 L532.6,62.0 L536.2,62.6 L539.8,58.6 L543.5,58.6 L547.1,60.9 L550.7,61.4 L554.3,57.7 L557.9,57.7 L561.6,57.0 L565.2,59.6" fill="none" stroke="#e3202b" stroke-width="0.7" stroke-linejoin="round" stroke-linecap="round" opacity="0.9"/>
<path d="M333.5,112.6 L337.1,112.8 L340.7,109.8 L344.4,111.8 L348.0,107.4 L351.6,110.9 L355.2,108.3 L358.8,109.3 L362.5,110.0 L366.1,107.7 L369.7,108.5 L373.3,109.9 L376.9,108.5 L380.6,110.1 L384.2,107.4 L387.8,101.4 L391.4,100.0 L395.0,99.5 L398.7,98.7 L402.3,94.8 L405.9,94.3 L409.5,92.7 L413.1,94.2 L416.8,86.4 L420.4,89.5 L424.0,94.2 L427.6,92.7 L431.2,85.4 L434.9,82.9 L438.5,87.9 L442.1,86.3 L445.7,85.4 L449.3,90.8 L453.0,91.1 L456.6,90.3 L460.2,86.6 L463.8,81.3 L467.4,81.9 L471.1,76.3 L474.7,78.5 L478.3,79.5 L481.9,83.3 L485.5,83.3 L489.2,82.2 L492.8,77.9 L496.4,75.6 L500.0,66.4 L503.6,66.3 L507.3,65.1 L510.9,69.4 L514.5,73.5 L518.1,71.1 L521.7,65.4 L525.4,66.2 L529.0,68.4 L532.6,63.5 L536.2,57.0 L539.8,64.6 L543.5,62.3 L547.1,60.6 L550.7,57.9 L554.3,52.8 L557.9,56.0 L561.6,56.3 L565.2,52.9" fill="none" stroke="#e3202b" stroke-width="0.7" stroke-linejoin="round" stroke-linecap="round" opacity="0.9"/>
<path d="M333.5,112.6 L337.1,112.2 L340.7,111.4 L344.4,109.7 L348.0,109.7 L351.6,108.9 L355.2,108.9 L358.8,108.7 L362.5,105.9 L366.1,106.9 L369.7,105.9 L373.3,105.3 L376.9,107.1 L380.6,109.3 L384.2,104.7 L387.8,102.0 L391.4,99.0 L395.0,97.9 L398.7,97.6 L402.3,94.7 L405.9,90.9 L409.5,91.9 L413.1,87.1 L416.8,87.8 L420.4,90.6 L424.0,93.9 L427.6,87.7 L431.2,86.0 L434.9,81.1 L438.5,85.2 L442.1,82.3 L445.7,84.7 L449.3,89.8 L453.0,90.1 L456.6,90.0 L460.2,80.5 L463.8,83.3 L467.4,80.0 L471.1,80.4 L474.7,80.5 L478.3,76.2 L481.9,78.2 L485.5,83.3 L489.2,78.3 L492.8,75.6 L496.4,72.9 L500.0,65.9 L503.6,64.7 L507.3,63.1 L510.9,70.1 L514.5,66.1 L518.1,67.6 L521.7,66.7 L525.4,63.9 L529.0,64.7 L532.6,63.0 L536.2,61.9 L539.8,58.9 L543.5,57.2 L547.1,58.5 L550.7,56.1 L554.3,52.6 L557.9,48.7 L561.6,52.0 L565.2,50.5" fill="none" stroke="#e3202b" stroke-width="0.7" stroke-linejoin="round" stroke-linecap="round" opacity="0.9"/>
<path d="M333.5,113.9 L337.1,113.0 L340.7,113.3 L344.4,111.0 L348.0,112.1 L351.6,110.6 L355.2,110.3 L358.8,110.2 L362.5,109.7 L366.1,107.8 L369.7,109.6 L373.3,109.7 L376.9,109.9 L380.6,109.3 L384.2,106.1 L387.8,104.9 L391.4,99.5 L395.0,101.4 L398.7,100.3 L402.3,95.8 L405.9,96.7 L409.5,94.4 L413.1,89.9 L416.8,87.0 L420.4,92.7 L424.0,96.0 L427.6,93.1 L431.2,87.7 L434.9,82.2 L438.5,85.9 L442.1,85.1 L445.7,86.3 L449.3,95.2 L453.0,90.1 L456.6,90.2 L460.2,84.3 L463.8,82.4 L467.4,80.5 L471.1,83.5 L474.7,83.2 L478.3,82.6 L481.9,88.2 L485.5,86.3 L489.2,82.3 L492.8,75.6 L496.4,72.6 L500.0,69.0 L503.6,65.7 L507.3,69.3 L510.9,70.6 L514.5,74.4 L518.1,69.7 L521.7,68.4 L525.4,70.6 L529.0,65.0 L532.6,65.0 L536.2,63.4 L539.8,61.6 L543.5,66.0 L547.1,60.3 L550.7,56.9 L554.3,61.2 L557.9,59.5 L561.6,57.8 L565.2,56.0" fill="none" stroke="#e3202b" stroke-width="0.7" stroke-linejoin="round" stroke-linecap="round" opacity="0.9"/>
<path d="M333.5,112.9 L337.1,113.8 L340.7,112.8 L344.4,110.8 L348.0,111.7 L351.6,112.7 L355.2,111.0 L358.8,110.5 L362.5,109.4 L366.1,108.2 L369.7,108.0 L373.3,105.8 L376.9,109.5 L380.6,110.1 L384.2,103.7 L387.8,103.3 L391.4,99.5 L395.0,100.5 L398.7,99.8 L402.3,97.0 L405.9,95.6 L409.5,95.3 L413.1,88.5 L416.8,88.8 L420.4,88.7 L424.0,93.2 L427.6,86.9 L431.2,84.8 L434.9,84.5 L438.5,83.2 L442.1,86.9 L445.7,88.9 L449.3,89.7 L453.0,94.1 L456.6,88.5 L460.2,83.6 L463.8,82.8 L467.4,77.4 L471.1,79.5 L474.7,80.0 L478.3,78.5 L481.9,82.7 L485.5,81.9 L489.2,83.1 L492.8,78.0 L496.4,70.0 L500.0,69.8 L503.6,65.0 L507.3,66.5 L510.9,69.2 L514.5,69.8 L518.1,71.8 L521.7,71.9 L525.4,62.3 L529.0,65.1 L532.6,64.1 L536.2,62.5 L539.8,57.4 L543.5,57.8 L547.1,60.3 L550.7,56.2 L554.3,58.4 L557.9,55.0 L561.6,52.4 L565.2,49.4" fill="none" stroke="#e3202b" stroke-width="0.7" stroke-linejoin="round" stroke-linecap="round" opacity="0.9"/>
<path d="M333.5,115.8 L337.1,115.8 L340.7,112.9 L344.4,113.6 L348.0,109.6 L351.6,113.0 L355.2,112.0 L358.8,108.6 L362.5,107.0 L366.1,107.9 L369.7,109.8 L373.3,108.7 L376.9,113.5 L380.6,112.0 L384.2,108.3 L387.8,103.5 L391.4,101.0 L395.0,99.3 L398.7,97.5 L402.3,97.5 L405.9,95.2 L409.5,93.1 L413.1,90.7 L416.8,90.9 L420.4,92.4 L424.0,93.1 L427.6,95.4 L431.2,87.3 L434.9,83.2 L438.5,86.5 L442.1,87.7 L445.7,86.5 L449.3,96.1 L453.0,96.3 L456.6,88.1 L460.2,88.4 L463.8,82.9 L467.4,82.1 L471.1,81.0 L474.7,80.3 L478.3,83.5 L481.9,85.7 L485.5,87.0 L489.2,82.6 L492.8,81.4 L496.4,71.4 L500.0,72.5 L503.6,70.8 L507.3,74.1 L510.9,71.3 L514.5,73.9 L518.1,71.1 L521.7,74.2 L525.4,67.1 L529.0,70.4 L532.6,67.3 L536.2,64.1 L539.8,60.0 L543.5,60.0 L547.1,59.7 L550.7,59.8 L554.3,58.8 L557.9,54.2 L561.6,58.0 L565.2,53.7" fill="none" stroke="#e3202b" stroke-width="0.7" stroke-linejoin="round" stroke-linecap="round" opacity="0.9"/>
<path d="M333.5,116.0 L337.1,115.8 L340.7,115.5 L344.4,115.1 L348.0,114.7 L351.6,113.9 L355.2,113.2 L358.8,112.4 L362.5,111.6 L366.1,110.9 L369.7,110.1 L373.3,108.8 L376.9,107.5 L380.6,106.1 L384.2,104.8 L387.8,103.4 L391.4,102.0 L395.0,100.6 L398.7,99.1 L402.3,97.7 L405.9,96.2 L409.5,94.6 L413.1,92.8 L416.8,91.1 L420.4,89.9 L424.0,88.7 L427.6,87.6 L431.2,86.4 L434.9,85.2 L438.5,86.2 L442.1,87.7 L445.7,89.2 L449.3,90.7 L453.0,90.1 L456.6,88.9 L460.2,87.5 L463.8,86.1 L467.4,84.6 L471.1,83.2 L474.7,82.1 L478.3,83.0 L481.9,83.9 L485.5,84.8 L489.2,82.0 L492.8,78.9 L496.4,76.2 L500.0,73.4 L503.6,71.6 L507.3,72.3 L510.9,73.1 L514.5,73.8 L518.1,73.2 L521.7,72.3 L525.4,71.4 L529.0,70.5 L532.6,69.6 L536.2,68.7 L539.8,67.8 L543.5,67.1 L547.1,66.3 L550.7,65.6 L554.3,64.9 L557.9,64.2 L561.6,63.5 L565.2,62.8" fill="none" stroke="#a2222a" stroke-width="2.4" stroke-linejoin="round" stroke-linecap="round" opacity="1.0"/>
<path d="M333.5,114.6 L337.1,116.2 L340.7,115.2 L344.4,115.3 L348.0,114.3 L351.6,114.4 L355.2,113.0 L358.8,110.7 L362.5,111.5 L366.1,109.9 L369.7,109.7 L373.3,108.8 L376.9,107.0 L380.6,105.8 L384.2,104.2 L387.8,103.0 L391.4,101.7 L395.0,100.7 L398.7,97.6 L402.3,99.0 L405.9,94.1 L409.5,93.8 L413.1,92.0 L416.8,91.0 L420.4,89.5 L424.0,88.1 L427.6,88.7 L431.2,86.4 L434.9,84.4 L438.5,86.1 L442.1,87.6 L445.7,87.7 L449.3,89.4 L453.0,88.2 L456.6,89.0 L460.2,85.4 L463.8,83.8 L467.4,83.8 L471.1,82.5 L474.7,80.4 L478.3,81.8 L481.9,83.0 L485.5,82.5 L489.2,82.4 L492.8,78.7 L496.4,72.7 L500.0,73.2 L503.6,70.8 L507.3,71.3 L510.9,75.0 L514.5,73.5 L518.1,69.3 L521.7,69.8 L525.4,69.8 L529.0,70.4 L532.6,71.2 L536.2,69.2 L539.8,65.6 L543.5,67.5 L547.1,64.2 L550.7,64.6 L554.3,61.9 L557.9,61.6 L561.6,62.0 L565.2,61.2" fill="none" stroke="#a2222a" stroke-width="0.7" stroke-linejoin="round" stroke-linecap="round" opacity="0.9"/>
<path d="M333.5,114.9 L337.1,114.4 L340.7,116.3 L344.4,114.7 L348.0,113.6 L351.6,114.4 L355.2,113.5 L358.8,112.5 L362.5,111.2 L366.1,111.0 L369.7,109.7 L373.3,108.9 L376.9,107.8 L380.6,106.4 L384.2,105.9 L387.8,104.0 L391.4,101.9 L395.0,101.0 L398.7,99.0 L402.3,97.9 L405.9,97.2 L409.5,94.3 L413.1,92.9 L416.8,92.1 L420.4,90.1 L424.0,89.0 L427.6,88.4 L431.2,84.7 L434.9,85.2 L438.5,84.8 L442.1,89.5 L445.7,88.9 L449.3,89.9 L453.0,91.3 L456.6,88.3 L460.2,87.2 L463.8,88.0 L467.4,85.1 L471.1,84.7 L474.7,83.7 L478.3,84.4 L481.9,84.4 L485.5,86.7 L489.2,81.4 L492.8,78.2 L496.4,76.4 L500.0,74.5 L503.6,72.6 L507.3,73.7 L510.9,72.8 L514.5,75.8 L518.1,74.1 L521.7,71.5 L525.4,71.4 L529.0,70.6 L532.6,69.2 L536.2,68.2 L539.8,69.5 L543.5,66.5 L547.1,63.9 L550.7,65.7 L554.3,65.8 L557.9,63.5 L561.6,61.7 L565.2,61.3" fill="none" stroke="#a2222a" stroke-width="0.7" stroke-linejoin="round" stroke-linecap="round" opacity="0.9"/>
<path d="M333.5,115.4 L337.1,117.8 L340.7,117.0 L344.4,115.6 L348.0,115.9 L351.6,114.3 L355.2,112.7 L358.8,111.9 L362.5,112.3 L366.1,112.7 L369.7,110.2 L373.3,108.5 L376.9,108.7 L380.6,106.0 L384.2,104.5 L387.8,103.5 L391.4,102.8 L395.0,100.7 L398.7,98.3 L402.3,99.3 L405.9,95.3 L409.5,95.0 L413.1,92.9 L416.8,90.7 L420.4,90.6 L424.0,90.7 L427.6,88.9 L431.2,87.4 L434.9,88.1 L438.5,85.8 L442.1,88.6 L445.7,90.7 L449.3,90.4 L453.0,89.8 L456.6,89.4 L460.2,87.9 L463.8,85.1 L467.4,86.3 L471.1,85.9 L474.7,83.4 L478.3,83.6 L481.9,82.9 L485.5,85.0 L489.2,84.8 L492.8,80.8 L496.4,75.9 L500.0,73.3 L503.6,72.8 L507.3,72.2 L510.9,72.7 L514.5,73.3 L518.1,72.2 L521.7,73.2 L525.4,73.1 L529.0,72.8 L532.6,70.0 L536.2,66.7 L539.8,67.8 L543.5,69.0 L547.1,68.7 L550.7,64.3 L554.3,68.0 L557.9,64.9 L561.6,65.5 L565.2,64.1" fill="none" stroke="#a2222a" stroke-width="0.7" stroke-linejoin="round" stroke-linecap="round" opacity="0.9"/>
<path d="M333.5,115.9 L337.1,115.1 L340.7,115.3 L344.4,115.2 L348.0,114.8 L351.6,113.9 L355.2,112.2 L358.8,113.0 L362.5,110.6 L366.1,111.6 L369.7,110.8 L373.3,109.0 L376.9,107.1 L380.6,107.1 L384.2,104.7 L387.8,103.3 L391.4,102.9 L395.0,101.2 L398.7,98.3 L402.3,96.6 L405.9,97.2 L409.5,95.7 L413.1,92.2 L416.8,90.7 L420.4,89.4 L424.0,89.8 L427.6,86.7 L431.2,86.9 L434.9,84.5 L438.5,84.4 L442.1,89.3 L445.7,87.2 L449.3,89.5 L453.0,89.9 L456.6,88.2 L460.2,86.5 L463.8,83.8 L467.4,85.7 L471.1,84.5 L474.7,83.6 L478.3,82.6 L481.9,83.0 L485.5,83.4 L489.2,80.9 L492.8,80.1 L496.4,76.6 L500.0,73.6 L503.6,72.8 L507.3,70.6 L510.9,73.1 L514.5,73.6 L518.1,73.5 L521.7,73.8 L525.4,71.3 L529.0,71.2 L532.6,69.7 L536.2,65.9 L539.8,66.9 L543.5,67.5 L547.1,62.5 L550.7,64.8 L554.3,64.4 L557.9,63.9 L561.6,63.0 L565.2,62.5" fill="none" stroke="#a2222a" stroke-width="0.7" stroke-linejoin="round" stroke-linecap="round" opacity="0.9"/>
<path d="M333.5,116.2 L337.1,116.3 L340.7,114.0 L344.4,115.7 L348.0,115.2 L351.6,114.2 L355.2,113.6 L358.8,111.7 L362.5,112.4 L366.1,109.6 L369.7,108.9 L373.3,110.7 L376.9,107.8 L380.6,106.3 L384.2,105.7 L387.8,102.7 L391.4,103.9 L395.0,99.5 L398.7,98.8 L402.3,98.0 L405.9,96.4 L409.5,95.7 L413.1,94.1 L416.8,90.7 L420.4,91.5 L424.0,88.2 L427.6,87.6 L431.2,87.4 L434.9,85.6 L438.5,85.5 L442.1,88.3 L445.7,86.7 L449.3,89.7 L453.0,90.6 L456.6,90.8 L460.2,86.4 L463.8,87.7 L467.4,82.2 L471.1,80.9 L474.7,81.6 L478.3,82.8 L481.9,83.8 L485.5,84.1 L489.2,79.3 L492.8,80.4 L496.4,75.1 L500.0,75.4 L503.6,72.8 L507.3,70.2 L510.9,72.8 L514.5,72.9 L518.1,72.2 L521.7,72.2 L525.4,73.1 L529.0,69.7 L532.6,69.9 L536.2,66.6 L539.8,67.7 L543.5,67.6 L547.1,65.2 L550.7,63.7 L554.3,65.3 L557.9,66.1 L561.6,64.1 L565.2,63.2" fill="none" stroke="#a2222a" stroke-width="0.7" stroke-linejoin="round" stroke-linecap="round" opacity="0.9"/>
<path d="M333.5,116.3 L337.1,113.3 L340.7,115.3 L344.4,114.3 L348.0,111.9 L351.6,114.3 L355.2,111.9 L358.8,110.7 L362.5,110.7 L366.1,109.7 L369.7,108.9 L373.3,108.6 L376.9,106.3 L380.6,106.4 L384.2,103.6 L387.8,103.5 L391.4,103.5 L395.0,99.3 L398.7,97.7 L402.3,96.5 L405.9,95.0 L409.5,96.2 L413.1,92.1 L416.8,90.4 L420.4,87.1 L424.0,86.1 L427.6,86.5 L431.2,87.8 L434.9,85.8 L438.5,84.4 L442.1,86.5 L445.7,88.8 L449.3,89.6 L453.0,87.7 L456.6,86.9 L460.2,87.1 L463.8,82.2 L467.4,84.4 L471.1,83.4 L474.7,81.0 L478.3,82.1 L481.9,84.1 L485.5,81.9 L489.2,81.5 L492.8,75.8 L496.4,76.2 L500.0,71.4 L503.6,73.9 L507.3,71.6 L510.9,74.6 L514.5,73.0 L518.1,72.1 L521.7,69.3 L525.4,70.0 L529.0,69.2 L532.6,67.9 L536.2,63.3 L539.8,67.3 L543.5,66.1 L547.1,64.0 L550.7,62.0 L554.3,61.8 L557.9,64.3 L561.6,63.1 L565.2,60.2" fill="none" stroke="#a2222a" stroke-width="0.7" stroke-linejoin="round" stroke-linecap="round" opacity="0.9"/>
<path d="M333.5,114.9 L337.1,116.0 L340.7,116.6 L344.4,112.9 L348.0,113.5 L351.6,113.0 L355.2,111.6 L358.8,112.7 L362.5,113.7 L366.1,110.8 L369.7,109.4 L373.3,108.9 L376.9,106.8 L380.6,105.3 L384.2,105.0 L387.8,103.5 L391.4,102.3 L395.0,99.1 L398.7,97.9 L402.3,96.3 L405.9,95.0 L409.5,93.8 L413.1,93.3 L416.8,91.0 L420.4,90.5 L424.0,88.7 L427.6,88.7 L431.2,83.5 L434.9,83.4 L438.5,85.5 L442.1,87.8 L445.7,89.6 L449.3,90.6 L453.0,90.0 L456.6,87.9 L460.2,85.5 L463.8,85.2 L467.4,85.7 L471.1,82.6 L474.7,80.2 L478.3,81.8 L481.9,81.6 L485.5,84.6 L489.2,81.0 L492.8,81.4 L496.4,73.6 L500.0,72.8 L503.6,67.8 L507.3,69.3 L510.9,72.0 L514.5,72.5 L518.1,73.1 L521.7,70.9 L525.4,69.8 L529.0,69.4 L532.6,71.6 L536.2,68.6 L539.8,66.4 L543.5,66.6 L547.1,67.1 L550.7,65.3 L554.3,61.7 L557.9,63.4 L561.6,64.3 L565.2,62.6" fill="none" stroke="#a2222a" stroke-width="0.7" stroke-linejoin="round" stroke-linecap="round" opacity="0.9"/>
<path d="M333.5,114.9 L337.1,116.1 L340.7,115.6 L344.4,115.9 L348.0,114.5 L351.6,112.8 L355.2,113.4 L358.8,112.7 L362.5,112.5 L366.1,110.4 L369.7,111.4 L373.3,110.1 L376.9,107.5 L380.6,106.9 L384.2,105.7 L387.8,104.1 L391.4,103.9 L395.0,99.4 L398.7,99.2 L402.3,95.6 L405.9,97.2 L409.5,95.2 L413.1,92.1 L416.8,91.0 L420.4,89.3 L424.0,89.3 L427.6,87.3 L431.2,86.3 L434.9,87.1 L438.5,85.8 L442.1,86.4 L445.7,91.9 L449.3,90.9 L453.0,91.1 L456.6,88.2 L460.2,87.1 L463.8,88.2 L467.4,85.9 L471.1,84.1 L474.7,83.0 L478.3,82.0 L481.9,83.8 L485.5,86.2 L489.2,81.4 L492.8,78.5 L496.4,78.4 L500.0,73.6 L503.6,71.6 L507.3,73.0 L510.9,73.7 L514.5,75.9 L518.1,75.1 L521.7,72.7 L525.4,70.3 L529.0,70.4 L532.6,68.7 L536.2,67.4 L539.8,71.8 L543.5,66.0 L547.1,66.3 L550.7,65.3 L554.3,66.2 L557.9,63.4 L561.6,65.3 L565.2,60.2" fill="none" stroke="#a2222a" stroke-width="0.7" stroke-linejoin="round" stroke-linecap="round" opacity="0.9"/>
<path d="M333.5,117.2 L337.1,116.9 L340.7,116.1 L344.4,116.3 L348.0,116.6 L351.6,115.1 L355.2,114.9 L358.8,114.9 L362.5,113.4 L366.1,111.6 L369.7,110.7 L373.3,109.3 L376.9,109.9 L380.6,109.0 L384.2,106.0 L387.8,103.4 L391.4,104.5 L395.0,99.9 L398.7,100.2 L402.3,98.3 L405.9,96.7 L409.5,96.1 L413.1,92.4 L416.8,91.2 L420.4,93.5 L424.0,89.7 L427.6,91.1 L431.2,87.8 L434.9,87.1 L438.5,88.8 L442.1,90.5 L445.7,89.9 L449.3,91.1 L453.0,89.7 L456.6,90.7 L460.2,90.4 L463.8,90.4 L467.4,87.2 L471.1,85.3 L474.7,84.4 L478.3,84.2 L481.9,88.3 L485.5,87.0 L489.2,82.8 L492.8,81.6 L496.4,77.3 L500.0,76.0 L503.6,74.4 L507.3,71.8 L510.9,73.9 L514.5,74.3 L518.1,76.5 L521.7,72.7 L525.4,71.6 L529.0,72.1 L532.6,70.1 L536.2,71.5 L539.8,68.2 L543.5,68.4 L547.1,66.0 L550.7,66.5 L554.3,68.1 L557.9,67.2 L561.6,65.4 L565.2,64.4" fill="none" stroke="#a2222a" stroke-width="0.7" stroke-linejoin="round" stroke-linecap="round" opacity="0.9"/>
<path d="M333.5,116.1 L337.1,114.7 L340.7,114.9 L344.4,115.0 L348.0,115.2 L351.6,111.9 L355.2,112.6 L358.8,112.5 L362.5,111.0 L366.1,112.2 L369.7,109.8 L373.3,108.4 L376.9,107.4 L380.6,104.3 L384.2,104.0 L387.8,106.2 L391.4,98.6 L395.0,100.9 L398.7,99.5 L402.3,98.3 L405.9,96.4 L409.5,96.1 L413.1,90.6 L416.8,89.3 L420.4,90.1 L424.0,86.7 L427.6,88.1 L431.2,85.7 L434.9,83.0 L438.5,86.0 L442.1,87.4 L445.7,88.6 L449.3,89.1 L453.0,90.2 L456.6,88.2 L460.2,89.0 L463.8,85.5 L467.4,84.0 L471.1,83.5 L474.7,81.5 L478.3,82.5 L481.9,82.5 L485.5,86.6 L489.2,83.0 L492.8,79.9 L496.4,76.6 L500.0,73.5 L503.6,70.1 L507.3,70.3 L510.9,73.5 L514.5,73.4 L518.1,73.3 L521.7,69.8 L525.4,70.8 L529.0,70.2 L532.6,68.3 L536.2,68.2 L539.8,68.1 L543.5,65.8 L547.1,66.4 L550.7,63.8 L554.3,63.7 L557.9,63.7 L561.6,60.1 L565.2,58.4" fill="none" stroke="#a2222a" stroke-width="0.7" stroke-linejoin="round" stroke-linecap="round" opacity="0.9"/>
<path d="M333.5,117.9 L337.1,116.6 L340.7,117.4 L344.4,116.3 L348.0,117.1 L351.6,115.6 L355.2,114.0 L358.8,114.4 L362.5,113.1 L366.1,112.3 L369.7,111.7 L373.3,109.2 L376.9,108.5 L380.6,107.6 L384.2,105.6 L387.8,105.6 L391.4,105.1 L395.0,102.0 L398.7,99.8 L402.3,100.8 L405.9,96.8 L409.5,96.9 L413.1,93.1 L416.8,92.1 L420.4,92.3 L424.0,91.5 L427.6,89.3 L431.2,88.1 L434.9,89.0 L438.5,88.3 L442.1,88.6 L445.7,90.8 L449.3,92.7 L453.0,92.0 L456.6,91.0 L460.2,89.1 L463.8,87.1 L467.4,84.9 L471.1,86.6 L474.7,84.3 L478.3,84.5 L481.9,85.0 L485.5,88.5 L489.2,82.0 L492.8,80.6 L496.4,78.0 L500.0,78.3 L503.6,73.6 L507.3,72.3 L510.9,74.2 L514.5,76.6 L518.1,75.4 L521.7,75.9 L525.4,73.0 L529.0,72.9 L532.6,72.1 L536.2,71.3 L539.8,69.8 L543.5,69.1 L547.1,68.4 L550.7,65.8 L554.3,67.6 L557.9,65.2 L561.6,66.7 L565.2,63.5" fill="none" stroke="#a2222a" stroke-width="0.7" stroke-linejoin="round" stroke-linecap="round" opacity="0.9"/>
<path d="M333.5,115.7 L337.1,115.8 L340.7,115.9 L344.4,114.0 L348.0,115.5 L351.6,112.4 L355.2,114.8 L358.8,111.9 L362.5,113.5 L366.1,112.3 L369.7,108.9 L373.3,109.6 L376.9,109.1 L380.6,106.8 L384.2,105.4 L387.8,104.6 L391.4,102.2 L395.0,101.5 L398.7,98.4 L402.3,97.5 L405.9,98.2 L409.5,94.9 L413.1,93.0 L416.8,93.9 L420.4,90.3 L424.0,90.0 L427.6,88.1 L431.2,84.9 L434.9,84.5 L438.5,86.4 L442.1,86.8 L445.7,92.6 L449.3,91.4 L453.0,90.5 L456.6,89.8 L460.2,88.0 L463.8,88.6 L467.4,84.0 L471.1,83.3 L474.7,84.3 L478.3,83.2 L481.9,85.3 L485.5,85.9 L489.2,84.6 L492.8,79.8 L496.4,78.7 L500.0,75.8 L503.6,73.1 L507.3,73.1 L510.9,74.7 L514.5,74.9 L518.1,76.6 L521.7,71.8 L525.4,75.5 L529.0,70.3 L532.6,71.1 L536.2,70.5 L539.8,68.1 L543.5,68.0 L547.1,67.9 L550.7,68.7 L554.3,63.9 L557.9,65.0 L561.6,65.6 L565.2,62.3" fill="none" stroke="#a2222a" stroke-width="0.7" stroke-linejoin="round" stroke-linecap="round" opacity="0.9"/>
<path d="M333.5,114.6 L337.1,116.2 L340.7,115.4 L344.4,114.8 L348.0,115.6 L351.6,114.3 L355.2,112.6 L358.8,112.0 L362.5,112.3 L366.1,111.3 L369.7,111.1 L373.3,109.4 L376.9,109.3 L380.6,106.3 L384.2,104.0 L387.8,104.5 L391.4,102.0 L395.0,102.4 L398.7,98.3 L402.3,96.6 L405.9,94.7 L409.5,95.2 L413.1,90.7 L416.8,90.8 L420.4,90.1 L424.0,89.3 L427.6,90.8 L431.2,87.3 L434.9,86.6 L438.5,88.2 L442.1,87.2 L445.7,89.6 L449.3,91.8 L453.0,90.0 L456.6,89.8 L460.2,86.9 L463.8,87.5 L467.4,87.1 L471.1,83.4 L474.7,83.5 L478.3,85.6 L481.9,83.2 L485.5,85.4 L489.2,81.8 L492.8,79.1 L496.4,76.0 L500.0,73.7 L503.6,73.2 L507.3,71.5 L510.9,72.3 L514.5,73.7 L518.1,75.3 L521.7,75.6 L525.4,73.7 L529.0,68.7 L532.6,71.5 L536.2,69.2 L539.8,69.8 L543.5,66.1 L547.1,63.4 L550.7,68.8 L554.3,66.7 L557.9,62.7 L561.6,65.2 L565.2,65.5" fill="none" stroke="#a2222a" stroke-width="0.7" stroke-linejoin="round" stroke-linecap="round" opacity="0.9"/>
<path d="M333.5,116.4 L337.1,115.3 L340.7,115.7 L344.4,114.0 L348.0,115.4 L351.6,114.7 L355.2,114.0 L358.8,114.8 L362.5,111.1 L366.1,111.0 L369.7,111.7 L373.3,108.0 L376.9,107.4 L380.6,105.8 L384.2,105.3 L387.8,103.0 L391.4,100.5 L395.0,99.6 L398.7,100.7 L402.3,96.4 L405.9,96.6 L409.5,93.5 L413.1,92.0 L416.8,91.0 L420.4,90.1 L424.0,88.7 L427.6,85.4 L431.2,86.7 L434.9,86.5 L438.5,86.2 L442.1,90.1 L445.7,90.0 L449.3,90.4 L453.0,91.1 L456.6,86.5 L460.2,87.9 L463.8,87.4 L467.4,84.6 L471.1,83.5 L474.7,83.0 L478.3,84.5 L481.9,83.2 L485.5,85.3 L489.2,81.6 L492.8,78.6 L496.4,78.3 L500.0,71.7 L503.6,72.0 L507.3,71.3 L510.9,74.6 L514.5,74.3 L518.1,74.0 L521.7,76.2 L525.4,70.6 L529.0,70.5 L532.6,70.5 L536.2,67.9 L539.8,66.7 L543.5,69.2 L547.1,68.4 L550.7,65.2 L554.3,65.9 L557.9,62.6 L561.6,66.0 L565.2,59.4" fill="none" stroke="#a2222a" stroke-width="0.7" stroke-linejoin="round" stroke-linecap="round" opacity="0.9"/>
<path d="M333.5,116.6 L337.1,117.0 L340.7,116.2 L344.4,114.8 L348.0,114.9 L351.6,114.2 L355.2,114.2 L358.8,112.9 L362.5,111.1 L366.1,111.6 L369.7,108.9 L373.3,108.3 L376.9,106.3 L380.6,105.7 L384.2,105.5 L387.8,101.7 L391.4,103.6 L395.0,99.8 L398.7,99.4 L402.3,96.4 L405.9,96.2 L409.5,95.3 L413.1,92.5 L416.8,90.8 L420.4,91.0 L424.0,90.1 L427.6,86.6 L431.2,85.9 L434.9,84.3 L438.5,84.7 L442.1,89.6 L445.7,89.6 L449.3,90.9 L453.0,89.5 L456.6,90.7 L460.2,85.7 L463.8,86.0 L467.4,84.7 L471.1,83.4 L474.7,82.5 L478.3,84.2 L481.9,83.6 L485.5,83.3 L489.2,82.7 L492.8,80.2 L496.4,77.8 L500.0,72.1 L503.6,69.6 L507.3,71.2 L510.9,72.5 L514.5,75.9 L518.1,71.6 L521.7,70.9 L525.4,72.7 L529.0,67.8 L532.6,72.4 L536.2,68.5 L539.8,69.7 L543.5,67.1 L547.1,67.6 L550.7,65.3 L554.3,63.1 L557.9,62.1 L561.6,62.7 L565.2,63.5" fill="none" stroke="#a2222a" stroke-width="0.7" stroke-linejoin="round" stroke-linecap="round" opacity="0.9"/>
<path d="M333.5,115.6 L337.1,115.2 L340.7,114.4 L344.4,114.0 L348.0,112.5 L351.6,112.5 L355.2,112.6 L358.8,110.8 L362.5,111.0 L366.1,109.3 L369.7,109.3 L373.3,107.2 L376.9,103.7 L380.6,106.7 L384.2,105.3 L387.8,102.9 L391.4,102.4 L395.0,100.5 L398.7,99.5 L402.3,96.2 L405.9,96.4 L409.5,92.8 L413.1,92.8 L416.8,90.2 L420.4,87.2 L424.0,88.3 L427.6,85.9 L431.2,87.9 L434.9,84.2 L438.5,85.2 L442.1,87.1 L445.7,88.3 L449.3,88.4 L453.0,85.9 L456.6,86.0 L460.2,86.7 L463.8,85.8 L467.4,83.3 L471.1,82.2 L474.7,79.6 L478.3,80.7 L481.9,83.8 L485.5,81.4 L489.2,83.4 L492.8,77.9 L496.4,74.2 L500.0,72.7 L503.6,70.5 L507.3,70.4 L510.9,69.1 L514.5,71.7 L518.1,71.2 L521.7,72.4 L525.4,69.6 L529.0,68.2 L532.6,68.2 L536.2,68.5 L539.8,67.2 L543.5,66.9 L547.1,66.2 L550.7,64.0 L554.3,62.5 L557.9,65.1 L561.6,61.3 L565.2,62.1" fill="none" stroke="#a2222a" stroke-width="0.7" stroke-linejoin="round" stroke-linecap="round" opacity="0.9"/>
<path d="M333.5,116.5 L337.1,117.5 L340.7,116.7 L344.4,114.4 L348.0,114.2 L351.6,112.7 L355.2,113.8 L358.8,112.6 L362.5,111.5 L366.1,110.8 L369.7,111.1 L373.3,110.9 L376.9,108.3 L380.6,105.5 L384.2,102.9 L387.8,103.0 L391.4,102.8 L395.0,100.9 L398.7,99.0 L402.3,100.3 L405.9,97.8 L409.5,94.7 L413.1,91.2 L416.8,90.4 L420.4,91.1 L424.0,87.3 L427.6,88.6 L431.2,86.5 L434.9,84.8 L438.5,89.4 L442.1,87.7 L445.7,91.2 L449.3,89.4 L453.0,90.9 L456.6,87.7 L460.2,86.8 L463.8,87.9 L467.4,86.1 L471.1,82.7 L474.7,82.2 L478.3,84.9 L481.9,84.4 L485.5,85.9 L489.2,83.8 L492.8,78.6 L496.4,76.5 L500.0,78.5 L503.6,73.3 L507.3,74.4 L510.9,74.5 L514.5,75.7 L518.1,74.5 L521.7,71.2 L525.4,73.6 L529.0,69.2 L532.6,70.1 L536.2,70.0 L539.8,63.4 L543.5,69.0 L547.1,67.8 L550.7,65.1 L554.3,66.3 L557.9,63.0 L561.6,65.0 L565.2,65.1" fill="none" stroke="#a2222a" stroke-width="0.7" stroke-linejoin="round" stroke-linecap="round" opacity="0.9"/>
<path d="M333.5,114.4 L337.1,117.3 L340.7,116.5 L344.4,115.7 L348.0,114.6 L351.6,112.6 L355.2,112.9 L358.8,113.1 L362.5,109.4 L366.1,111.1 L369.7,110.4 L373.3,109.1 L376.9,107.6 L380.6,106.8 L384.2,104.5 L387.8,104.4 L391.4,101.8 L395.0,101.2 L398.7,99.9 L402.3,97.5 L405.9,95.7 L409.5,92.4 L413.1,94.8 L416.8,89.6 L420.4,90.6 L424.0,87.1 L427.6,87.0 L431.2,85.5 L434.9,86.4 L438.5,85.3 L442.1,88.3 L445.7,89.0 L449.3,91.2 L453.0,90.7 L456.6,88.8 L460.2,87.6 L463.8,85.9 L467.4,82.5 L471.1,84.7 L474.7,81.0 L478.3,83.6 L481.9,81.2 L485.5,82.8 L489.2,81.8 L492.8,76.2 L496.4,76.5 L500.0,71.6 L503.6,73.1 L507.3,70.1 L510.9,74.0 L514.5,74.0 L518.1,75.6 L521.7,73.2 L525.4,71.4 L529.0,69.7 L532.6,67.1 L536.2,67.8 L539.8,66.3 L543.5,69.1 L547.1,66.9 L550.7,65.3 L554.3,66.1 L557.9,65.8 L561.6,61.2 L565.2,62.1" fill="none" stroke="#a2222a" stroke-width="0.7" stroke-linejoin="round" stroke-linecap="round" opacity="0.9"/>
<path d="M333.5,115.7 L337.1,116.5 L340.7,114.9 L344.4,115.1 L348.0,115.1 L351.6,116.0 L355.2,113.3 L358.8,114.2 L362.5,110.5 L366.1,111.0 L369.7,110.8 L373.3,109.7 L376.9,109.3 L380.6,107.2 L384.2,105.2 L387.8,103.8 L391.4,104.6 L395.0,100.5 L398.7,99.7 L402.3,99.0 L405.9,96.7 L409.5,95.4 L413.1,95.6 L416.8,92.4 L420.4,88.8 L424.0,91.3 L427.6,89.0 L431.2,84.8 L434.9,85.6 L438.5,86.4 L442.1,87.4 L445.7,90.3 L449.3,91.9 L453.0,91.5 L456.6,90.8 L460.2,89.5 L463.8,85.2 L467.4,84.6 L471.1,84.8 L474.7,82.1 L478.3,84.0 L481.9,82.3 L485.5,85.4 L489.2,84.0 L492.8,80.6 L496.4,76.3 L500.0,73.9 L503.6,71.5 L507.3,73.0 L510.9,73.8 L514.5,76.4 L518.1,73.7 L521.7,71.5 L525.4,73.4 L529.0,70.9 L532.6,69.9 L536.2,68.8 L539.8,68.9 L543.5,67.9 L547.1,68.2 L550.7,67.6 L554.3,65.5 L557.9,66.6 L561.6,63.0 L565.2,65.0" fill="none" stroke="#a2222a" stroke-width="0.7" stroke-linejoin="round" stroke-linecap="round" opacity="0.9"/>
<path d="M333.5,114.4 L337.1,115.8 L340.7,116.3 L344.4,114.5 L348.0,116.5 L351.6,114.0 L355.2,113.2 L358.8,112.5 L362.5,112.3 L366.1,112.4 L369.7,110.8 L373.3,108.6 L376.9,107.1 L380.6,106.1 L384.2,105.4 L387.8,104.0 L391.4,102.4 L395.0,102.7 L398.7,100.6 L402.3,97.6 L405.9,96.7 L409.5,97.2 L413.1,93.2 L416.8,91.2 L420.4,91.2 L424.0,89.5 L427.6,89.7 L431.2,88.8 L434.9,85.0 L438.5,86.0 L442.1,88.2 L445.7,90.9 L449.3,90.6 L453.0,87.5 L456.6,90.8 L460.2,87.5 L463.8,86.3 L467.4,86.7 L471.1,84.0 L474.7,81.4 L478.3,83.0 L481.9,83.5 L485.5,85.9 L489.2,83.5 L492.8,80.3 L496.4,75.8 L500.0,73.0 L503.6,71.0 L507.3,72.4 L510.9,72.7 L514.5,74.3 L518.1,76.6 L521.7,70.5 L525.4,70.3 L529.0,74.0 L532.6,70.1 L536.2,69.0 L539.8,66.3 L543.5,68.2 L547.1,65.5 L550.7,67.1 L554.3,68.4 L557.9,64.8 L561.6,63.3 L565.2,64.2" fill="none" stroke="#a2222a" stroke-width="0.7" stroke-linejoin="round" stroke-linecap="round" opacity="0.9"/>
<path d="M333.5,108.2 L337.1,107.9 L340.7,107.2 L344.4,106.6 L348.0,105.9 L351.6,105.4 L355.2,104.8 L358.8,104.3 L362.5,103.8 L366.1,103.2 L369.7,102.7 L373.3,101.8 L376.9,100.8 L380.6,99.9 L384.2,98.9 L387.8,98.0 L391.4,97.0 L395.0,95.9 L398.7,94.8 L402.3,93.7 L405.9,92.6 L409.5,91.9 L413.1,91.6 L416.8,91.2 L420.4,90.8 L424.0,90.5 L427.6,90.4 L431.2,90.3 L434.9,90.2 L438.5,90.2 L442.1,90.1 L445.7,90.1 L449.3,90.0 L453.0,89.7 L456.6,89.2 L460.2,88.8 L463.8,88.4 L467.4,88.0 L471.1,87.6 L474.7,87.2 L478.3,86.9 L481.9,86.7 L485.5,86.4 L489.2,85.5 L492.8,84.4 L496.4,83.1 L500.0,81.5 L503.6,79.8 L507.3,78.1 L510.9,78.9 L514.5,80.0 L518.1,81.1 L521.7,80.7 L525.4,80.0 L529.0,79.2 L532.6,78.8 L536.2,78.4 L539.8,78.1 L543.5,77.7 L547.1,77.3 L550.7,76.9 L554.3,76.6 L557.9,76.3 L561.6,76.0 L565.2,75.7" fill="none" stroke="#f3a020" stroke-width="3.2" stroke-linejoin="round" stroke-linecap="round" opacity="1.0"/>
<path d="M333.5,108.4 L337.1,108.5 L340.7,107.0 L344.4,106.9 L348.0,106.0 L351.6,105.9 L355.2,104.9 L358.8,104.5 L362.5,104.1 L366.1,103.6 L369.7,103.1 L373.3,101.8 L376.9,100.7 L380.6,99.6 L384.2,97.7 L387.8,97.3 L391.4,96.8 L395.0,96.3 L398.7,94.4 L402.3,93.4 L405.9,92.7 L409.5,92.2 L413.1,91.7 L416.8,90.8 L420.4,90.8 L424.0,90.3 L427.6,91.4 L431.2,90.7 L434.9,90.2 L438.5,90.3 L442.1,90.9 L445.7,91.5 L449.3,90.4 L453.0,90.0 L456.6,91.1 L460.2,88.7 L463.8,89.9 L467.4,89.0 L471.1,88.0 L474.7,87.8 L478.3,88.1 L481.9,86.9 L485.5,87.1 L489.2,85.6 L492.8,85.0 L496.4,83.0 L500.0,82.6 L503.6,80.0 L507.3,78.1 L510.9,78.9 L514.5,78.6 L518.1,82.2 L521.7,81.7 L525.4,80.1 L529.0,78.7 L532.6,78.8 L536.2,78.1 L539.8,78.9 L543.5,79.1 L547.1,79.7 L550.7,76.8 L554.3,76.7 L557.9,77.4 L561.6,76.4 L565.2,76.9" fill="none" stroke="#f3a020" stroke-width="0.7" stroke-linejoin="round" stroke-linecap="round" opacity="0.9"/>
<path d="M333.5,107.7 L337.1,106.9 L340.7,107.2 L344.4,105.7 L348.0,105.5 L351.6,105.6 L355.2,105.4 L358.8,103.7 L362.5,103.4 L366.1,103.1 L369.7,102.6 L373.3,101.5 L376.9,100.4 L380.6,99.8 L384.2,99.0 L387.8,97.0 L391.4,96.6 L395.0,95.8 L398.7,95.1 L402.3,93.9 L405.9,91.5 L409.5,91.9 L413.1,91.7 L416.8,91.1 L420.4,91.4 L424.0,90.3 L427.6,89.7 L431.2,90.0 L434.9,89.9 L438.5,90.5 L442.1,90.0 L445.7,90.9 L449.3,89.3 L453.0,89.8 L456.6,89.9 L460.2,87.7 L463.8,88.3 L467.4,88.8 L471.1,86.6 L474.7,86.9 L478.3,85.6 L481.9,86.0 L485.5,87.1 L489.2,85.3 L492.8,83.8 L496.4,81.3 L500.0,80.7 L503.6,78.6 L507.3,77.2 L510.9,78.4 L514.5,80.8 L518.1,81.8 L521.7,80.1 L525.4,79.2 L529.0,78.7 L532.6,78.7 L536.2,78.3 L539.8,77.3 L543.5,78.3 L547.1,78.0 L550.7,77.6 L554.3,77.1 L557.9,76.5 L561.6,75.9 L565.2,77.3" fill="none" stroke="#f3a020" stroke-width="0.7" stroke-linejoin="round" stroke-linecap="round" opacity="0.9"/>
<path d="M333.5,107.5 L337.1,107.0 L340.7,106.7 L344.4,105.8 L348.0,105.3 L351.6,106.1 L355.2,104.2 L358.8,103.8 L362.5,102.7 L366.1,102.5 L369.7,102.6 L373.3,101.7 L376.9,99.9 L380.6,100.9 L384.2,98.3 L387.8,97.4 L391.4,96.7 L395.0,95.8 L398.7,94.5 L402.3,92.8 L405.9,92.4 L409.5,92.2 L413.1,91.4 L416.8,90.6 L420.4,90.3 L424.0,90.9 L427.6,89.9 L431.2,89.9 L434.9,89.5 L438.5,89.5 L442.1,88.7 L445.7,90.9 L449.3,90.6 L453.0,88.7 L456.6,89.3 L460.2,88.7 L463.8,88.3 L467.4,86.8 L471.1,87.6 L474.7,87.7 L478.3,87.7 L481.9,86.8 L485.5,86.1 L489.2,84.4 L492.8,83.9 L496.4,82.7 L500.0,80.4 L503.6,79.8 L507.3,76.4 L510.9,77.3 L514.5,81.4 L518.1,81.6 L521.7,79.8 L525.4,78.9 L529.0,78.5 L532.6,78.5 L536.2,78.6 L539.8,76.9 L543.5,77.7 L547.1,76.2 L550.7,75.5 L554.3,75.2 L557.9,75.6 L561.6,75.6 L565.2,74.7" fill="none" stroke="#f3a020" stroke-width="0.7" stroke-linejoin="round" stroke-linecap="round" opacity="0.9"/>
<path d="M333.5,108.1 L337.1,106.8 L340.7,106.8 L344.4,105.9 L348.0,105.6 L351.6,104.4 L355.2,104.2 L358.8,102.9 L362.5,103.7 L366.1,102.5 L369.7,101.5 L373.3,100.5 L376.9,100.8 L380.6,98.6 L384.2,98.0 L387.8,98.1 L391.4,96.5 L395.0,94.6 L398.7,93.8 L402.3,93.3 L405.9,93.0 L409.5,91.1 L413.1,90.9 L416.8,90.7 L420.4,90.0 L424.0,89.6 L427.6,89.6 L431.2,90.2 L434.9,89.6 L438.5,90.3 L442.1,89.2 L445.7,89.4 L449.3,89.1 L453.0,89.5 L456.6,88.9 L460.2,89.1 L463.8,87.9 L467.4,86.0 L471.1,87.0 L474.7,86.5 L478.3,86.1 L481.9,85.9 L485.5,86.1 L489.2,84.6 L492.8,83.3 L496.4,82.4 L500.0,81.1 L503.6,77.9 L507.3,76.7 L510.9,77.6 L514.5,78.3 L518.1,79.2 L521.7,79.5 L525.4,79.6 L529.0,79.4 L532.6,78.9 L536.2,77.5 L539.8,76.6 L543.5,77.6 L547.1,75.9 L550.7,75.7 L554.3,75.0 L557.9,74.6 L561.6,74.6 L565.2,75.0" fill="none" stroke="#f3a020" stroke-width="0.7" stroke-linejoin="round" stroke-linecap="round" opacity="0.9"/>
<path d="M333.5,108.5 L337.1,108.9 L340.7,107.5 L344.4,107.0 L348.0,106.3 L351.6,105.3 L355.2,104.5 L358.8,105.2 L362.5,104.4 L366.1,103.8 L369.7,103.7 L373.3,102.0 L376.9,100.8 L380.6,100.5 L384.2,99.5 L387.8,99.5 L391.4,96.6 L395.0,95.7 L398.7,95.6 L402.3,94.3 L405.9,93.0 L409.5,91.4 L413.1,91.3 L416.8,91.4 L420.4,90.6 L424.0,90.6 L427.6,90.2 L431.2,90.1 L434.9,90.2 L438.5,89.4 L442.1,90.1 L445.7,90.5 L449.3,91.3 L453.0,90.5 L456.6,90.6 L460.2,89.5 L463.8,88.7 L467.4,88.6 L471.1,87.7 L474.7,87.5 L478.3,87.1 L481.9,86.7 L485.5,87.5 L489.2,86.6 L492.8,85.1 L496.4,83.8 L500.0,81.3 L503.6,80.3 L507.3,77.4 L510.9,79.2 L514.5,79.6 L518.1,81.3 L521.7,80.7 L525.4,79.5 L529.0,79.8 L532.6,78.7 L536.2,78.8 L539.8,78.2 L543.5,78.0 L547.1,77.5 L550.7,77.4 L554.3,76.9 L557.9,76.8 L561.6,75.6 L565.2,75.6" fill="none" stroke="#f3a020" stroke-width="0.7" stroke-linejoin="round" stroke-linecap="round" opacity="0.9"/>
<path d="M333.5,108.0 L337.1,108.5 L340.7,108.1 L344.4,107.6 L348.0,106.0 L351.6,105.5 L355.2,105.1 L358.8,105.1 L362.5,104.6 L366.1,103.6 L369.7,103.5 L373.3,101.5 L376.9,101.7 L380.6,100.7 L384.2,100.2 L387.8,99.7 L391.4,97.1 L395.0,97.0 L398.7,95.5 L402.3,94.1 L405.9,93.6 L409.5,92.7 L413.1,91.7 L416.8,91.2 L420.4,92.3 L424.0,92.3 L427.6,90.7 L431.2,89.7 L434.9,90.6 L438.5,91.6 L442.1,90.7 L445.7,90.8 L449.3,91.4 L453.0,90.0 L456.6,89.3 L460.2,89.6 L463.8,89.3 L467.4,88.5 L471.1,88.3 L474.7,89.3 L478.3,86.9 L481.9,88.3 L485.5,87.5 L489.2,86.9 L492.8,84.7 L496.4,83.6 L500.0,83.1 L503.6,79.4 L507.3,79.7 L510.9,79.9 L514.5,81.0 L518.1,82.0 L521.7,82.2 L525.4,81.2 L529.0,79.5 L532.6,79.9 L536.2,80.9 L539.8,79.1 L543.5,79.5 L547.1,78.5 L550.7,76.6 L554.3,77.2 L557.9,76.4 L561.6,77.4 L565.2,76.7" fill="none" stroke="#f3a020" stroke-width="0.7" stroke-linejoin="round" stroke-linecap="round" opacity="0.9"/>
<path d="M333.5,108.7 L337.1,107.9 L340.7,107.5 L344.4,106.6 L348.0,106.3 L351.6,105.6 L355.2,105.0 L358.8,103.8 L362.5,104.1 L366.1,103.0 L369.7,103.7 L373.3,102.3 L376.9,100.8 L380.6,100.2 L384.2,99.3 L387.8,98.1 L391.4,98.7 L395.0,96.2 L398.7,94.8 L402.3,93.6 L405.9,92.2 L409.5,92.0 L413.1,92.1 L416.8,91.3 L420.4,91.4 L424.0,91.2 L427.6,89.7 L431.2,91.7 L434.9,91.1 L438.5,90.8 L442.1,90.3 L445.7,90.4 L449.3,90.2 L453.0,90.5 L456.6,89.8 L460.2,88.8 L463.8,88.9 L467.4,88.5 L471.1,88.1 L474.7,87.5 L478.3,87.3 L481.9,85.6 L485.5,86.9 L489.2,84.9 L492.8,86.3 L496.4,82.3 L500.0,82.1 L503.6,81.0 L507.3,77.9 L510.9,78.7 L514.5,80.6 L518.1,81.7 L521.7,81.3 L525.4,81.9 L529.0,80.7 L532.6,79.6 L536.2,77.6 L539.8,77.2 L543.5,77.1 L547.1,77.4 L550.7,76.1 L554.3,75.5 L557.9,77.1 L561.6,77.6 L565.2,76.0" fill="none" stroke="#f3a020" stroke-width="0.7" stroke-linejoin="round" stroke-linecap="round" opacity="0.9"/>
<path d="M333.5,108.3 L337.1,108.6 L340.7,106.4 L344.4,106.4 L348.0,105.5 L351.6,104.9 L355.2,104.8 L358.8,103.3 L362.5,104.0 L366.1,103.0 L369.7,102.4 L373.3,101.3 L376.9,101.2 L380.6,100.2 L384.2,98.9 L387.8,97.8 L391.4,97.2 L395.0,96.3 L398.7,94.0 L402.3,93.5 L405.9,93.3 L409.5,90.7 L413.1,92.1 L416.8,92.2 L420.4,89.8 L424.0,90.6 L427.6,90.8 L431.2,89.8 L434.9,90.3 L438.5,90.7 L442.1,89.6 L445.7,90.8 L449.3,89.9 L453.0,89.3 L456.6,89.1 L460.2,87.8 L463.8,87.7 L467.4,88.4 L471.1,87.6 L474.7,86.5 L478.3,85.7 L481.9,86.1 L485.5,86.8 L489.2,84.8 L492.8,85.3 L496.4,82.5 L500.0,80.8 L503.6,80.1 L507.3,77.7 L510.9,77.6 L514.5,78.7 L518.1,80.6 L521.7,81.2 L525.4,79.5 L529.0,79.1 L532.6,79.3 L536.2,77.7 L539.8,78.4 L543.5,75.3 L547.1,75.8 L550.7,76.8 L554.3,77.0 L557.9,76.0 L561.6,76.6 L565.2,74.8" fill="none" stroke="#f3a020" stroke-width="0.7" stroke-linejoin="round" stroke-linecap="round" opacity="0.9"/>
<path d="M333.5,109.0 L337.1,108.1 L340.7,107.8 L344.4,106.7 L348.0,105.9 L351.6,105.7 L355.2,105.6 L358.8,104.6 L362.5,104.4 L366.1,102.0 L369.7,101.8 L373.3,101.8 L376.9,100.9 L380.6,99.7 L384.2,98.3 L387.8,98.1 L391.4,96.1 L395.0,96.0 L398.7,94.8 L402.3,93.7 L405.9,92.6 L409.5,91.0 L413.1,91.2 L416.8,91.3 L420.4,90.5 L424.0,90.4 L427.6,91.1 L431.2,91.0 L434.9,90.5 L438.5,90.6 L442.1,90.8 L445.7,91.0 L449.3,89.8 L453.0,89.4 L456.6,88.9 L460.2,89.5 L463.8,89.2 L467.4,88.8 L471.1,87.2 L474.7,86.7 L478.3,87.4 L481.9,85.8 L485.5,86.2 L489.2,85.1 L492.8,84.0 L496.4,84.0 L500.0,80.8 L503.6,79.4 L507.3,78.4 L510.9,79.0 L514.5,80.3 L518.1,82.3 L521.7,80.6 L525.4,79.4 L529.0,78.7 L532.6,78.1 L536.2,78.4 L539.8,77.5 L543.5,78.2 L547.1,77.8 L550.7,78.2 L554.3,77.4 L557.9,76.4 L561.6,75.6 L565.2,76.0" fill="none" stroke="#f3a020" stroke-width="0.7" stroke-linejoin="round" stroke-linecap="round" opacity="0.9"/>
<path d="M333.5,108.5 L337.1,107.8 L340.7,107.6 L344.4,106.6 L348.0,106.1 L351.6,105.5 L355.2,104.3 L358.8,104.1 L362.5,103.4 L366.1,102.9 L369.7,102.9 L373.3,101.5 L376.9,100.7 L380.6,100.1 L384.2,99.1 L387.8,97.3 L391.4,96.9 L395.0,95.5 L398.7,95.2 L402.3,94.4 L405.9,92.5 L409.5,91.8 L413.1,92.1 L416.8,91.0 L420.4,91.9 L424.0,90.5 L427.6,89.9 L431.2,90.4 L434.9,89.7 L438.5,90.1 L442.1,89.8 L445.7,90.8 L449.3,90.2 L453.0,90.7 L456.6,88.4 L460.2,89.2 L463.8,88.1 L467.4,88.7 L471.1,87.3 L474.7,86.8 L478.3,88.0 L481.9,87.0 L485.5,85.9 L489.2,84.8 L492.8,83.8 L496.4,83.2 L500.0,82.6 L503.6,79.7 L507.3,77.4 L510.9,78.0 L514.5,80.2 L518.1,82.5 L521.7,81.6 L525.4,80.1 L529.0,78.9 L532.6,78.7 L536.2,77.7 L539.8,77.4 L543.5,77.3 L547.1,78.3 L550.7,76.5 L554.3,77.7 L557.9,77.2 L561.6,76.2 L565.2,75.7" fill="none" stroke="#f3a020" stroke-width="0.7" stroke-linejoin="round" stroke-linecap="round" opacity="0.9"/>
<path d="M333.5,107.9 L337.1,108.1 L340.7,107.4 L344.4,106.3 L348.0,105.6 L351.6,105.4 L355.2,105.1 L358.8,103.7 L362.5,104.4 L366.1,102.8 L369.7,101.8 L373.3,101.9 L376.9,102.0 L380.6,100.0 L384.2,99.3 L387.8,98.4 L391.4,97.4 L395.0,96.5 L398.7,94.5 L402.3,93.9 L405.9,92.6 L409.5,92.0 L413.1,91.6 L416.8,90.9 L420.4,90.9 L424.0,90.0 L427.6,89.6 L431.2,90.2 L434.9,90.0 L438.5,90.2 L442.1,89.0 L445.7,90.1 L449.3,90.1 L453.0,90.3 L456.6,88.9 L460.2,89.3 L463.8,88.9 L467.4,88.7 L471.1,88.6 L474.7,86.7 L478.3,87.4 L481.9,86.5 L485.5,87.3 L489.2,84.4 L492.8,84.0 L496.4,83.4 L500.0,82.0 L503.6,79.0 L507.3,78.0 L510.9,80.2 L514.5,79.5 L518.1,78.9 L521.7,80.5 L525.4,79.4 L529.0,78.1 L532.6,80.0 L536.2,78.2 L539.8,78.3 L543.5,76.8 L547.1,77.4 L550.7,77.1 L554.3,76.4 L557.9,75.5 L561.6,75.6 L565.2,75.5" fill="none" stroke="#f3a020" stroke-width="0.7" stroke-linejoin="round" stroke-linecap="round" opacity="0.9"/>
<path d="M333.5,108.2 L337.1,107.8 L340.7,107.4 L344.4,105.7 L348.0,105.6 L351.6,105.3 L355.2,105.2 L358.8,103.3 L362.5,103.4 L366.1,103.3 L369.7,102.8 L373.3,102.2 L376.9,101.2 L380.6,99.6 L384.2,98.9 L387.8,98.5 L391.4,97.3 L395.0,95.4 L398.7,95.3 L402.3,93.9 L405.9,92.6 L409.5,92.0 L413.1,90.7 L416.8,90.6 L420.4,91.3 L424.0,90.9 L427.6,91.0 L431.2,89.8 L434.9,90.5 L438.5,89.6 L442.1,89.6 L445.7,90.1 L449.3,89.9 L453.0,88.6 L456.6,89.3 L460.2,88.2 L463.8,87.6 L467.4,87.7 L471.1,86.8 L474.7,87.2 L478.3,87.3 L481.9,86.1 L485.5,86.4 L489.2,84.5 L492.8,83.2 L496.4,81.9 L500.0,80.9 L503.6,79.0 L507.3,77.3 L510.9,78.5 L514.5,79.0 L518.1,81.0 L521.7,80.5 L525.4,80.0 L529.0,79.1 L532.6,79.2 L536.2,78.6 L539.8,78.4 L543.5,78.0 L547.1,76.9 L550.7,76.3 L554.3,76.0 L557.9,77.2 L561.6,75.5 L565.2,76.7" fill="none" stroke="#f3a020" stroke-width="0.7" stroke-linejoin="round" stroke-linecap="round" opacity="0.9"/>
<rect x="324.2" y="3.7" width="249.8" height="171.8" fill="none" stroke="#1a1a1a" stroke-width="1.2" stroke-linejoin="round"/>
<line x1="333.5" y1="175.5" x2="333.5" y2="179.7" stroke="#111" stroke-width="1.3"/>
<text x="0" y="0" font-size="8.6" text-anchor="middle" fill="#000" stroke="#000" stroke-width="0.3" transform="translate(333.5 189.4) scale(1 1.12)">1950</text>
<line x1="369.7" y1="175.5" x2="369.7" y2="179.7" stroke="#111" stroke-width="1.3"/>
<text x="0" y="0" font-size="8.6" text-anchor="middle" fill="#000" stroke="#000" stroke-width="0.3" transform="translate(369.7 189.4) scale(1 1.12)">1960</text>
<line x1="405.9" y1="175.5" x2="405.9" y2="179.7" stroke="#111" stroke-width="1.3"/>
<text x="0" y="0" font-size="8.6" text-anchor="middle" fill="#000" stroke="#000" stroke-width="0.3" transform="translate(405.9 189.4) scale(1 1.12)">1970</text>
<line x1="442.1" y1="175.5" x2="442.1" y2="179.7" stroke="#111" stroke-width="1.3"/>
<text x="0" y="0" font-size="8.6" text-anchor="middle" fill="#000" stroke="#000" stroke-width="0.3" transform="translate(442.1 189.4) scale(1 1.12)">1980</text>
<line x1="478.3" y1="175.5" x2="478.3" y2="179.7" stroke="#111" stroke-width="1.3"/>
<text x="0" y="0" font-size="8.6" text-anchor="middle" fill="#000" stroke="#000" stroke-width="0.3" transform="translate(478.3 189.4) scale(1 1.12)">1990</text>
<line x1="514.5" y1="175.5" x2="514.5" y2="179.7" stroke="#111" stroke-width="1.3"/>
<text x="0" y="0" font-size="8.6" text-anchor="middle" fill="#000" stroke="#000" stroke-width="0.3" transform="translate(514.5 189.4) scale(1 1.12)">2000</text>
<line x1="550.7" y1="175.5" x2="550.7" y2="179.7" stroke="#111" stroke-width="1.3"/>
<text x="0" y="0" font-size="8.6" text-anchor="middle" fill="#000" stroke="#000" stroke-width="0.3" transform="translate(550.7 189.4) scale(1 1.12)">2010</text>
<line x1="320.0" y1="25.5" x2="324.2" y2="25.5" stroke="#111" stroke-width="1.3"/>
<text x="0" y="0" font-size="8.6" text-anchor="end" fill="#000" stroke="#000" stroke-width="0.3" transform="translate(316.5 28.9) scale(1 1.12)">40</text>
<line x1="320.0" y1="57.5" x2="324.2" y2="57.5" stroke="#111" stroke-width="1.3"/>
<text x="0" y="0" font-size="8.6" text-anchor="end" fill="#000" stroke="#000" stroke-width="0.3" transform="translate(316.5 60.9) scale(1 1.12)">20</text>
<line x1="320.0" y1="89.5" x2="324.2" y2="89.5" stroke="#111" stroke-width="1.3"/>
<text x="0" y="0" font-size="8.6" text-anchor="end" fill="#000" stroke="#000" stroke-width="0.3" transform="translate(316.5 92.9) scale(1 1.12)">0</text>
<line x1="320.0" y1="121.5" x2="324.2" y2="121.5" stroke="#111" stroke-width="1.3"/>
<text x="0" y="0" font-size="8.6" text-anchor="end" fill="#000" stroke="#000" stroke-width="0.3" transform="translate(316.5 124.9) scale(1 1.12)">−20</text>
<line x1="320.0" y1="153.5" x2="324.2" y2="153.5" stroke="#111" stroke-width="1.3"/>
<text x="0" y="0" font-size="8.6" text-anchor="end" fill="#000" stroke="#000" stroke-width="0.3" transform="translate(316.5 156.9) scale(1 1.12)">−40</text>
<text x="0" y="0" font-size="9.6" text-anchor="middle" fill="#000" stroke="#000" stroke-width="0.3" transform="translate(299.2 89.6) rotate(-90)">Anomaly (Tg)</text>
<rect x="337.2" y="13.0" width="36.30000000000001" height="31.5" fill="none" stroke="#1a1a1a" stroke-width="1.2" stroke-linejoin="round"/>
<line x1="342.3" y1="19.1" x2="350.8" y2="19.1" stroke="#000" stroke-width="2.8" stroke-linecap="round"/>
<text x="0" y="0" font-size="5.4" text-anchor="start" fill="#000" stroke="#000" stroke-width="0.15" transform="translate(355.8 21.1) scale(1 1.12)">TROP</text>
<line x1="342.3" y1="25.4" x2="350.8" y2="25.4" stroke="#e3202b" stroke-width="2.8" stroke-linecap="round"/>
<text x="0" y="0" font-size="5.4" text-anchor="start" fill="#000" stroke="#000" stroke-width="0.15" transform="translate(355.8 27.4) scale(1 1.12)">UT</text>
<line x1="342.3" y1="31.7" x2="350.8" y2="31.7" stroke="#a2222a" stroke-width="2.8" stroke-linecap="round"/>
<text x="0" y="0" font-size="5.4" text-anchor="start" fill="#000" stroke="#000" stroke-width="0.15" transform="translate(355.8 33.7) scale(1 1.12)">MT</text>
<line x1="342.3" y1="38.0" x2="350.8" y2="38.0" stroke="#f3a020" stroke-width="2.8" stroke-linecap="round"/>
<text x="0" y="0" font-size="5.4" text-anchor="start" fill="#000" stroke="#000" stroke-width="0.15" transform="translate(355.8 40.0) scale(1 1.12)">LT</text>
<path d="M45.0,352.0 L48.6,350.2 L52.1,348.0 L55.7,346.6 L59.2,345.2 L62.8,339.8 L66.4,333.0 L69.9,330.3 L73.5,328.5 L77.0,324.0 L80.6,318.1 L84.2,320.4 L87.7,317.7 L91.3,314.1 L94.8,311.3 L98.4,305.9 L102.0,302.3 L105.5,299.1 L109.1,288.7 L112.6,281.1 L116.2,270.7 L119.8,266.1 L123.3,259.8 L126.9,253.9 L130.4,256.2 L134.0,253.5 L137.6,247.2 L141.1,240.4 L144.7,230.0 L148.2,229.1 L151.8,231.3 L155.4,232.7 L158.9,233.6 L162.5,232.7 L166.0,226.8 L169.6,222.3 L173.2,220.0 L176.7,215.5 L180.3,210.1 L183.8,209.2 L187.4,211.9 L191.0,211.9 L194.5,214.6 L198.1,215.5 L201.6,218.7 L205.2,217.8 L208.8,218.7 L212.3,222.3 L215.9,224.6 L219.4,229.1 L223.0,230.0 L226.6,233.6 L230.1,238.1 L233.7,235.9 L237.2,233.6 L240.8,231.3 L244.4,229.1 L247.9,226.4 L251.5,220.9 L255.0,223.7 L258.6,222.3 L262.2,222.8 L265.7,223.2 L269.3,221.4 L272.8,223.7 L276.4,223.7" fill="none" stroke="#3652b2" stroke-width="3.2" stroke-linejoin="round" stroke-linecap="round"/>
<path d="M45.0,330.8 L48.6,356.5 L52.1,355.6 L55.7,346.6 L59.2,345.2 L62.8,348.4 L66.4,337.6 L69.9,328.5 L73.5,341.2 L77.0,354.7 L80.6,357.4 L84.2,355.6 L87.7,331.2 L91.3,350.2 L94.8,326.7 L98.4,356.5 L102.0,343.4 L105.5,341.6 L109.1,341.6 L112.6,356.1 L116.2,355.2 L119.8,354.7 L123.3,343.0 L126.9,332.1 L130.4,345.2 L134.0,357.4 L137.6,348.4 L141.1,347.5 L144.7,338.0 L148.2,347.5 L151.8,346.6 L155.4,352.0 L158.9,341.2 L162.5,321.3 L166.0,353.8 L169.6,352.0 L173.2,350.2 L176.7,355.2 L180.3,321.7 L183.8,338.5 L187.4,351.1 L191.0,339.8 L194.5,259.8 L198.1,353.4 L201.6,338.5 L205.2,277.9 L208.8,315.9 L212.3,215.5 L215.9,283.3 L219.4,326.3 L223.0,353.4 L226.6,351.1 L230.1,303.7 L233.7,315.0 L237.2,321.7 L240.8,321.3 L244.4,307.7 L247.9,330.8 L251.5,350.2 L255.0,346.6 L258.6,330.3 L262.2,350.2 L265.7,330.3 L269.3,355.6 L272.8,326.3 L276.4,294.6" fill="none" stroke="#a8262c" stroke-width="3.2" stroke-linejoin="round" stroke-linecap="round"/>
<rect x="35.5" y="192.5" width="250.5" height="171.89999999999998" fill="none" stroke="#1a1a1a" stroke-width="1.2" stroke-linejoin="round"/>
<line x1="45.0" y1="364.4" x2="45.0" y2="368.59999999999997" stroke="#111" stroke-width="1.3"/>
<text x="0" y="0" font-size="9.5" text-anchor="middle" fill="#000" stroke="#000" stroke-width="0.3" transform="translate(45.0 378.6) scale(1 1.08)">1950</text>
<line x1="80.6" y1="364.4" x2="80.6" y2="368.59999999999997" stroke="#111" stroke-width="1.3"/>
<text x="0" y="0" font-size="9.5" text-anchor="middle" fill="#000" stroke="#000" stroke-width="0.3" transform="translate(80.6 378.6) scale(1 1.08)">1960</text>
<line x1="116.2" y1="364.4" x2="116.2" y2="368.59999999999997" stroke="#111" stroke-width="1.3"/>
<text x="0" y="0" font-size="9.5" text-anchor="middle" fill="#000" stroke="#000" stroke-width="0.3" transform="translate(116.2 378.6) scale(1 1.08)">1970</text>
<line x1="151.8" y1="364.4" x2="151.8" y2="368.59999999999997" stroke="#111" stroke-width="1.3"/>
<text x="0" y="0" font-size="9.5" text-anchor="middle" fill="#000" stroke="#000" stroke-width="0.3" transform="translate(151.8 378.6) scale(1 1.08)">1980</text>
<line x1="187.4" y1="364.4" x2="187.4" y2="368.59999999999997" stroke="#111" stroke-width="1.3"/>
<text x="0" y="0" font-size="9.5" text-anchor="middle" fill="#000" stroke="#000" stroke-width="0.3" transform="translate(187.4 378.6) scale(1 1.08)">1990</text>
<line x1="223.0" y1="364.4" x2="223.0" y2="368.59999999999997" stroke="#111" stroke-width="1.3"/>
<text x="0" y="0" font-size="9.5" text-anchor="middle" fill="#000" stroke="#000" stroke-width="0.3" transform="translate(223.0 378.6) scale(1 1.08)">2000</text>
<line x1="258.6" y1="364.4" x2="258.6" y2="368.59999999999997" stroke="#111" stroke-width="1.3"/>
<text x="0" y="0" font-size="9.5" text-anchor="middle" fill="#000" stroke="#000" stroke-width="0.3" transform="translate(258.6 378.6) scale(1 1.08)">2010</text>
<line x1="31.3" y1="346.6" x2="35.5" y2="346.6" stroke="#111" stroke-width="1.3"/>
<text x="0" y="0" font-size="9.5" text-anchor="end" fill="#000" stroke="#000" stroke-width="0.3" transform="translate(27.4 350.0) scale(1 1.08)">300</text>
<line x1="31.3" y1="324.0" x2="35.5" y2="324.0" stroke="#111" stroke-width="1.3"/>
<text x="0" y="0" font-size="9.5" text-anchor="end" fill="#000" stroke="#000" stroke-width="0.3" transform="translate(27.4 327.4) scale(1 1.08)">350</text>
<line x1="31.3" y1="301.4" x2="35.5" y2="301.4" stroke="#111" stroke-width="1.3"/>
<text x="0" y="0" font-size="9.5" text-anchor="end" fill="#000" stroke="#000" stroke-width="0.3" transform="translate(27.4 304.8) scale(1 1.08)">400</text>
<line x1="31.3" y1="278.8" x2="35.5" y2="278.8" stroke="#111" stroke-width="1.3"/>
<text x="0" y="0" font-size="9.5" text-anchor="end" fill="#000" stroke="#000" stroke-width="0.3" transform="translate(27.4 282.2) scale(1 1.08)">450</text>
<line x1="31.3" y1="256.2" x2="35.5" y2="256.2" stroke="#111" stroke-width="1.3"/>
<text x="0" y="0" font-size="9.5" text-anchor="end" fill="#000" stroke="#000" stroke-width="0.3" transform="translate(27.4 259.6) scale(1 1.08)">500</text>
<line x1="31.3" y1="233.6" x2="35.5" y2="233.6" stroke="#111" stroke-width="1.3"/>
<text x="0" y="0" font-size="9.5" text-anchor="end" fill="#000" stroke="#000" stroke-width="0.3" transform="translate(27.4 237.0) scale(1 1.08)">550</text>
<line x1="31.3" y1="211.0" x2="35.5" y2="211.0" stroke="#111" stroke-width="1.3"/>
<text x="0" y="0" font-size="9.5" text-anchor="end" fill="#000" stroke="#000" stroke-width="0.3" transform="translate(27.4 214.4) scale(1 1.08)">600</text>
<text x="0" y="0" font-size="9.4" text-anchor="middle" fill="#000" stroke="#000" stroke-width="0.3" transform="translate(160.4 394.3) scale(1 1.08)">Year</text>
<text x="0" y="0" font-size="9.8" text-anchor="middle" fill="#000" stroke="#000" stroke-width="0.3" transform="translate(7.6 277.4) rotate(-90)">CO Emissions (Tg/y)</text>
<rect x="48.2" y="201.3" width="89.7" height="28.099999999999994" fill="none" stroke="#1a1a1a" stroke-width="1.2" stroke-linejoin="round"/>
<line x1="55.5" y1="210.3" x2="69.4" y2="210.3" stroke="#3652b2" stroke-width="2.6" stroke-linecap="round"/>
<line x1="55.5" y1="219.5" x2="69.4" y2="219.5" stroke="#a8262c" stroke-width="2.6" stroke-linecap="round"/>
<text x="0" y="0" font-size="7.6" text-anchor="start" fill="#000" stroke="#000" stroke-width="0.12" transform="translate(76.9 213.0) scale(1 1.06)">Anthropogenic</text>
<text x="0" y="0" font-size="7.6" text-anchor="start" fill="#000" stroke="#000" stroke-width="0.12" transform="translate(76.9 222.2) scale(1 1.06)">Biomass Burning</text>
<path d="M333.4,343.2 L337.0,341.6 L340.6,340.4 L344.1,338.8 L347.7,337.6 L351.3,334.0 L354.9,330.8 L358.5,328.8 L362.0,327.2 L365.6,325.2 L369.2,322.4 L372.8,320.4 L376.4,317.6 L379.9,313.2 L383.5,308.9 L387.1,305.7 L390.7,302.5 L394.3,297.3 L397.8,294.1 L401.4,291.3 L405.0,284.1 L408.6,281.3 L412.2,276.9 L415.7,270.1 L419.3,271.3 L422.9,272.5 L426.5,267.3 L430.1,264.1 L433.6,260.9 L437.2,257.3 L440.8,257.7 L444.4,259.3 L448.0,262.5 L451.5,261.7 L455.1,258.9 L458.7,257.3 L462.3,256.1 L465.9,252.6 L469.4,246.6 L473.0,244.6 L476.6,244.2 L480.2,242.6 L483.8,241.0 L487.3,239.0 L490.9,240.2 L494.5,237.8 L498.1,237.0 L501.7,236.6 L505.2,236.2 L508.8,237.4 L512.4,233.4 L516.0,233.4 L519.6,232.2 L523.1,227.4 L526.7,222.6 L530.3,219.0 L533.9,212.2 L537.5,207.8 L541.0,205.8 L544.6,211.4 L548.2,211.0 L551.8,204.2 L555.4,205.8 L558.9,207.4 L562.5,208.6 L566.1,209.0" fill="none" stroke="#3652b2" stroke-width="3.2" stroke-linejoin="round" stroke-linecap="round"/>
<path d="M333.4,350.4 L337.0,354.0 L340.6,353.6 L344.1,352.8 L347.7,352.4 L351.3,352.4 L354.9,351.2 L358.5,349.2 L362.0,352.0 L365.6,353.6 L369.2,354.0 L372.8,354.4 L376.4,351.6 L379.9,353.2 L383.5,352.0 L387.1,354.8 L390.7,353.6 L394.3,352.0 L397.8,353.6 L401.4,354.4 L405.0,354.4 L408.6,354.4 L412.2,352.4 L415.7,353.2 L419.3,353.6 L422.9,354.8 L426.5,352.8 L430.1,352.4 L433.6,351.6 L437.2,353.2 L440.8,353.6 L444.4,354.4 L448.0,351.2 L451.5,354.4 L455.1,354.8 L458.7,354.0 L462.3,355.2 L465.9,350.4 L469.4,352.0 L473.0,354.0 L476.6,354.4 L480.2,350.8 L483.8,348.0 L487.3,354.4 L490.9,352.8 L494.5,348.0 L498.1,348.8 L501.7,345.6 L505.2,342.4 L508.8,348.8 L512.4,353.6 L516.0,350.8 L519.6,351.2 L523.1,351.6 L526.7,350.4 L530.3,349.6 L533.9,351.6 L537.5,349.6 L541.0,354.4 L544.6,354.4 L548.2,350.8 L551.8,352.8 L555.4,353.2 L558.9,356.0 L562.5,353.6 L566.1,351.6" fill="none" stroke="#a8262c" stroke-width="3.2" stroke-linejoin="round" stroke-linecap="round"/>
<rect x="324.5" y="192.8" width="249.70000000000005" height="171.59999999999997" fill="none" stroke="#1a1a1a" stroke-width="1.2" stroke-linejoin="round"/>
<line x1="333.4" y1="364.4" x2="333.4" y2="368.59999999999997" stroke="#111" stroke-width="1.3"/>
<text x="0" y="0" font-size="9.5" text-anchor="middle" fill="#000" stroke="#000" stroke-width="0.3" transform="translate(333.4 378.6) scale(1 1.08)">1950</text>
<line x1="369.2" y1="364.4" x2="369.2" y2="368.59999999999997" stroke="#111" stroke-width="1.3"/>
<text x="0" y="0" font-size="9.5" text-anchor="middle" fill="#000" stroke="#000" stroke-width="0.3" transform="translate(369.2 378.6) scale(1 1.08)">1960</text>
<line x1="405.0" y1="364.4" x2="405.0" y2="368.59999999999997" stroke="#111" stroke-width="1.3"/>
<text x="0" y="0" font-size="9.5" text-anchor="middle" fill="#000" stroke="#000" stroke-width="0.3" transform="translate(405.0 378.6) scale(1 1.08)">1970</text>
<line x1="440.8" y1="364.4" x2="440.8" y2="368.59999999999997" stroke="#111" stroke-width="1.3"/>
<text x="0" y="0" font-size="9.5" text-anchor="middle" fill="#000" stroke="#000" stroke-width="0.3" transform="translate(440.8 378.6) scale(1 1.08)">1980</text>
<line x1="476.6" y1="364.4" x2="476.6" y2="368.59999999999997" stroke="#111" stroke-width="1.3"/>
<text x="0" y="0" font-size="9.5" text-anchor="middle" fill="#000" stroke="#000" stroke-width="0.3" transform="translate(476.6 378.6) scale(1 1.08)">1990</text>
<line x1="512.4" y1="364.4" x2="512.4" y2="368.59999999999997" stroke="#111" stroke-width="1.3"/>
<text x="0" y="0" font-size="9.5" text-anchor="middle" fill="#000" stroke="#000" stroke-width="0.3" transform="translate(512.4 378.6) scale(1 1.08)">2000</text>
<line x1="548.2" y1="364.4" x2="548.2" y2="368.59999999999997" stroke="#111" stroke-width="1.3"/>
<text x="0" y="0" font-size="9.5" text-anchor="middle" fill="#000" stroke="#000" stroke-width="0.3" transform="translate(548.2 378.6) scale(1 1.08)">2010</text>
<line x1="320.3" y1="338.4" x2="324.5" y2="338.4" stroke="#111" stroke-width="1.3"/>
<text x="0" y="0" font-size="9.5" text-anchor="end" fill="#000" stroke="#000" stroke-width="0.3" transform="translate(316.2 341.8) scale(1 1.08)">10</text>
<line x1="320.3" y1="298.5" x2="324.5" y2="298.5" stroke="#111" stroke-width="1.3"/>
<text x="0" y="0" font-size="9.5" text-anchor="end" fill="#000" stroke="#000" stroke-width="0.3" transform="translate(316.2 301.9) scale(1 1.08)">20</text>
<line x1="320.3" y1="258.5" x2="324.5" y2="258.5" stroke="#111" stroke-width="1.3"/>
<text x="0" y="0" font-size="9.5" text-anchor="end" fill="#000" stroke="#000" stroke-width="0.3" transform="translate(316.2 261.9) scale(1 1.08)">30</text>
<line x1="320.3" y1="218.6" x2="324.5" y2="218.6" stroke="#111" stroke-width="1.3"/>
<text x="0" y="0" font-size="9.5" text-anchor="end" fill="#000" stroke="#000" stroke-width="0.3" transform="translate(316.2 222.0) scale(1 1.08)">40</text>
<text x="0" y="0" font-size="9.4" text-anchor="middle" fill="#000" stroke="#000" stroke-width="0.3" transform="translate(449.2 394.3) scale(1 1.08)">Year</text>
<text x="0" y="0" font-size="9.7" text-anchor="middle" fill="#000" stroke="#000" stroke-width="0.3" transform="translate(299.5 278.1) rotate(-90)">NO Emissions (TgN/y)</text>
</g></svg>
</body></html>
